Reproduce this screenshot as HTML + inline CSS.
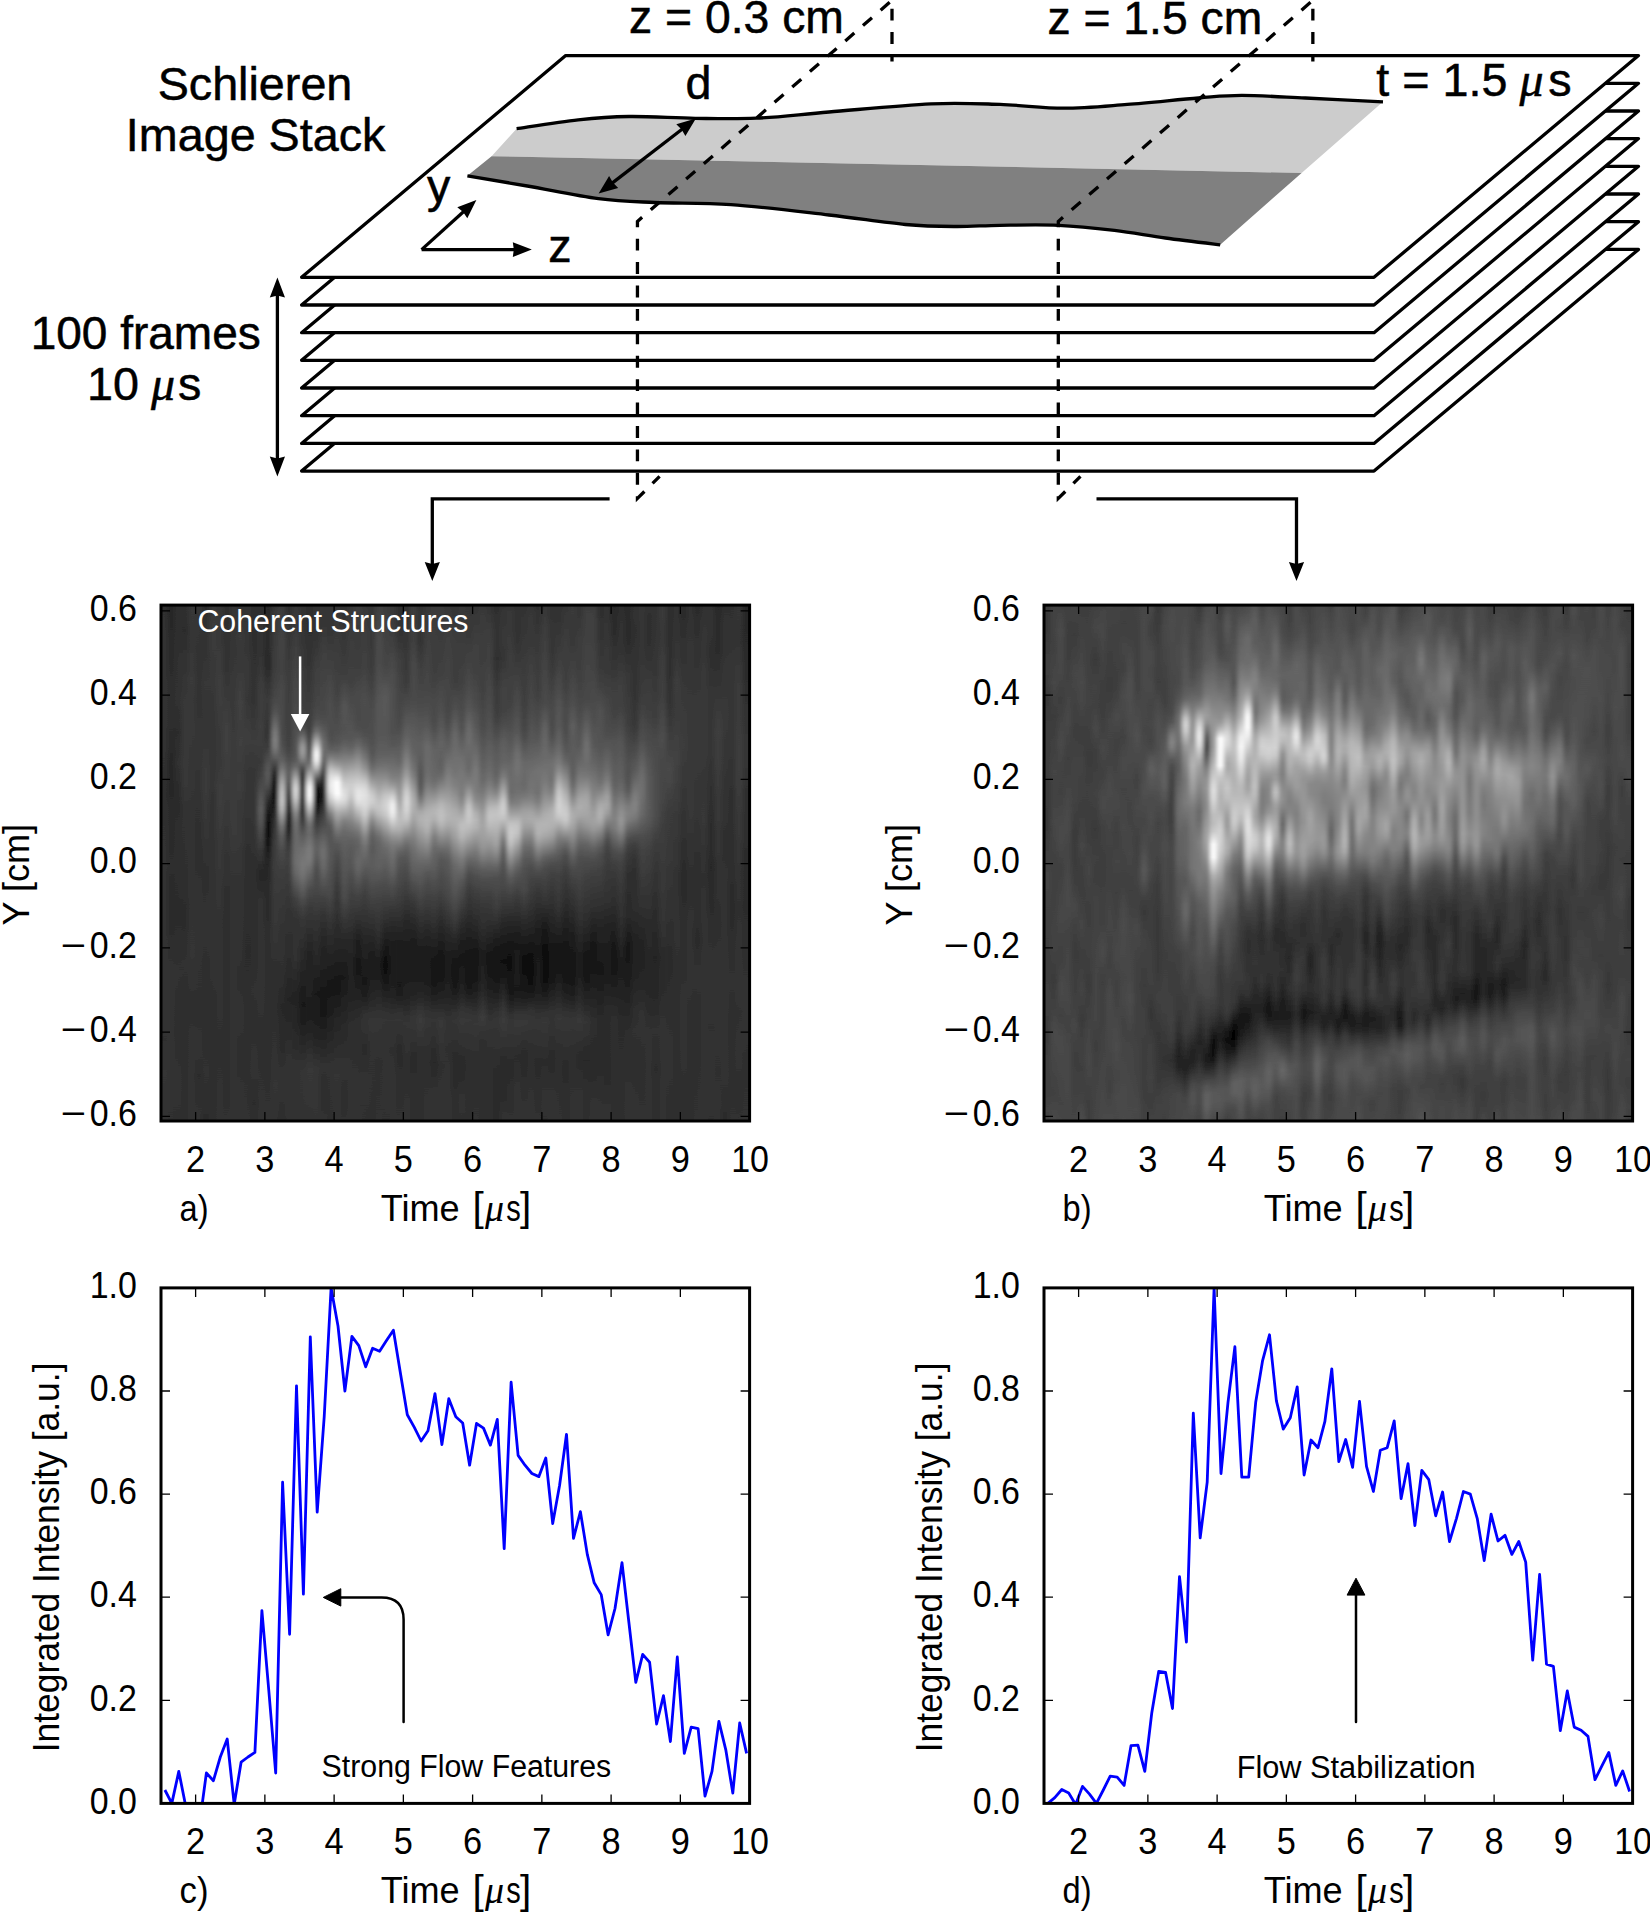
<!DOCTYPE html>
<html lang="en"><head><meta charset="utf-8"><title>Schlieren image stack analysis</title>
<style>html,body{margin:0;padding:0;background:#fff}body{width:1650px;height:1912px;overflow:hidden}svg{display:block}text{font-family:"Liberation Sans", Arial, Helvetica, sans-serif;fill:#000}.mu{font-family:"Liberation Serif", "DejaVu Serif", serif;font-style:italic}</style>
</head><body>
<svg width="1650" height="1912" viewBox="0 0 1650 1912">
<rect width="1650" height="1912" fill="#fff"/>
<defs></defs>

<g id="stack" stroke="#000" stroke-width="3.3" fill="#fff" stroke-linejoin="round">
<path d="M565.7 249.4L1638.5 249.4L1374.0 471.1L301.6 471.1Z"/>
<path d="M565.7 221.7L1638.5 221.7L1374.0 443.4L301.6 443.4Z"/>
<path d="M565.7 194.0L1638.5 194.0L1374.0 415.7L301.6 415.7Z"/>
<path d="M565.7 166.3L1638.5 166.3L1374.0 388.0L301.6 388.0Z"/>
<path d="M565.7 138.6L1638.5 138.6L1374.0 360.3L301.6 360.3Z"/>
<path d="M565.7 111.0L1638.5 111.0L1374.0 332.7L301.6 332.7Z"/>
<path d="M565.7 83.3L1638.5 83.3L1374.0 305.0L301.6 305.0Z"/>
<path d="M565.7 55.6L1638.5 55.6L1374.0 277.3L301.6 277.3Z"/>
</g>
<g id="jet">
<path d="M516.6 128.7C526.9 127.2 559.5 121.8 578.2 119.8C596.9 117.8 609.5 116.8 629.0 116.5C648.5 116.2 674.0 118.0 695.2 118.3C716.4 118.6 734.0 119.2 756.3 118.2C778.6 117.2 799.9 114.4 829.0 112.0C858.1 109.6 902.5 105.1 931.0 103.8C959.5 102.5 977.9 103.7 1000.0 104.4C1022.1 105.1 1042.4 108.2 1063.6 108.2C1084.8 108.2 1104.8 106.1 1127.3 104.4C1149.8 102.7 1179.4 99.5 1198.5 98.0C1217.6 96.5 1224.0 95.4 1241.8 95.4C1259.6 95.4 1281.9 96.9 1305.4 98.0C1328.9 99.1 1370.1 101.2 1383.0 101.8L1301.6 173.0L491.6 156.2Z" fill="#cccccc"/>
<path d="M467.4 175.8C477.4 177.5 505.4 182.2 527.3 186.0C549.1 189.8 577.3 195.9 598.5 198.7C619.7 201.4 632.4 201.5 654.5 202.5C676.6 203.5 701.8 202.5 730.9 204.6C760.0 206.7 799.9 211.7 829.0 215.0C858.1 218.3 884.2 222.6 905.4 224.5C926.6 226.4 940.2 226.4 956.0 226.5C971.8 226.6 982.9 225.5 1000.0 225.3C1017.1 225.1 1039.4 224.5 1058.5 225.3C1077.6 226.1 1096.7 228.2 1114.5 230.3C1132.3 232.4 1147.8 235.6 1165.4 238.0C1183.0 240.4 1211.1 243.7 1220.2 244.8L1301.6 173.0L491.6 156.2Z" fill="#808080"/>
<path d="M516.6 128.7C526.9 127.2 559.5 121.8 578.2 119.8C596.9 117.8 609.5 116.8 629.0 116.5C648.5 116.2 674.0 118.0 695.2 118.3C716.4 118.6 734.0 119.2 756.3 118.2C778.6 117.2 799.9 114.4 829.0 112.0C858.1 109.6 902.5 105.1 931.0 103.8C959.5 102.5 977.9 103.7 1000.0 104.4C1022.1 105.1 1042.4 108.2 1063.6 108.2C1084.8 108.2 1104.8 106.1 1127.3 104.4C1149.8 102.7 1179.4 99.5 1198.5 98.0C1217.6 96.5 1224.0 95.4 1241.8 95.4C1259.6 95.4 1281.9 96.9 1305.4 98.0C1328.9 99.1 1370.1 101.2 1383.0 101.8" fill="none" stroke="#000" stroke-width="3.3"/>
<path d="M467.4 175.8C477.4 177.5 505.4 182.2 527.3 186.0C549.1 189.8 577.3 195.9 598.5 198.7C619.7 201.4 632.4 201.5 654.5 202.5C676.6 203.5 701.8 202.5 730.9 204.6C760.0 206.7 799.9 211.7 829.0 215.0C858.1 218.3 884.2 222.6 905.4 224.5C926.6 226.4 940.2 226.4 956.0 226.5C971.8 226.6 982.9 225.5 1000.0 225.3C1017.1 225.1 1039.4 224.5 1058.5 225.3C1077.6 226.1 1096.7 228.2 1114.5 230.3C1132.3 232.4 1147.8 235.6 1165.4 238.0C1183.0 240.4 1211.1 243.7 1220.2 244.8" fill="none" stroke="#000" stroke-width="3.3"/>
</g>
<g id="planes" fill="none" stroke="#000" stroke-width="3.3" stroke-dasharray="11.93 11.49" stroke-dashoffset="2">
<path d="M659.6 476.4L637.45 498.4V221.4L892 0.3V61.6"/>
<path d="M1080.45 476.4L1058.3 498.4V221.4L1312.85 0.3V61.6"/>
</g>
<g id="arrows" stroke="#000" stroke-width="3.3" fill="none">
<path d="M609.6 498.8H432.3V566"/>
<path d="M1096.5 498.8H1296.5V566"/>
<path d="M277.4 292V462"/>
<path d="M421.6 249.6H516"/>
<path d="M421.6 249.6L464 211.2"/>
<path d="M684 127.8L610.5 184.4"/>
</g>
<g id="arrowheads">
<path d="M432.3 581.0 L424.7 562.0 L432.3 564.0 L439.9 562.0Z" fill="#000"/>
<path d="M1296.5 581.0 L1288.9 562.0 L1296.5 564.0 L1304.1 562.0Z" fill="#000"/>
<path d="M277.4 277.6 L285.0 297.6 L277.4 295.6 L269.8 297.6Z" fill="#000"/>
<path d="M277.4 476.4 L269.8 456.4 L277.4 458.4 L285.0 456.4Z" fill="#000"/>
<path d="M531.8 249.6 L512.8 257.0 L513.8 249.6 L512.8 242.2Z" fill="#000"/>
<path d="M476.4 200.0 L467.3 218.2 L463.1 212.1 L457.3 207.3Z" fill="#000"/>
<path d="M695.9 118.6 L685.4 136.1 L681.6 129.6 L676.3 124.3Z" fill="#000"/>
<path d="M598.6 193.6 L609.1 176.1 L612.9 182.6 L618.2 187.9Z" fill="#000"/>
</g>
<g id="toplabels" font-size="46.7" stroke="#000" stroke-width="0.5">
<text x="255" y="99.6" text-anchor="middle">Schlieren</text>
<text x="255.6" y="151.0" text-anchor="middle">Image Stack</text>
<text x="145.7" y="349" text-anchor="middle" font-size="46">100 frames</text>
<text x="87" y="399.5">10</text><text class="mu" x="151" y="399.5" font-size="48">μ</text><text x="178" y="399.5">s</text>
<text x="629" y="33.2" font-size="46.3">z = 0.3 cm</text>
<text x="1047.4" y="34.2" font-size="46.3">z = 1.5 cm</text>
<text x="1376.3" y="96.4">t = 1.5</text><text class="mu" x="1519.5" y="96.4" font-size="48">μ</text><text x="1548.3" y="96.4">s</text>
<text x="685.5" y="99.2">d</text>
<text x="427.0" y="202">y</text>
<text x="548.3" y="261.8">z</text>
</g>
<g id="img-a">
<rect x="161.00" y="605.10" width="588.60" height="515.90" fill="#303030"/>
<defs><linearGradient id="a0" x2="0" y2="1"><stop offset="0" stop-color="#2f2f2f"/><stop offset=".083" stop-color="#323232"/><stop offset=".373" stop-color="#2f2f2f"/><stop offset=".765" stop-color="#333333"/><stop offset=".841" stop-color="#2f2f2f"/><stop offset=".905" stop-color="#343434"/><stop offset="1" stop-color="#323232"/></linearGradient><linearGradient id="a1" x2="0" y2="1"><stop offset="0" stop-color="#262626"/><stop offset=".151" stop-color="#2d2d2d"/><stop offset=".235" stop-color="#2d2d2d"/><stop offset=".309" stop-color="#262626"/><stop offset=".507" stop-color="#2d2d2d"/><stop offset=".59" stop-color="#292929"/><stop offset=".73" stop-color="#323232"/><stop offset=".8" stop-color="#303030"/><stop offset=".897" stop-color="#323232"/><stop offset="1" stop-color="#2f2f2f"/></linearGradient><linearGradient id="a2" x2="0" y2="1"><stop offset="0" stop-color="#2f2f2f"/><stop offset=".19" stop-color="#303030"/><stop offset=".247" stop-color="#2c2c2c"/><stop offset=".307" stop-color="#303030"/><stop offset=".367" stop-color="#2a2a2a"/><stop offset=".439" stop-color="#2e2e2e"/><stop offset=".608" stop-color="#2c2c2c"/><stop offset=".713" stop-color="#303030"/><stop offset=".829" stop-color="#2d2d2d"/><stop offset=".92" stop-color="#313131"/><stop offset="1" stop-color="#2f2f2f"/></linearGradient><linearGradient id="a3" x2="0" y2="1"><stop offset="0" stop-color="#2f2f2f"/><stop offset=".05" stop-color="#2c2c2c"/><stop offset=".163" stop-color="#363636"/><stop offset=".243" stop-color="#393939"/><stop offset=".34" stop-color="#383838"/><stop offset=".414" stop-color="#303030"/><stop offset=".522" stop-color="#2f2f2f"/><stop offset=".604" stop-color="#2b2b2b"/><stop offset=".695" stop-color="#303030"/><stop offset=".781" stop-color="#2d2d2d"/><stop offset="1" stop-color="#2f2f2f"/></linearGradient><linearGradient id="a4" x2="0" y2="1"><stop offset="0" stop-color="#373737"/><stop offset=".082" stop-color="#363636"/><stop offset=".144" stop-color="#3a3a3a"/><stop offset=".419" stop-color="#323232"/><stop offset=".68" stop-color="#343434"/><stop offset=".773" stop-color="#2e2e2e"/><stop offset=".845" stop-color="#313131"/><stop offset="1" stop-color="#313131"/></linearGradient><linearGradient id="a5" x2="0" y2="1"><stop offset="0" stop-color="#353535"/><stop offset=".161" stop-color="#313131"/><stop offset=".287" stop-color="#363636"/><stop offset=".359" stop-color="#303030"/><stop offset=".491" stop-color="#2e2e2e"/><stop offset=".557" stop-color="#313131"/><stop offset=".812" stop-color="#2f2f2f"/><stop offset=".858" stop-color="#323232"/><stop offset=".911" stop-color="#2c2c2c"/><stop offset="1" stop-color="#313131"/></linearGradient><linearGradient id="a6" x2="0" y2="1"><stop offset="0" stop-color="#2b2b2b"/><stop offset=".151" stop-color="#373737"/><stop offset=".245" stop-color="#343434"/><stop offset=".332" stop-color="#3b3b3b"/><stop offset=".388" stop-color="#393939"/><stop offset=".52" stop-color="#2e2e2e"/><stop offset=".614" stop-color="#313131"/><stop offset=".767" stop-color="#2d2d2d"/><stop offset=".903" stop-color="#303030"/><stop offset=".957" stop-color="#2f2f2f"/><stop offset="1" stop-color="#2b2b2b"/></linearGradient><linearGradient id="a7" x2="0" y2="1"><stop offset="0" stop-color="#383838"/><stop offset=".058" stop-color="#3b3b3b"/><stop offset=".225" stop-color="#343434"/><stop offset=".32" stop-color="#363636"/><stop offset=".383" stop-color="#323232"/><stop offset=".602" stop-color="#333333"/><stop offset=".759" stop-color="#2f2f2f"/><stop offset="1" stop-color="#2f2f2f"/></linearGradient><linearGradient id="a8" x2="0" y2="1"><stop offset="0" stop-color="#363636"/><stop offset=".169" stop-color="#3d3d3d"/><stop offset=".289" stop-color="#373737"/><stop offset=".361" stop-color="#3d3d3d"/><stop offset=".604" stop-color="#333333"/><stop offset=".858" stop-color="#2f2f2f"/><stop offset="1" stop-color="#313131"/></linearGradient><linearGradient id="a9" x2="0" y2="1"><stop offset="0" stop-color="#2e2e2e"/><stop offset=".109" stop-color="#313131"/><stop offset=".25" stop-color="#414141"/><stop offset=".583" stop-color="#2d2d2d"/><stop offset=".936" stop-color="#2e2e2e"/><stop offset="1" stop-color="#303030"/></linearGradient><linearGradient id="a10" x2="0" y2="1"><stop offset="0" stop-color="#343434"/><stop offset=".28" stop-color="#3a3a3a"/><stop offset=".443" stop-color="#3a3a3a"/><stop offset=".509" stop-color="#343434"/><stop offset=".633" stop-color="#303030"/><stop offset="1" stop-color="#313131"/></linearGradient><linearGradient id="a11" x2="0" y2="1"><stop offset="0" stop-color="#2f2f2f"/><stop offset=".06" stop-color="#3a3a3a"/><stop offset=".12" stop-color="#383838"/><stop offset=".188" stop-color="#424242"/><stop offset=".231" stop-color="#3e3e3e"/><stop offset=".27" stop-color="#3f3f3f"/><stop offset=".313" stop-color="#3b3b3b"/><stop offset=".35" stop-color="#3d3d3d"/><stop offset=".388" stop-color="#383838"/><stop offset=".423" stop-color="#393939"/><stop offset=".55" stop-color="#323232"/><stop offset=".631" stop-color="#333333"/><stop offset=".722" stop-color="#2e2e2e"/><stop offset=".798" stop-color="#323232"/><stop offset=".868" stop-color="#2d2d2d"/><stop offset=".948" stop-color="#313131"/><stop offset="1" stop-color="#303030"/></linearGradient><linearGradient id="a12" x2="0" y2="1"><stop offset="0" stop-color="#323232"/><stop offset=".134" stop-color="#383838"/><stop offset=".186" stop-color="#363636"/><stop offset=".254" stop-color="#3d3d3d"/><stop offset=".322" stop-color="#363636"/><stop offset=".377" stop-color="#363636"/><stop offset=".468" stop-color="#2f2f2f"/><stop offset=".67" stop-color="#2c2c2c"/><stop offset="1" stop-color="#303030"/></linearGradient><linearGradient id="a13" x2="0" y2="1"><stop offset="0" stop-color="#2e2e2e"/><stop offset=".167" stop-color="#303030"/><stop offset=".266" stop-color="#3c3c3c"/><stop offset=".326" stop-color="#353535"/><stop offset=".416" stop-color="#343434"/><stop offset=".52" stop-color="#2d2d2d"/><stop offset=".676" stop-color="#2d2d2d"/><stop offset=".746" stop-color="#303030"/><stop offset=".794" stop-color="#2e2e2e"/><stop offset=".901" stop-color="#313131"/><stop offset=".965" stop-color="#2c2c2c"/><stop offset="1" stop-color="#2e2e2e"/></linearGradient><linearGradient id="a14" x2="0" y2="1"><stop offset="0" stop-color="#2f2f2f"/><stop offset=".097" stop-color="#333333"/><stop offset=".151" stop-color="#3c3c3c"/><stop offset=".196" stop-color="#3c3c3c"/><stop offset=".235" stop-color="#3f3f3f"/><stop offset=".305" stop-color="#393939"/><stop offset=".332" stop-color="#414141"/><stop offset=".379" stop-color="#5a5a5a"/><stop offset=".396" stop-color="#5f5f5f"/><stop offset=".416" stop-color="#5a5a5a"/><stop offset=".47" stop-color="#3c3c3c"/><stop offset=".507" stop-color="#2a2a2a"/><stop offset=".522" stop-color="#262626"/><stop offset=".571" stop-color="#303030"/><stop offset=".6" stop-color="#323232"/><stop offset=".763" stop-color="#313131"/><stop offset=".839" stop-color="#2e2e2e"/><stop offset="1" stop-color="#313131"/></linearGradient><linearGradient id="a15" x2="0" y2="1"><stop offset="0" stop-color="#282828"/><stop offset=".064" stop-color="#2a2a2a"/><stop offset=".12" stop-color="#272727"/><stop offset=".184" stop-color="#3a3a3a"/><stop offset=".235" stop-color="#323232"/><stop offset=".254" stop-color="#323232"/><stop offset=".274" stop-color="#393939"/><stop offset=".311" stop-color="#565656"/><stop offset=".326" stop-color="#5b5b5b"/><stop offset=".336" stop-color="#595959"/><stop offset=".348" stop-color="#515151"/><stop offset=".383" stop-color="#272727"/><stop offset=".408" stop-color="#0f0f0f"/><stop offset=".421" stop-color="#050505"/><stop offset=".433" stop-color="#020202"/><stop offset=".449" stop-color="#060606"/><stop offset=".491" stop-color="#212121"/><stop offset=".522" stop-color="#282828"/><stop offset=".672" stop-color="#2f2f2f"/><stop offset=".794" stop-color="#2d2d2d"/><stop offset="1" stop-color="#303030"/></linearGradient><linearGradient id="a16" x2="0" y2="1"><stop offset="0" stop-color="#363636"/><stop offset=".136" stop-color="#3f3f3f"/><stop offset=".179" stop-color="#464646"/><stop offset=".206" stop-color="#535353"/><stop offset=".247" stop-color="#7b7b7b"/><stop offset=".262" stop-color="#828282"/><stop offset=".274" stop-color="#7e7e7e"/><stop offset=".285" stop-color="#707070"/><stop offset=".297" stop-color="#5c5c5c"/><stop offset=".33" stop-color="#181818"/><stop offset=".34" stop-color="#080808"/><stop offset=".348" stop-color="#000000"/><stop offset=".371" stop-color="#010101"/><stop offset=".402" stop-color="#242424"/><stop offset=".421" stop-color="#333333"/><stop offset=".441" stop-color="#393939"/><stop offset=".47" stop-color="#3e3e3e"/><stop offset=".633" stop-color="#363636"/><stop offset=".703" stop-color="#2e2e2e"/><stop offset=".862" stop-color="#303030"/><stop offset=".928" stop-color="#343434"/><stop offset="1" stop-color="#323232"/></linearGradient><linearGradient id="a17" x2="0" y2="1"><stop offset="0" stop-color="#3b3b3b"/><stop offset=".078" stop-color="#454545"/><stop offset=".122" stop-color="#424242"/><stop offset=".173" stop-color="#494949"/><stop offset=".247" stop-color="#494949"/><stop offset=".272" stop-color="#4f4f4f"/><stop offset=".287" stop-color="#575757"/><stop offset=".301" stop-color="#626262"/><stop offset=".315" stop-color="#767676"/><stop offset=".338" stop-color="#a2a2a2"/><stop offset=".35" stop-color="#b5b5b5"/><stop offset=".363" stop-color="#c3c3c3"/><stop offset=".377" stop-color="#c9c9c9"/><stop offset=".386" stop-color="#c5c5c5"/><stop offset=".396" stop-color="#bababa"/><stop offset=".429" stop-color="#787878"/><stop offset=".447" stop-color="#606060"/><stop offset=".476" stop-color="#4c4c4c"/><stop offset=".515" stop-color="#3d3d3d"/><stop offset=".643" stop-color="#313131"/><stop offset=".72" stop-color="#2f2f2f"/><stop offset=".777" stop-color="#282828"/><stop offset=".856" stop-color="#2b2b2b"/><stop offset=".926" stop-color="#333333"/><stop offset="1" stop-color="#2c2c2c"/></linearGradient><linearGradient id="a18" x2="0" y2="1"><stop offset="0" stop-color="#2d2d2d"/><stop offset=".12" stop-color="#3b3b3b"/><stop offset=".266" stop-color="#3f3f3f"/><stop offset=".283" stop-color="#444444"/><stop offset=".313" stop-color="#575757"/><stop offset=".324" stop-color="#5b5b5b"/><stop offset=".332" stop-color="#595959"/><stop offset=".342" stop-color="#525252"/><stop offset=".39" stop-color="#101010"/><stop offset=".4" stop-color="#070707"/><stop offset=".41" stop-color="#040404"/><stop offset=".425" stop-color="#0b0b0b"/><stop offset=".452" stop-color="#2a2a2a"/><stop offset=".464" stop-color="#353535"/><stop offset=".478" stop-color="#3c3c3c"/><stop offset=".491" stop-color="#3f3f3f"/><stop offset=".608" stop-color="#313131"/><stop offset=".676" stop-color="#2d2d2d"/><stop offset=".765" stop-color="#242424"/><stop offset=".901" stop-color="#333333"/><stop offset="1" stop-color="#323232"/></linearGradient><linearGradient id="a19" x2="0" y2="1"><stop offset="0" stop-color="#393939"/><stop offset=".056" stop-color="#3b3b3b"/><stop offset=".097" stop-color="#414141"/><stop offset=".293" stop-color="#545454"/><stop offset=".303" stop-color="#5c5c5c"/><stop offset=".313" stop-color="#6c6c6c"/><stop offset=".32" stop-color="#808080"/><stop offset=".34" stop-color="#bcbcbc"/><stop offset=".348" stop-color="#cecece"/><stop offset=".355" stop-color="#d9d9d9"/><stop offset=".361" stop-color="#dadada"/><stop offset=".367" stop-color="#d7d7d7"/><stop offset=".373" stop-color="#d0d0d0"/><stop offset=".381" stop-color="#c1c1c1"/><stop offset=".404" stop-color="#8c8c8c"/><stop offset=".414" stop-color="#7d7d7d"/><stop offset=".423" stop-color="#747474"/><stop offset=".437" stop-color="#6d6d6d"/><stop offset=".454" stop-color="#6a6a6a"/><stop offset=".497" stop-color="#6e6e6e"/><stop offset=".511" stop-color="#6b6b6b"/><stop offset=".524" stop-color="#646464"/><stop offset=".567" stop-color="#424242"/><stop offset=".596" stop-color="#353535"/><stop offset=".623" stop-color="#313131"/><stop offset=".689" stop-color="#303030"/><stop offset=".757" stop-color="#232323"/><stop offset=".845" stop-color="#2a2a2a"/><stop offset=".899" stop-color="#323232"/><stop offset="1" stop-color="#313131"/></linearGradient><linearGradient id="a20" x2="0" y2="1"><stop offset="0" stop-color="#313131"/><stop offset=".221" stop-color="#404040"/><stop offset=".231" stop-color="#464646"/><stop offset=".241" stop-color="#525252"/><stop offset=".25" stop-color="#646464"/><stop offset=".27" stop-color="#939393"/><stop offset=".276" stop-color="#9c9c9c"/><stop offset=".282" stop-color="#9f9f9f"/><stop offset=".287" stop-color="#9c9c9c"/><stop offset=".295" stop-color="#8f8f8f"/><stop offset=".303" stop-color="#797979"/><stop offset=".32" stop-color="#3e3e3e"/><stop offset=".33" stop-color="#222222"/><stop offset=".34" stop-color="#0c0c0c"/><stop offset=".35" stop-color="#000000"/><stop offset=".377" stop-color="#000000"/><stop offset=".392" stop-color="#121212"/><stop offset=".431" stop-color="#494949"/><stop offset=".449" stop-color="#5d5d5d"/><stop offset=".472" stop-color="#6e6e6e"/><stop offset=".501" stop-color="#787878"/><stop offset=".515" stop-color="#767676"/><stop offset=".528" stop-color="#707070"/><stop offset=".583" stop-color="#444444"/><stop offset=".61" stop-color="#363636"/><stop offset=".773" stop-color="#191919"/><stop offset=".792" stop-color="#1a1a1a"/><stop offset=".901" stop-color="#343434"/><stop offset="1" stop-color="#333333"/></linearGradient><linearGradient id="a21" x2="0" y2="1"><stop offset="0" stop-color="#2d2d2d"/><stop offset=".099" stop-color="#313131"/><stop offset=".202" stop-color="#3d3d3d"/><stop offset=".247" stop-color="#3e3e3e"/><stop offset=".278" stop-color="#474747"/><stop offset=".293" stop-color="#555555"/><stop offset=".307" stop-color="#6e6e6e"/><stop offset=".318" stop-color="#8e8e8e"/><stop offset=".344" stop-color="#e5e5e5"/><stop offset=".351" stop-color="#f7f7f7"/><stop offset=".357" stop-color="#ffffff"/><stop offset=".369" stop-color="#ffffff"/><stop offset=".377" stop-color="#f4f4f4"/><stop offset=".386" stop-color="#dcdcdc"/><stop offset=".414" stop-color="#8c8c8c"/><stop offset=".423" stop-color="#797979"/><stop offset=".431" stop-color="#6f6f6f"/><stop offset=".445" stop-color="#6c6c6c"/><stop offset=".474" stop-color="#7c7c7c"/><stop offset=".489" stop-color="#7d7d7d"/><stop offset=".501" stop-color="#767676"/><stop offset=".553" stop-color="#4a4a4a"/><stop offset=".586" stop-color="#393939"/><stop offset=".683" stop-color="#212121"/><stop offset=".74" stop-color="#232323"/><stop offset=".783" stop-color="#1c1c1c"/><stop offset=".819" stop-color="#222222"/><stop offset=".899" stop-color="#373737"/><stop offset=".946" stop-color="#363636"/><stop offset="1" stop-color="#313131"/></linearGradient><linearGradient id="a22" x2="0" y2="1"><stop offset="0" stop-color="#313131"/><stop offset=".062" stop-color="#323232"/><stop offset=".124" stop-color="#3f3f3f"/><stop offset=".196" stop-color="#454545"/><stop offset=".221" stop-color="#4f4f4f"/><stop offset=".233" stop-color="#5b5b5b"/><stop offset=".245" stop-color="#717171"/><stop offset=".254" stop-color="#8e8e8e"/><stop offset=".278" stop-color="#e4e4e4"/><stop offset=".285" stop-color="#f6f6f6"/><stop offset=".291" stop-color="#fbfbfb"/><stop offset=".299" stop-color="#f5f5f5"/><stop offset=".303" stop-color="#ececec"/><stop offset=".309" stop-color="#dadada"/><stop offset=".317" stop-color="#b9b9b9"/><stop offset=".338" stop-color="#535353"/><stop offset=".35" stop-color="#252525"/><stop offset=".359" stop-color="#0c0c0c"/><stop offset=".369" stop-color="#000000"/><stop offset=".377" stop-color="#000000"/><stop offset=".383" stop-color="#050505"/><stop offset=".412" stop-color="#2f2f2f"/><stop offset=".439" stop-color="#4a4a4a"/><stop offset=".456" stop-color="#5a5a5a"/><stop offset=".47" stop-color="#5f5f5f"/><stop offset=".482" stop-color="#5d5d5d"/><stop offset=".513" stop-color="#4c4c4c"/><stop offset=".55" stop-color="#474747"/><stop offset=".616" stop-color="#323232"/><stop offset=".676" stop-color="#292929"/><stop offset=".753" stop-color="#191919"/><stop offset=".829" stop-color="#212121"/><stop offset=".903" stop-color="#363636"/><stop offset="1" stop-color="#333333"/></linearGradient><linearGradient id="a23" x2="0" y2="1"><stop offset="0" stop-color="#353535"/><stop offset=".031" stop-color="#353535"/><stop offset=".103" stop-color="#404040"/><stop offset=".204" stop-color="#474747"/><stop offset=".229" stop-color="#505050"/><stop offset=".266" stop-color="#6b6b6b"/><stop offset=".28" stop-color="#6e6e6e"/><stop offset=".291" stop-color="#696969"/><stop offset=".303" stop-color="#5f5f5f"/><stop offset=".336" stop-color="#303030"/><stop offset=".348" stop-color="#222222"/><stop offset=".357" stop-color="#1c1c1c"/><stop offset=".365" stop-color="#1b1b1b"/><stop offset=".379" stop-color="#222222"/><stop offset=".408" stop-color="#3f3f3f"/><stop offset=".46" stop-color="#676767"/><stop offset=".472" stop-color="#6e6e6e"/><stop offset=".483" stop-color="#707070"/><stop offset=".507" stop-color="#696969"/><stop offset=".567" stop-color="#424242"/><stop offset=".602" stop-color="#323232"/><stop offset=".656" stop-color="#252525"/><stop offset=".72" stop-color="#1e1e1e"/><stop offset=".759" stop-color="#151515"/><stop offset=".784" stop-color="#161616"/><stop offset=".891" stop-color="#303030"/><stop offset=".957" stop-color="#2d2d2d"/><stop offset="1" stop-color="#313131"/></linearGradient><linearGradient id="a24" x2="0" y2="1"><stop offset="0" stop-color="#363636"/><stop offset=".052" stop-color="#353535"/><stop offset=".19" stop-color="#4d4d4d"/><stop offset=".249" stop-color="#4d4d4d"/><stop offset=".264" stop-color="#515151"/><stop offset=".278" stop-color="#5d5d5d"/><stop offset=".289" stop-color="#717171"/><stop offset=".299" stop-color="#898989"/><stop offset=".318" stop-color="#c1c1c1"/><stop offset=".33" stop-color="#dadada"/><stop offset=".34" stop-color="#e7e7e7"/><stop offset=".35" stop-color="#ebebeb"/><stop offset=".361" stop-color="#e5e5e5"/><stop offset=".373" stop-color="#d3d3d3"/><stop offset=".383" stop-color="#bcbcbc"/><stop offset=".404" stop-color="#808080"/><stop offset=".416" stop-color="#686868"/><stop offset=".427" stop-color="#595959"/><stop offset=".439" stop-color="#535353"/><stop offset=".487" stop-color="#575757"/><stop offset=".557" stop-color="#4a4a4a"/><stop offset=".621" stop-color="#313131"/><stop offset=".732" stop-color="#181818"/><stop offset=".767" stop-color="#1a1a1a"/><stop offset=".889" stop-color="#303030"/><stop offset="1" stop-color="#2f2f2f"/></linearGradient><linearGradient id="a25" x2="0" y2="1"><stop offset="0" stop-color="#353535"/><stop offset=".179" stop-color="#424242"/><stop offset=".264" stop-color="#535353"/><stop offset=".282" stop-color="#636363"/><stop offset=".297" stop-color="#7d7d7d"/><stop offset=".309" stop-color="#9a9a9a"/><stop offset=".334" stop-color="#e8e8e8"/><stop offset=".344" stop-color="#fefefe"/><stop offset=".365" stop-color="#ffffff"/><stop offset=".373" stop-color="#f2f2f2"/><stop offset=".402" stop-color="#aeaeae"/><stop offset=".435" stop-color="#7a7a7a"/><stop offset=".45" stop-color="#656565"/><stop offset=".464" stop-color="#575757"/><stop offset=".493" stop-color="#484848"/><stop offset=".557" stop-color="#363636"/><stop offset=".678" stop-color="#232323"/><stop offset=".732" stop-color="#161616"/><stop offset=".748" stop-color="#171717"/><stop offset=".8" stop-color="#252525"/><stop offset=".911" stop-color="#343434"/><stop offset="1" stop-color="#313131"/></linearGradient><linearGradient id="a26" x2="0" y2="1"><stop offset="0" stop-color="#2f2f2f"/><stop offset=".132" stop-color="#3d3d3d"/><stop offset=".196" stop-color="#555555"/><stop offset=".239" stop-color="#515151"/><stop offset=".254" stop-color="#545454"/><stop offset=".268" stop-color="#5e5e5e"/><stop offset=".285" stop-color="#707070"/><stop offset=".303" stop-color="#888888"/><stop offset=".344" stop-color="#c9c9c9"/><stop offset=".359" stop-color="#dbdbdb"/><stop offset=".369" stop-color="#e0e0e0"/><stop offset=".377" stop-color="#dcdcdc"/><stop offset=".384" stop-color="#d1d1d1"/><stop offset=".41" stop-color="#939393"/><stop offset=".419" stop-color="#7f7f7f"/><stop offset=".429" stop-color="#727272"/><stop offset=".441" stop-color="#686868"/><stop offset=".468" stop-color="#5e5e5e"/><stop offset=".565" stop-color="#4d4d4d"/><stop offset=".617" stop-color="#333333"/><stop offset=".649" stop-color="#282828"/><stop offset=".722" stop-color="#191919"/><stop offset=".806" stop-color="#282828"/><stop offset=".891" stop-color="#313131"/><stop offset=".961" stop-color="#2d2d2d"/><stop offset="1" stop-color="#303030"/></linearGradient><linearGradient id="a27" x2="0" y2="1"><stop offset="0" stop-color="#383838"/><stop offset=".146" stop-color="#404040"/><stop offset=".202" stop-color="#4d4d4d"/><stop offset=".258" stop-color="#565656"/><stop offset=".274" stop-color="#606060"/><stop offset=".287" stop-color="#707070"/><stop offset=".326" stop-color="#b2b2b2"/><stop offset=".338" stop-color="#c3c3c3"/><stop offset=".348" stop-color="#cccccc"/><stop offset=".355" stop-color="#cecece"/><stop offset=".363" stop-color="#cbcbcb"/><stop offset=".371" stop-color="#c5c5c5"/><stop offset=".423" stop-color="#7f7f7f"/><stop offset=".443" stop-color="#6a6a6a"/><stop offset=".456" stop-color="#606060"/><stop offset=".47" stop-color="#5a5a5a"/><stop offset=".501" stop-color="#565656"/><stop offset=".534" stop-color="#494949"/><stop offset=".649" stop-color="#282828"/><stop offset=".687" stop-color="#232323"/><stop offset=".744" stop-color="#222222"/><stop offset=".767" stop-color="#242424"/><stop offset=".814" stop-color="#2e2e2e"/><stop offset="1" stop-color="#323232"/></linearGradient><linearGradient id="a28" x2="0" y2="1"><stop offset="0" stop-color="#3d3d3d"/><stop offset=".043" stop-color="#393939"/><stop offset=".118" stop-color="#3d3d3d"/><stop offset=".177" stop-color="#4a4a4a"/><stop offset=".223" stop-color="#4a4a4a"/><stop offset=".239" stop-color="#4d4d4d"/><stop offset=".254" stop-color="#575757"/><stop offset=".272" stop-color="#696969"/><stop offset=".35" stop-color="#d8d8d8"/><stop offset=".359" stop-color="#e3e3e3"/><stop offset=".369" stop-color="#e7e7e7"/><stop offset=".377" stop-color="#e4e4e4"/><stop offset=".384" stop-color="#dcdcdc"/><stop offset=".427" stop-color="#888888"/><stop offset=".441" stop-color="#737373"/><stop offset=".454" stop-color="#666666"/><stop offset=".468" stop-color="#616161"/><stop offset=".497" stop-color="#676767"/><stop offset=".511" stop-color="#656565"/><stop offset=".563" stop-color="#434343"/><stop offset=".65" stop-color="#1f1f1f"/><stop offset=".703" stop-color="#161616"/><stop offset=".81" stop-color="#2f2f2f"/><stop offset="1" stop-color="#303030"/></linearGradient><linearGradient id="a29" x2="0" y2="1"><stop offset="0" stop-color="#363636"/><stop offset=".054" stop-color="#3d3d3d"/><stop offset=".117" stop-color="#404040"/><stop offset=".183" stop-color="#4d4d4d"/><stop offset=".235" stop-color="#4b4b4b"/><stop offset=".254" stop-color="#505050"/><stop offset=".274" stop-color="#5e5e5e"/><stop offset=".297" stop-color="#777777"/><stop offset=".317" stop-color="#949494"/><stop offset=".34" stop-color="#c3c3c3"/><stop offset=".35" stop-color="#d4d4d4"/><stop offset=".359" stop-color="#dedede"/><stop offset=".369" stop-color="#e2e2e2"/><stop offset=".388" stop-color="#dbdbdb"/><stop offset=".406" stop-color="#cdcdcd"/><stop offset=".419" stop-color="#bababa"/><stop offset=".45" stop-color="#868686"/><stop offset=".468" stop-color="#737373"/><stop offset=".538" stop-color="#484848"/><stop offset=".565" stop-color="#3d3d3d"/><stop offset=".65" stop-color="#262626"/><stop offset=".728" stop-color="#181818"/><stop offset=".753" stop-color="#1c1c1c"/><stop offset=".79" stop-color="#2f2f2f"/><stop offset=".806" stop-color="#333333"/><stop offset=".858" stop-color="#2b2b2b"/><stop offset=".92" stop-color="#313131"/><stop offset="1" stop-color="#2f2f2f"/></linearGradient><linearGradient id="a30" x2="0" y2="1"><stop offset="0" stop-color="#343434"/><stop offset=".136" stop-color="#3c3c3c"/><stop offset=".202" stop-color="#4b4b4b"/><stop offset=".262" stop-color="#4f4f4f"/><stop offset=".287" stop-color="#545454"/><stop offset=".303" stop-color="#5e5e5e"/><stop offset=".317" stop-color="#6d6d6d"/><stop offset=".33" stop-color="#848484"/><stop offset=".361" stop-color="#c2c2c2"/><stop offset=".369" stop-color="#cccccc"/><stop offset=".377" stop-color="#d0d0d0"/><stop offset=".384" stop-color="#cccccc"/><stop offset=".392" stop-color="#c1c1c1"/><stop offset=".417" stop-color="#898989"/><stop offset=".429" stop-color="#747474"/><stop offset=".439" stop-color="#676767"/><stop offset=".45" stop-color="#5e5e5e"/><stop offset=".47" stop-color="#585858"/><stop offset=".501" stop-color="#5c5c5c"/><stop offset=".518" stop-color="#595959"/><stop offset=".602" stop-color="#353535"/><stop offset=".662" stop-color="#212121"/><stop offset=".687" stop-color="#1c1c1c"/><stop offset=".713" stop-color="#1d1d1d"/><stop offset=".759" stop-color="#262626"/><stop offset=".808" stop-color="#363636"/><stop offset=".858" stop-color="#303030"/><stop offset="1" stop-color="#2f2f2f"/></linearGradient><linearGradient id="a31" x2="0" y2="1"><stop offset="0" stop-color="#414141"/><stop offset=".066" stop-color="#4b4b4b"/><stop offset=".105" stop-color="#4b4b4b"/><stop offset=".194" stop-color="#565656"/><stop offset=".247" stop-color="#565656"/><stop offset=".28" stop-color="#5d5d5d"/><stop offset=".295" stop-color="#646464"/><stop offset=".311" stop-color="#707070"/><stop offset=".371" stop-color="#b8b8b8"/><stop offset=".381" stop-color="#c1c1c1"/><stop offset=".39" stop-color="#c5c5c5"/><stop offset=".398" stop-color="#c2c2c2"/><stop offset=".406" stop-color="#bababa"/><stop offset=".439" stop-color="#7c7c7c"/><stop offset=".449" stop-color="#6e6e6e"/><stop offset=".458" stop-color="#666666"/><stop offset=".47" stop-color="#636363"/><stop offset=".505" stop-color="#616161"/><stop offset=".546" stop-color="#4b4b4b"/><stop offset=".583" stop-color="#3d3d3d"/><stop offset=".65" stop-color="#2b2b2b"/><stop offset=".687" stop-color="#1e1e1e"/><stop offset=".717" stop-color="#1d1d1d"/><stop offset=".804" stop-color="#353535"/><stop offset=".885" stop-color="#2f2f2f"/><stop offset="1" stop-color="#303030"/></linearGradient><linearGradient id="a32" x2="0" y2="1"><stop offset="0" stop-color="#3d3d3d"/><stop offset=".118" stop-color="#454545"/><stop offset=".179" stop-color="#5a5a5a"/><stop offset=".245" stop-color="#565656"/><stop offset=".282" stop-color="#5d5d5d"/><stop offset=".301" stop-color="#686868"/><stop offset=".318" stop-color="#787878"/><stop offset=".336" stop-color="#8f8f8f"/><stop offset=".369" stop-color="#c5c5c5"/><stop offset=".379" stop-color="#cfcfcf"/><stop offset=".388" stop-color="#d3d3d3"/><stop offset=".398" stop-color="#cfcfcf"/><stop offset=".408" stop-color="#c6c6c6"/><stop offset=".45" stop-color="#818181"/><stop offset=".462" stop-color="#737373"/><stop offset=".474" stop-color="#696969"/><stop offset=".685" stop-color="#0f0f0f"/><stop offset=".699" stop-color="#0d0d0d"/><stop offset=".713" stop-color="#101010"/><stop offset=".783" stop-color="#2e2e2e"/><stop offset=".804" stop-color="#343434"/><stop offset=".85" stop-color="#303030"/><stop offset=".901" stop-color="#323232"/><stop offset="1" stop-color="#2f2f2f"/></linearGradient><linearGradient id="a33" x2="0" y2="1"><stop offset="0" stop-color="#373737"/><stop offset=".074" stop-color="#404040"/><stop offset=".134" stop-color="#4d4d4d"/><stop offset=".165" stop-color="#4f4f4f"/><stop offset=".243" stop-color="#4f4f4f"/><stop offset=".268" stop-color="#555555"/><stop offset=".32" stop-color="#747474"/><stop offset=".334" stop-color="#808080"/><stop offset=".342" stop-color="#8c8c8c"/><stop offset=".35" stop-color="#9c9c9c"/><stop offset=".371" stop-color="#d3d3d3"/><stop offset=".379" stop-color="#e4e4e4"/><stop offset=".386" stop-color="#f0f0f0"/><stop offset=".394" stop-color="#f3f3f3"/><stop offset=".402" stop-color="#f0f0f0"/><stop offset=".41" stop-color="#e6e6e6"/><stop offset=".449" stop-color="#949494"/><stop offset=".458" stop-color="#858585"/><stop offset=".468" stop-color="#7a7a7a"/><stop offset=".48" stop-color="#727272"/><stop offset=".513" stop-color="#646464"/><stop offset=".548" stop-color="#4d4d4d"/><stop offset=".594" stop-color="#343434"/><stop offset=".627" stop-color="#262626"/><stop offset=".656" stop-color="#1e1e1e"/><stop offset=".676" stop-color="#1d1d1d"/><stop offset=".75" stop-color="#202020"/><stop offset=".804" stop-color="#343434"/><stop offset=".864" stop-color="#2f2f2f"/><stop offset=".926" stop-color="#333333"/><stop offset="1" stop-color="#323232"/></linearGradient><linearGradient id="a34" x2="0" y2="1"><stop offset="0" stop-color="#2e2e2e"/><stop offset=".052" stop-color="#313131"/><stop offset=".111" stop-color="#404040"/><stop offset=".216" stop-color="#474747"/><stop offset=".235" stop-color="#4b4b4b"/><stop offset=".305" stop-color="#666666"/><stop offset=".35" stop-color="#8e8e8e"/><stop offset=".377" stop-color="#a1a1a1"/><stop offset=".402" stop-color="#b7b7b7"/><stop offset=".416" stop-color="#bcbcbc"/><stop offset=".425" stop-color="#b9b9b9"/><stop offset=".435" stop-color="#afafaf"/><stop offset=".472" stop-color="#6c6c6c"/><stop offset=".482" stop-color="#5f5f5f"/><stop offset=".491" stop-color="#565656"/><stop offset=".569" stop-color="#3d3d3d"/><stop offset=".649" stop-color="#1f1f1f"/><stop offset=".738" stop-color="#191919"/><stop offset=".755" stop-color="#1e1e1e"/><stop offset=".788" stop-color="#303030"/><stop offset=".804" stop-color="#343434"/><stop offset=".86" stop-color="#2b2b2b"/><stop offset="1" stop-color="#303030"/></linearGradient><linearGradient id="a35" x2="0" y2="1"><stop offset="0" stop-color="#303030"/><stop offset=".151" stop-color="#3b3b3b"/><stop offset=".25" stop-color="#606060"/><stop offset=".276" stop-color="#6f6f6f"/><stop offset=".313" stop-color="#8b8b8b"/><stop offset=".33" stop-color="#9f9f9f"/><stop offset=".363" stop-color="#cfcfcf"/><stop offset=".373" stop-color="#d7d7d7"/><stop offset=".383" stop-color="#dadada"/><stop offset=".398" stop-color="#d5d5d5"/><stop offset=".414" stop-color="#c6c6c6"/><stop offset=".425" stop-color="#b3b3b3"/><stop offset=".456" stop-color="#777777"/><stop offset=".466" stop-color="#696969"/><stop offset=".478" stop-color="#5d5d5d"/><stop offset=".495" stop-color="#535353"/><stop offset=".614" stop-color="#272727"/><stop offset=".66" stop-color="#1e1e1e"/><stop offset=".687" stop-color="#1c1c1c"/><stop offset=".753" stop-color="#212121"/><stop offset=".81" stop-color="#343434"/><stop offset=".891" stop-color="#2e2e2e"/><stop offset="1" stop-color="#313131"/></linearGradient><linearGradient id="a36" x2="0" y2="1"><stop offset="0" stop-color="#3c3c3c"/><stop offset=".064" stop-color="#404040"/><stop offset=".12" stop-color="#494949"/><stop offset=".184" stop-color="#4a4a4a"/><stop offset=".235" stop-color="#595959"/><stop offset=".287" stop-color="#636363"/><stop offset=".318" stop-color="#737373"/><stop offset=".332" stop-color="#7f7f7f"/><stop offset=".365" stop-color="#a5a5a5"/><stop offset=".377" stop-color="#adadad"/><stop offset=".386" stop-color="#afafaf"/><stop offset=".4" stop-color="#acacac"/><stop offset=".416" stop-color="#a2a2a2"/><stop offset=".458" stop-color="#7a7a7a"/><stop offset=".474" stop-color="#6f6f6f"/><stop offset=".515" stop-color="#5e5e5e"/><stop offset=".577" stop-color="#373737"/><stop offset=".641" stop-color="#202020"/><stop offset=".678" stop-color="#1b1b1b"/><stop offset=".701" stop-color="#1b1b1b"/><stop offset=".755" stop-color="#242424"/><stop offset=".794" stop-color="#333333"/><stop offset=".808" stop-color="#363636"/><stop offset=".88" stop-color="#2a2a2a"/><stop offset=".94" stop-color="#2f2f2f"/><stop offset="1" stop-color="#2f2f2f"/></linearGradient><linearGradient id="a37" x2="0" y2="1"><stop offset="0" stop-color="#313131"/><stop offset=".068" stop-color="#313131"/><stop offset=".124" stop-color="#3f3f3f"/><stop offset=".183" stop-color="#484848"/><stop offset=".268" stop-color="#5e5e5e"/><stop offset=".291" stop-color="#5d5d5d"/><stop offset=".332" stop-color="#525252"/><stop offset=".348" stop-color="#535353"/><stop offset=".357" stop-color="#585858"/><stop offset=".365" stop-color="#616161"/><stop offset=".375" stop-color="#717171"/><stop offset=".4" stop-color="#a5a5a5"/><stop offset=".408" stop-color="#aeaeae"/><stop offset=".416" stop-color="#b1b1b1"/><stop offset=".427" stop-color="#ababab"/><stop offset=".478" stop-color="#797979"/><stop offset=".503" stop-color="#656565"/><stop offset=".602" stop-color="#343434"/><stop offset=".668" stop-color="#1d1d1d"/><stop offset=".697" stop-color="#1a1a1a"/><stop offset=".738" stop-color="#212121"/><stop offset=".759" stop-color="#272727"/><stop offset=".792" stop-color="#373737"/><stop offset=".806" stop-color="#3b3b3b"/><stop offset=".866" stop-color="#2d2d2d"/><stop offset="1" stop-color="#2f2f2f"/></linearGradient><linearGradient id="a38" x2="0" y2="1"><stop offset="0" stop-color="#383838"/><stop offset=".111" stop-color="#434343"/><stop offset=".165" stop-color="#454545"/><stop offset=".223" stop-color="#535353"/><stop offset=".274" stop-color="#6a6a6a"/><stop offset=".324" stop-color="#6d6d6d"/><stop offset=".34" stop-color="#747474"/><stop offset=".353" stop-color="#7f7f7f"/><stop offset=".396" stop-color="#aeaeae"/><stop offset=".408" stop-color="#b5b5b5"/><stop offset=".417" stop-color="#b7b7b7"/><stop offset=".427" stop-color="#b5b5b5"/><stop offset=".439" stop-color="#adadad"/><stop offset=".493" stop-color="#6d6d6d"/><stop offset=".522" stop-color="#545454"/><stop offset=".542" stop-color="#4a4a4a"/><stop offset=".629" stop-color="#282828"/><stop offset=".662" stop-color="#1f1f1f"/><stop offset=".691" stop-color="#1a1a1a"/><stop offset=".72" stop-color="#1c1c1c"/><stop offset=".753" stop-color="#232323"/><stop offset=".792" stop-color="#323232"/><stop offset=".806" stop-color="#353535"/><stop offset=".866" stop-color="#2e2e2e"/><stop offset="1" stop-color="#313131"/></linearGradient><linearGradient id="a39" x2="0" y2="1"><stop offset="0" stop-color="#3a3a3a"/><stop offset=".13" stop-color="#3e3e3e"/><stop offset=".186" stop-color="#484848"/><stop offset=".227" stop-color="#4a4a4a"/><stop offset=".243" stop-color="#4f4f4f"/><stop offset=".282" stop-color="#636363"/><stop offset=".33" stop-color="#676767"/><stop offset=".342" stop-color="#6d6d6d"/><stop offset=".351" stop-color="#757575"/><stop offset=".388" stop-color="#ababab"/><stop offset=".396" stop-color="#b3b3b3"/><stop offset=".404" stop-color="#b5b5b5"/><stop offset=".416" stop-color="#aeaeae"/><stop offset=".45" stop-color="#7b7b7b"/><stop offset=".472" stop-color="#686868"/><stop offset=".511" stop-color="#5c5c5c"/><stop offset=".557" stop-color="#454545"/><stop offset=".678" stop-color="#1a1a1a"/><stop offset=".707" stop-color="#161616"/><stop offset=".738" stop-color="#191919"/><stop offset=".759" stop-color="#202020"/><stop offset=".79" stop-color="#303030"/><stop offset=".804" stop-color="#343434"/><stop offset=".887" stop-color="#282828"/><stop offset=".94" stop-color="#303030"/><stop offset="1" stop-color="#323232"/></linearGradient><linearGradient id="a40" x2="0" y2="1"><stop offset="0" stop-color="#3b3b3b"/><stop offset=".052" stop-color="#3a3a3a"/><stop offset=".13" stop-color="#404040"/><stop offset=".214" stop-color="#525252"/><stop offset=".266" stop-color="#636363"/><stop offset=".303" stop-color="#5f5f5f"/><stop offset=".315" stop-color="#606060"/><stop offset=".326" stop-color="#666666"/><stop offset=".338" stop-color="#727272"/><stop offset=".386" stop-color="#b5b5b5"/><stop offset=".398" stop-color="#bebebe"/><stop offset=".408" stop-color="#c1c1c1"/><stop offset=".417" stop-color="#bebebe"/><stop offset=".427" stop-color="#b4b4b4"/><stop offset=".472" stop-color="#6c6c6c"/><stop offset=".483" stop-color="#5f5f5f"/><stop offset=".495" stop-color="#555555"/><stop offset=".548" stop-color="#464646"/><stop offset=".602" stop-color="#2f2f2f"/><stop offset=".689" stop-color="#131313"/><stop offset=".715" stop-color="#141414"/><stop offset=".767" stop-color="#262626"/><stop offset=".808" stop-color="#383838"/><stop offset=".891" stop-color="#2f2f2f"/><stop offset="1" stop-color="#323232"/></linearGradient><linearGradient id="a41" x2="0" y2="1"><stop offset="0" stop-color="#363636"/><stop offset=".072" stop-color="#404040"/><stop offset=".146" stop-color="#444444"/><stop offset=".2" stop-color="#444444"/><stop offset=".223" stop-color="#484848"/><stop offset=".274" stop-color="#5e5e5e"/><stop offset=".35" stop-color="#8b8b8b"/><stop offset=".39" stop-color="#aeaeae"/><stop offset=".406" stop-color="#b4b4b4"/><stop offset=".416" stop-color="#b1b1b1"/><stop offset=".427" stop-color="#a8a8a8"/><stop offset=".47" stop-color="#6f6f6f"/><stop offset=".493" stop-color="#5b5b5b"/><stop offset=".569" stop-color="#454545"/><stop offset=".631" stop-color="#2a2a2a"/><stop offset=".668" stop-color="#202020"/><stop offset=".699" stop-color="#1c1c1c"/><stop offset=".753" stop-color="#222222"/><stop offset=".808" stop-color="#333333"/><stop offset=".858" stop-color="#2f2f2f"/><stop offset="1" stop-color="#333333"/></linearGradient><linearGradient id="a42" x2="0" y2="1"><stop offset="0" stop-color="#333333"/><stop offset=".054" stop-color="#3b3b3b"/><stop offset=".15" stop-color="#3e3e3e"/><stop offset=".198" stop-color="#4e4e4e"/><stop offset=".25" stop-color="#686868"/><stop offset=".324" stop-color="#737373"/><stop offset=".351" stop-color="#818181"/><stop offset=".398" stop-color="#ababab"/><stop offset=".414" stop-color="#b1b1b1"/><stop offset=".427" stop-color="#adadad"/><stop offset=".449" stop-color="#9f9f9f"/><stop offset=".491" stop-color="#747474"/><stop offset=".507" stop-color="#686868"/><stop offset=".577" stop-color="#4c4c4c"/><stop offset=".649" stop-color="#272727"/><stop offset=".701" stop-color="#131313"/><stop offset=".717" stop-color="#121212"/><stop offset=".734" stop-color="#151515"/><stop offset=".792" stop-color="#313131"/><stop offset=".806" stop-color="#343434"/><stop offset=".883" stop-color="#2a2a2a"/><stop offset="1" stop-color="#2f2f2f"/></linearGradient><linearGradient id="a43" x2="0" y2="1"><stop offset="0" stop-color="#373737"/><stop offset=".144" stop-color="#404040"/><stop offset=".241" stop-color="#515151"/><stop offset=".295" stop-color="#6e6e6e"/><stop offset=".328" stop-color="#787878"/><stop offset=".357" stop-color="#7a7a7a"/><stop offset=".369" stop-color="#7e7e7e"/><stop offset=".383" stop-color="#8a8a8a"/><stop offset=".416" stop-color="#b5b5b5"/><stop offset=".425" stop-color="#bdbdbd"/><stop offset=".433" stop-color="#bebebe"/><stop offset=".449" stop-color="#b5b5b5"/><stop offset=".491" stop-color="#7e7e7e"/><stop offset=".536" stop-color="#565656"/><stop offset=".606" stop-color="#303030"/><stop offset=".656" stop-color="#1d1d1d"/><stop offset=".685" stop-color="#181818"/><stop offset=".713" stop-color="#1b1b1b"/><stop offset=".75" stop-color="#232323"/><stop offset=".788" stop-color="#343434"/><stop offset=".804" stop-color="#383838"/><stop offset=".895" stop-color="#292929"/><stop offset=".957" stop-color="#313131"/><stop offset="1" stop-color="#2f2f2f"/></linearGradient><linearGradient id="a44" x2="0" y2="1"><stop offset="0" stop-color="#363636"/><stop offset=".05" stop-color="#373737"/><stop offset=".148" stop-color="#484848"/><stop offset=".198" stop-color="#555555"/><stop offset=".235" stop-color="#686868"/><stop offset=".25" stop-color="#6d6d6d"/><stop offset=".266" stop-color="#6d6d6d"/><stop offset=".299" stop-color="#666666"/><stop offset=".317" stop-color="#686868"/><stop offset=".332" stop-color="#727272"/><stop offset=".346" stop-color="#7f7f7f"/><stop offset=".388" stop-color="#c2c2c2"/><stop offset=".398" stop-color="#cacaca"/><stop offset=".406" stop-color="#cbcbcb"/><stop offset=".419" stop-color="#c6c6c6"/><stop offset=".439" stop-color="#b4b4b4"/><stop offset=".456" stop-color="#9e9e9e"/><stop offset=".493" stop-color="#686868"/><stop offset=".509" stop-color="#565656"/><stop offset=".524" stop-color="#494949"/><stop offset=".55" stop-color="#3c3c3c"/><stop offset=".654" stop-color="#1c1c1c"/><stop offset=".701" stop-color="#131313"/><stop offset=".724" stop-color="#121212"/><stop offset=".744" stop-color="#191919"/><stop offset=".786" stop-color="#323232"/><stop offset=".804" stop-color="#373737"/><stop offset=".874" stop-color="#2e2e2e"/><stop offset="1" stop-color="#2f2f2f"/></linearGradient><linearGradient id="a45" x2="0" y2="1"><stop offset="0" stop-color="#343434"/><stop offset=".085" stop-color="#404040"/><stop offset=".132" stop-color="#414141"/><stop offset=".183" stop-color="#4a4a4a"/><stop offset=".254" stop-color="#5e5e5e"/><stop offset=".318" stop-color="#797979"/><stop offset=".361" stop-color="#7d7d7d"/><stop offset=".377" stop-color="#898989"/><stop offset=".404" stop-color="#b0b0b0"/><stop offset=".417" stop-color="#b8b8b8"/><stop offset=".431" stop-color="#b2b2b2"/><stop offset=".478" stop-color="#787878"/><stop offset=".505" stop-color="#5e5e5e"/><stop offset=".526" stop-color="#4e4e4e"/><stop offset=".563" stop-color="#3c3c3c"/><stop offset=".672" stop-color="#171717"/><stop offset=".699" stop-color="#141414"/><stop offset=".73" stop-color="#191919"/><stop offset=".755" stop-color="#212121"/><stop offset=".794" stop-color="#333333"/><stop offset=".812" stop-color="#373737"/><stop offset=".876" stop-color="#2e2e2e"/><stop offset="1" stop-color="#303030"/></linearGradient><linearGradient id="a46" x2="0" y2="1"><stop offset="0" stop-color="#393939"/><stop offset=".167" stop-color="#414141"/><stop offset=".233" stop-color="#4a4a4a"/><stop offset=".34" stop-color="#696969"/><stop offset=".365" stop-color="#797979"/><stop offset=".408" stop-color="#9e9e9e"/><stop offset=".427" stop-color="#a4a4a4"/><stop offset=".45" stop-color="#9f9f9f"/><stop offset=".468" stop-color="#969696"/><stop offset=".48" stop-color="#8a8a8a"/><stop offset=".513" stop-color="#5d5d5d"/><stop offset=".536" stop-color="#4b4b4b"/><stop offset=".583" stop-color="#373737"/><stop offset=".631" stop-color="#2c2c2c"/><stop offset=".67" stop-color="#1f1f1f"/><stop offset=".689" stop-color="#1e1e1e"/><stop offset=".742" stop-color="#262626"/><stop offset=".798" stop-color="#3c3c3c"/><stop offset=".839" stop-color="#303030"/><stop offset=".86" stop-color="#2d2d2d"/><stop offset="1" stop-color="#2f2f2f"/></linearGradient><linearGradient id="a47" x2="0" y2="1"><stop offset="0" stop-color="#333333"/><stop offset=".058" stop-color="#3e3e3e"/><stop offset=".107" stop-color="#404040"/><stop offset=".239" stop-color="#535353"/><stop offset=".318" stop-color="#6a6a6a"/><stop offset=".336" stop-color="#727272"/><stop offset=".353" stop-color="#818181"/><stop offset=".367" stop-color="#919191"/><stop offset=".394" stop-color="#bbbbbb"/><stop offset=".402" stop-color="#c2c2c2"/><stop offset=".41" stop-color="#c5c5c5"/><stop offset=".417" stop-color="#c2c2c2"/><stop offset=".427" stop-color="#bbbbbb"/><stop offset=".468" stop-color="#929292"/><stop offset=".509" stop-color="#616161"/><stop offset=".53" stop-color="#4f4f4f"/><stop offset=".567" stop-color="#3d3d3d"/><stop offset=".633" stop-color="#292929"/><stop offset=".678" stop-color="#171717"/><stop offset=".699" stop-color="#151515"/><stop offset=".736" stop-color="#1c1c1c"/><stop offset=".81" stop-color="#353535"/><stop offset=".88" stop-color="#2d2d2d"/><stop offset="1" stop-color="#2d2d2d"/></linearGradient><linearGradient id="a48" x2="0" y2="1"><stop offset="0" stop-color="#2e2e2e"/><stop offset=".047" stop-color="#323232"/><stop offset=".105" stop-color="#2f2f2f"/><stop offset=".165" stop-color="#3a3a3a"/><stop offset=".21" stop-color="#3c3c3c"/><stop offset=".229" stop-color="#424242"/><stop offset=".274" stop-color="#575757"/><stop offset=".328" stop-color="#626262"/><stop offset=".342" stop-color="#696969"/><stop offset=".353" stop-color="#747474"/><stop offset=".365" stop-color="#868686"/><stop offset=".39" stop-color="#b7b7b7"/><stop offset=".398" stop-color="#c0c0c0"/><stop offset=".406" stop-color="#c3c3c3"/><stop offset=".416" stop-color="#c0c0c0"/><stop offset=".464" stop-color="#a1a1a1"/><stop offset=".478" stop-color="#909090"/><stop offset=".509" stop-color="#626262"/><stop offset=".528" stop-color="#4f4f4f"/><stop offset=".583" stop-color="#3e3e3e"/><stop offset=".649" stop-color="#1e1e1e"/><stop offset=".674" stop-color="#151515"/><stop offset=".695" stop-color="#121212"/><stop offset=".72" stop-color="#161616"/><stop offset=".755" stop-color="#202020"/><stop offset=".79" stop-color="#313131"/><stop offset=".804" stop-color="#353535"/><stop offset=".899" stop-color="#2c2c2c"/><stop offset="1" stop-color="#2c2c2c"/></linearGradient><linearGradient id="a49" x2="0" y2="1"><stop offset="0" stop-color="#333333"/><stop offset=".06" stop-color="#383838"/><stop offset=".103" stop-color="#353535"/><stop offset=".159" stop-color="#424242"/><stop offset=".208" stop-color="#434343"/><stop offset=".225" stop-color="#494949"/><stop offset=".266" stop-color="#5e5e5e"/><stop offset=".305" stop-color="#656565"/><stop offset=".318" stop-color="#6e6e6e"/><stop offset=".332" stop-color="#7d7d7d"/><stop offset=".377" stop-color="#c5c5c5"/><stop offset=".386" stop-color="#cecece"/><stop offset=".394" stop-color="#d0d0d0"/><stop offset=".404" stop-color="#cccccc"/><stop offset=".414" stop-color="#c2c2c2"/><stop offset=".458" stop-color="#737373"/><stop offset=".47" stop-color="#646464"/><stop offset=".483" stop-color="#595959"/><stop offset=".501" stop-color="#515151"/><stop offset=".546" stop-color="#474747"/><stop offset=".623" stop-color="#252525"/><stop offset=".676" stop-color="#131313"/><stop offset=".691" stop-color="#111111"/><stop offset=".707" stop-color="#131313"/><stop offset=".784" stop-color="#363636"/><stop offset=".804" stop-color="#3b3b3b"/><stop offset=".88" stop-color="#2b2b2b"/><stop offset=".959" stop-color="#2c2c2c"/><stop offset="1" stop-color="#323232"/></linearGradient><linearGradient id="a50" x2="0" y2="1"><stop offset="0" stop-color="#363636"/><stop offset=".196" stop-color="#424242"/><stop offset=".28" stop-color="#5b5b5b"/><stop offset=".317" stop-color="#696969"/><stop offset=".363" stop-color="#6b6b6b"/><stop offset=".375" stop-color="#727272"/><stop offset=".384" stop-color="#7d7d7d"/><stop offset=".423" stop-color="#c1c1c1"/><stop offset=".431" stop-color="#c8c8c8"/><stop offset=".441" stop-color="#cccccc"/><stop offset=".452" stop-color="#c9c9c9"/><stop offset=".464" stop-color="#bebebe"/><stop offset=".513" stop-color="#6f6f6f"/><stop offset=".528" stop-color="#5c5c5c"/><stop offset=".544" stop-color="#4e4e4e"/><stop offset=".567" stop-color="#3f3f3f"/><stop offset=".608" stop-color="#2a2a2a"/><stop offset=".67" stop-color="#121212"/><stop offset=".693" stop-color="#101010"/><stop offset=".742" stop-color="#141414"/><stop offset=".761" stop-color="#1c1c1c"/><stop offset=".796" stop-color="#313131"/><stop offset=".812" stop-color="#363636"/><stop offset=".891" stop-color="#2b2b2b"/><stop offset="1" stop-color="#303030"/></linearGradient><linearGradient id="a51" x2="0" y2="1"><stop offset="0" stop-color="#303030"/><stop offset=".072" stop-color="#333333"/><stop offset=".105" stop-color="#383838"/><stop offset=".245" stop-color="#575757"/><stop offset=".285" stop-color="#6d6d6d"/><stop offset=".301" stop-color="#727272"/><stop offset=".317" stop-color="#737373"/><stop offset=".348" stop-color="#6d6d6d"/><stop offset=".363" stop-color="#707070"/><stop offset=".383" stop-color="#7e7e7e"/><stop offset=".394" stop-color="#8f8f8f"/><stop offset=".419" stop-color="#bbbbbb"/><stop offset=".427" stop-color="#c3c3c3"/><stop offset=".435" stop-color="#c5c5c5"/><stop offset=".443" stop-color="#c2c2c2"/><stop offset=".45" stop-color="#bababa"/><stop offset=".495" stop-color="#737373"/><stop offset=".509" stop-color="#616161"/><stop offset=".522" stop-color="#545454"/><stop offset=".565" stop-color="#3b3b3b"/><stop offset=".645" stop-color="#1b1b1b"/><stop offset=".662" stop-color="#191919"/><stop offset=".699" stop-color="#1d1d1d"/><stop offset=".746" stop-color="#191919"/><stop offset=".761" stop-color="#1f1f1f"/><stop offset=".794" stop-color="#343434"/><stop offset=".81" stop-color="#383838"/><stop offset=".874" stop-color="#2c2c2c"/><stop offset=".957" stop-color="#323232"/><stop offset="1" stop-color="#313131"/></linearGradient><linearGradient id="a52" x2="0" y2="1"><stop offset="0" stop-color="#323232"/><stop offset=".12" stop-color="#3b3b3b"/><stop offset=".179" stop-color="#3c3c3c"/><stop offset=".239" stop-color="#444444"/><stop offset=".258" stop-color="#4c4c4c"/><stop offset=".305" stop-color="#676767"/><stop offset=".32" stop-color="#6a6a6a"/><stop offset=".348" stop-color="#696969"/><stop offset=".357" stop-color="#6c6c6c"/><stop offset=".371" stop-color="#787878"/><stop offset=".398" stop-color="#9e9e9e"/><stop offset=".406" stop-color="#a4a4a4"/><stop offset=".414" stop-color="#a7a7a7"/><stop offset=".421" stop-color="#a5a5a5"/><stop offset=".431" stop-color="#9e9e9e"/><stop offset=".468" stop-color="#6d6d6d"/><stop offset=".493" stop-color="#585858"/><stop offset=".511" stop-color="#505050"/><stop offset=".553" stop-color="#484848"/><stop offset=".6" stop-color="#303030"/><stop offset=".682" stop-color="#101010"/><stop offset=".705" stop-color="#0f0f0f"/><stop offset=".746" stop-color="#181818"/><stop offset=".763" stop-color="#1f1f1f"/><stop offset=".794" stop-color="#343434"/><stop offset=".808" stop-color="#383838"/><stop offset=".854" stop-color="#2d2d2d"/><stop offset=".88" stop-color="#2a2a2a"/><stop offset="1" stop-color="#323232"/></linearGradient><linearGradient id="a53" x2="0" y2="1"><stop offset="0" stop-color="#363636"/><stop offset=".078" stop-color="#393939"/><stop offset=".142" stop-color="#434343"/><stop offset=".184" stop-color="#464646"/><stop offset=".266" stop-color="#595959"/><stop offset=".322" stop-color="#6e6e6e"/><stop offset=".363" stop-color="#777777"/><stop offset=".377" stop-color="#838383"/><stop offset=".402" stop-color="#a4a4a4"/><stop offset=".414" stop-color="#aaaaaa"/><stop offset=".421" stop-color="#a7a7a7"/><stop offset=".429" stop-color="#a0a0a0"/><stop offset=".458" stop-color="#787878"/><stop offset=".474" stop-color="#666666"/><stop offset=".507" stop-color="#4d4d4d"/><stop offset=".528" stop-color="#444444"/><stop offset=".627" stop-color="#242424"/><stop offset=".685" stop-color="#0d0d0d"/><stop offset=".711" stop-color="#0b0b0b"/><stop offset=".734" stop-color="#101010"/><stop offset=".751" stop-color="#181818"/><stop offset=".784" stop-color="#303030"/><stop offset=".802" stop-color="#363636"/><stop offset=".87" stop-color="#2d2d2d"/><stop offset="1" stop-color="#323232"/></linearGradient><linearGradient id="a54" x2="0" y2="1"><stop offset="0" stop-color="#2e2e2e"/><stop offset=".068" stop-color="#383838"/><stop offset=".161" stop-color="#3d3d3d"/><stop offset=".249" stop-color="#525252"/><stop offset=".322" stop-color="#727272"/><stop offset=".365" stop-color="#707070"/><stop offset=".381" stop-color="#7c7c7c"/><stop offset=".414" stop-color="#aaaaaa"/><stop offset=".423" stop-color="#b2b2b2"/><stop offset=".433" stop-color="#b4b4b4"/><stop offset=".443" stop-color="#b2b2b2"/><stop offset=".454" stop-color="#a7a7a7"/><stop offset=".499" stop-color="#616161"/><stop offset=".524" stop-color="#464646"/><stop offset=".551" stop-color="#383838"/><stop offset=".631" stop-color="#1e1e1e"/><stop offset=".664" stop-color="#191919"/><stop offset=".732" stop-color="#1b1b1b"/><stop offset=".759" stop-color="#212121"/><stop offset=".794" stop-color="#313131"/><stop offset=".81" stop-color="#353535"/><stop offset=".887" stop-color="#2b2b2b"/><stop offset="1" stop-color="#303030"/></linearGradient><linearGradient id="a55" x2="0" y2="1"><stop offset="0" stop-color="#373737"/><stop offset=".132" stop-color="#464646"/><stop offset=".188" stop-color="#494949"/><stop offset=".241" stop-color="#646464"/><stop offset=".301" stop-color="#6c6c6c"/><stop offset=".338" stop-color="#797979"/><stop offset=".361" stop-color="#868686"/><stop offset=".406" stop-color="#adadad"/><stop offset=".425" stop-color="#b4b4b4"/><stop offset=".437" stop-color="#b0b0b0"/><stop offset=".449" stop-color="#a5a5a5"/><stop offset=".46" stop-color="#949494"/><stop offset=".489" stop-color="#616161"/><stop offset=".499" stop-color="#555555"/><stop offset=".511" stop-color="#4b4b4b"/><stop offset=".575" stop-color="#333333"/><stop offset=".625" stop-color="#1a1a1a"/><stop offset=".682" stop-color="#0b0b0b"/><stop offset=".701" stop-color="#090909"/><stop offset=".72" stop-color="#0c0c0c"/><stop offset=".751" stop-color="#1a1a1a"/><stop offset=".79" stop-color="#313131"/><stop offset=".808" stop-color="#373737"/><stop offset=".883" stop-color="#2c2c2c"/><stop offset=".957" stop-color="#313131"/><stop offset="1" stop-color="#2f2f2f"/></linearGradient><linearGradient id="a56" x2="0" y2="1"><stop offset="0" stop-color="#323232"/><stop offset=".12" stop-color="#373737"/><stop offset=".19" stop-color="#474747"/><stop offset=".247" stop-color="#4b4b4b"/><stop offset=".26" stop-color="#515151"/><stop offset=".301" stop-color="#6d6d6d"/><stop offset=".315" stop-color="#707070"/><stop offset=".34" stop-color="#707070"/><stop offset=".351" stop-color="#757575"/><stop offset=".363" stop-color="#808080"/><stop offset=".394" stop-color="#aaaaaa"/><stop offset=".404" stop-color="#b1b1b1"/><stop offset=".416" stop-color="#b4b4b4"/><stop offset=".431" stop-color="#afafaf"/><stop offset=".445" stop-color="#a3a3a3"/><stop offset=".456" stop-color="#939393"/><stop offset=".487" stop-color="#5e5e5e"/><stop offset=".499" stop-color="#505050"/><stop offset=".513" stop-color="#454545"/><stop offset=".534" stop-color="#3c3c3c"/><stop offset=".672" stop-color="#151515"/><stop offset=".695" stop-color="#121212"/><stop offset=".722" stop-color="#151515"/><stop offset=".786" stop-color="#303030"/><stop offset=".802" stop-color="#333333"/><stop offset=".883" stop-color="#2a2a2a"/><stop offset=".951" stop-color="#313131"/><stop offset="1" stop-color="#323232"/></linearGradient><linearGradient id="a57" x2="0" y2="1"><stop offset="0" stop-color="#2f2f2f"/><stop offset=".091" stop-color="#3b3b3b"/><stop offset=".192" stop-color="#535353"/><stop offset=".235" stop-color="#595959"/><stop offset=".268" stop-color="#656565"/><stop offset=".289" stop-color="#707070"/><stop offset=".307" stop-color="#7d7d7d"/><stop offset=".322" stop-color="#8e8e8e"/><stop offset=".35" stop-color="#b8b8b8"/><stop offset=".361" stop-color="#c6c6c6"/><stop offset=".375" stop-color="#d0d0d0"/><stop offset=".388" stop-color="#d4d4d4"/><stop offset=".4" stop-color="#d1d1d1"/><stop offset=".41" stop-color="#c8c8c8"/><stop offset=".419" stop-color="#b9b9b9"/><stop offset=".443" stop-color="#8c8c8c"/><stop offset=".454" stop-color="#7a7a7a"/><stop offset=".476" stop-color="#616161"/><stop offset=".497" stop-color="#4f4f4f"/><stop offset=".522" stop-color="#424242"/><stop offset=".581" stop-color="#353535"/><stop offset=".66" stop-color="#181818"/><stop offset=".682" stop-color="#141414"/><stop offset=".701" stop-color="#151515"/><stop offset=".802" stop-color="#373737"/><stop offset=".858" stop-color="#2e2e2e"/><stop offset="1" stop-color="#303030"/></linearGradient><linearGradient id="a58" x2="0" y2="1"><stop offset="0" stop-color="#353535"/><stop offset=".089" stop-color="#3e3e3e"/><stop offset=".146" stop-color="#3e3e3e"/><stop offset=".198" stop-color="#484848"/><stop offset=".247" stop-color="#4c4c4c"/><stop offset=".27" stop-color="#525252"/><stop offset=".287" stop-color="#5a5a5a"/><stop offset=".303" stop-color="#666666"/><stop offset=".369" stop-color="#b4b4b4"/><stop offset=".392" stop-color="#c8c8c8"/><stop offset=".406" stop-color="#cdcdcd"/><stop offset=".416" stop-color="#c9c9c9"/><stop offset=".423" stop-color="#bfbfbf"/><stop offset=".431" stop-color="#b0b0b0"/><stop offset=".452" stop-color="#7f7f7f"/><stop offset=".462" stop-color="#6b6b6b"/><stop offset=".474" stop-color="#595959"/><stop offset=".485" stop-color="#4d4d4d"/><stop offset=".513" stop-color="#3e3e3e"/><stop offset=".612" stop-color="#232323"/><stop offset=".672" stop-color="#141414"/><stop offset=".691" stop-color="#121212"/><stop offset=".746" stop-color="#1c1c1c"/><stop offset=".792" stop-color="#323232"/><stop offset=".808" stop-color="#363636"/><stop offset=".901" stop-color="#2a2a2a"/><stop offset=".957" stop-color="#2f2f2f"/><stop offset="1" stop-color="#2f2f2f"/></linearGradient><linearGradient id="a59" x2="0" y2="1"><stop offset="0" stop-color="#3a3a3a"/><stop offset=".074" stop-color="#383838"/><stop offset=".192" stop-color="#4f4f4f"/><stop offset=".233" stop-color="#5e5e5e"/><stop offset=".268" stop-color="#5b5b5b"/><stop offset=".33" stop-color="#5d5d5d"/><stop offset=".351" stop-color="#6a6a6a"/><stop offset=".365" stop-color="#7a7a7a"/><stop offset=".394" stop-color="#a4a4a4"/><stop offset=".404" stop-color="#acacac"/><stop offset=".412" stop-color="#adadad"/><stop offset=".421" stop-color="#aaaaaa"/><stop offset=".433" stop-color="#a0a0a0"/><stop offset=".491" stop-color="#5d5d5d"/><stop offset=".515" stop-color="#494949"/><stop offset=".557" stop-color="#373737"/><stop offset=".649" stop-color="#1b1b1b"/><stop offset=".711" stop-color="#161616"/><stop offset=".73" stop-color="#171717"/><stop offset=".757" stop-color="#1f1f1f"/><stop offset=".794" stop-color="#323232"/><stop offset=".808" stop-color="#363636"/><stop offset=".862" stop-color="#2e2e2e"/><stop offset="1" stop-color="#313131"/></linearGradient><linearGradient id="a60" x2="0" y2="1"><stop offset="0" stop-color="#333333"/><stop offset=".072" stop-color="#3d3d3d"/><stop offset=".124" stop-color="#3e3e3e"/><stop offset=".192" stop-color="#474747"/><stop offset=".272" stop-color="#585858"/><stop offset=".297" stop-color="#636363"/><stop offset=".322" stop-color="#727272"/><stop offset=".342" stop-color="#828282"/><stop offset=".377" stop-color="#a7a7a7"/><stop offset=".392" stop-color="#aeaeae"/><stop offset=".408" stop-color="#a6a6a6"/><stop offset=".456" stop-color="#6a6a6a"/><stop offset=".474" stop-color="#595959"/><stop offset=".489" stop-color="#4f4f4f"/><stop offset=".683" stop-color="#1d1d1d"/><stop offset=".713" stop-color="#1d1d1d"/><stop offset=".763" stop-color="#2a2a2a"/><stop offset=".804" stop-color="#383838"/><stop offset=".852" stop-color="#2e2e2e"/><stop offset=".883" stop-color="#2b2b2b"/><stop offset=".953" stop-color="#313131"/><stop offset="1" stop-color="#303030"/></linearGradient><linearGradient id="a61" x2="0" y2="1"><stop offset="0" stop-color="#3e3e3e"/><stop offset=".183" stop-color="#474747"/><stop offset=".268" stop-color="#6f6f6f"/><stop offset=".282" stop-color="#717171"/><stop offset=".307" stop-color="#6d6d6d"/><stop offset=".318" stop-color="#6f6f6f"/><stop offset=".332" stop-color="#797979"/><stop offset=".367" stop-color="#a1a1a1"/><stop offset=".377" stop-color="#a7a7a7"/><stop offset=".388" stop-color="#aaaaaa"/><stop offset=".406" stop-color="#a6a6a6"/><stop offset=".421" stop-color="#9d9d9d"/><stop offset=".431" stop-color="#929292"/><stop offset=".464" stop-color="#636363"/><stop offset=".491" stop-color="#4e4e4e"/><stop offset=".534" stop-color="#3e3e3e"/><stop offset=".614" stop-color="#2c2c2c"/><stop offset=".689" stop-color="#131313"/><stop offset=".717" stop-color="#141414"/><stop offset=".808" stop-color="#343434"/><stop offset=".883" stop-color="#282828"/><stop offset=".942" stop-color="#2f2f2f"/><stop offset="1" stop-color="#2f2f2f"/></linearGradient><linearGradient id="a62" x2="0" y2="1"><stop offset="0" stop-color="#3e3e3e"/><stop offset=".122" stop-color="#434343"/><stop offset=".219" stop-color="#4e4e4e"/><stop offset=".272" stop-color="#585858"/><stop offset=".307" stop-color="#656565"/><stop offset=".367" stop-color="#858585"/><stop offset=".402" stop-color="#9d9d9d"/><stop offset=".416" stop-color="#a1a1a1"/><stop offset=".425" stop-color="#9f9f9f"/><stop offset=".435" stop-color="#979797"/><stop offset=".474" stop-color="#5f5f5f"/><stop offset=".485" stop-color="#545454"/><stop offset=".501" stop-color="#494949"/><stop offset=".524" stop-color="#3f3f3f"/><stop offset=".588" stop-color="#2f2f2f"/><stop offset=".664" stop-color="#151515"/><stop offset=".697" stop-color="#161616"/><stop offset=".806" stop-color="#2e2e2e"/><stop offset=".899" stop-color="#2a2a2a"/><stop offset="1" stop-color="#343434"/></linearGradient><linearGradient id="a63" x2="0" y2="1"><stop offset="0" stop-color="#2d2d2d"/><stop offset=".117" stop-color="#383838"/><stop offset=".153" stop-color="#3f3f3f"/><stop offset=".204" stop-color="#515151"/><stop offset=".262" stop-color="#525252"/><stop offset=".291" stop-color="#595959"/><stop offset=".328" stop-color="#676767"/><stop offset=".344" stop-color="#707070"/><stop offset=".357" stop-color="#7e7e7e"/><stop offset=".386" stop-color="#a8a8a8"/><stop offset=".396" stop-color="#b0b0b0"/><stop offset=".404" stop-color="#b2b2b2"/><stop offset=".412" stop-color="#b0b0b0"/><stop offset=".421" stop-color="#a7a7a7"/><stop offset=".46" stop-color="#666666"/><stop offset=".472" stop-color="#575757"/><stop offset=".483" stop-color="#4e4e4e"/><stop offset=".517" stop-color="#404040"/><stop offset=".623" stop-color="#252525"/><stop offset=".707" stop-color="#171717"/><stop offset=".808" stop-color="#2b2b2b"/><stop offset=".872" stop-color="#292929"/><stop offset=".936" stop-color="#2f2f2f"/><stop offset="1" stop-color="#303030"/></linearGradient><linearGradient id="a64" x2="0" y2="1"><stop offset="0" stop-color="#303030"/><stop offset=".056" stop-color="#363636"/><stop offset=".126" stop-color="#383838"/><stop offset=".184" stop-color="#444444"/><stop offset=".252" stop-color="#4d4d4d"/><stop offset=".32" stop-color="#6e6e6e"/><stop offset=".338" stop-color="#7c7c7c"/><stop offset=".371" stop-color="#a0a0a0"/><stop offset=".386" stop-color="#a7a7a7"/><stop offset=".394" stop-color="#a5a5a5"/><stop offset=".404" stop-color="#9c9c9c"/><stop offset=".445" stop-color="#585858"/><stop offset=".454" stop-color="#4d4d4d"/><stop offset=".466" stop-color="#444444"/><stop offset=".483" stop-color="#3e3e3e"/><stop offset=".571" stop-color="#313131"/><stop offset=".631" stop-color="#212121"/><stop offset=".717" stop-color="#1c1c1c"/><stop offset=".79" stop-color="#2c2c2c"/><stop offset=".917" stop-color="#2b2b2b"/><stop offset="1" stop-color="#333333"/></linearGradient><linearGradient id="a65" x2="0" y2="1"><stop offset="0" stop-color="#282828"/><stop offset=".043" stop-color="#2a2a2a"/><stop offset=".124" stop-color="#363636"/><stop offset=".163" stop-color="#3e3e3e"/><stop offset=".214" stop-color="#424242"/><stop offset=".264" stop-color="#525252"/><stop offset=".35" stop-color="#616161"/><stop offset=".396" stop-color="#7b7b7b"/><stop offset=".414" stop-color="#808080"/><stop offset=".433" stop-color="#797979"/><stop offset=".474" stop-color="#505050"/><stop offset=".501" stop-color="#3f3f3f"/><stop offset=".524" stop-color="#373737"/><stop offset=".59" stop-color="#2b2b2b"/><stop offset=".672" stop-color="#141414"/><stop offset=".695" stop-color="#141414"/><stop offset=".783" stop-color="#2a2a2a"/><stop offset=".81" stop-color="#2f2f2f"/><stop offset="1" stop-color="#2e2e2e"/></linearGradient><linearGradient id="a66" x2="0" y2="1"><stop offset="0" stop-color="#2e2e2e"/><stop offset=".091" stop-color="#333333"/><stop offset=".157" stop-color="#3f3f3f"/><stop offset=".202" stop-color="#424242"/><stop offset=".266" stop-color="#555555"/><stop offset=".332" stop-color="#606060"/><stop offset=".359" stop-color="#6c6c6c"/><stop offset=".4" stop-color="#8f8f8f"/><stop offset=".416" stop-color="#969696"/><stop offset=".425" stop-color="#949494"/><stop offset=".435" stop-color="#8c8c8c"/><stop offset=".474" stop-color="#565656"/><stop offset=".485" stop-color="#4b4b4b"/><stop offset=".497" stop-color="#444444"/><stop offset=".526" stop-color="#3c3c3c"/><stop offset=".633" stop-color="#2b2b2b"/><stop offset=".685" stop-color="#1f1f1f"/><stop offset=".711" stop-color="#1e1e1e"/><stop offset=".823" stop-color="#2c2c2c"/><stop offset="1" stop-color="#2e2e2e"/></linearGradient><linearGradient id="a67" x2="0" y2="1"><stop offset="0" stop-color="#292929"/><stop offset=".076" stop-color="#2c2c2c"/><stop offset=".134" stop-color="#373737"/><stop offset=".229" stop-color="#3d3d3d"/><stop offset=".305" stop-color="#4f4f4f"/><stop offset=".346" stop-color="#515151"/><stop offset=".361" stop-color="#595959"/><stop offset=".39" stop-color="#7a7a7a"/><stop offset=".404" stop-color="#818181"/><stop offset=".417" stop-color="#7b7b7b"/><stop offset=".454" stop-color="#4b4b4b"/><stop offset=".466" stop-color="#414141"/><stop offset=".48" stop-color="#3a3a3a"/><stop offset=".52" stop-color="#2f2f2f"/><stop offset=".604" stop-color="#292929"/><stop offset=".662" stop-color="#161616"/><stop offset=".728" stop-color="#1d1d1d"/><stop offset=".825" stop-color="#2d2d2d"/><stop offset=".917" stop-color="#2f2f2f"/><stop offset=".969" stop-color="#333333"/><stop offset="1" stop-color="#323232"/></linearGradient><linearGradient id="a68" x2="0" y2="1"><stop offset="0" stop-color="#313131"/><stop offset=".05" stop-color="#2f2f2f"/><stop offset=".169" stop-color="#323232"/><stop offset=".235" stop-color="#373737"/><stop offset=".322" stop-color="#5b5b5b"/><stop offset=".369" stop-color="#7d7d7d"/><stop offset=".386" stop-color="#838383"/><stop offset=".398" stop-color="#818181"/><stop offset=".412" stop-color="#787878"/><stop offset=".449" stop-color="#4c4c4c"/><stop offset=".466" stop-color="#3d3d3d"/><stop offset=".487" stop-color="#343434"/><stop offset=".522" stop-color="#2d2d2d"/><stop offset=".584" stop-color="#2e2e2e"/><stop offset=".656" stop-color="#212121"/><stop offset=".707" stop-color="#212121"/><stop offset=".771" stop-color="#2c2c2c"/><stop offset=".823" stop-color="#303030"/><stop offset=".905" stop-color="#2e2e2e"/><stop offset="1" stop-color="#323232"/></linearGradient><linearGradient id="a69" x2="0" y2="1"><stop offset="0" stop-color="#353535"/><stop offset=".083" stop-color="#343434"/><stop offset=".181" stop-color="#3c3c3c"/><stop offset=".264" stop-color="#515151"/><stop offset=".33" stop-color="#6d6d6d"/><stop offset=".357" stop-color="#707070"/><stop offset=".383" stop-color="#6d6d6d"/><stop offset=".406" stop-color="#676767"/><stop offset=".45" stop-color="#4c4c4c"/><stop offset=".472" stop-color="#444444"/><stop offset=".656" stop-color="#232323"/><stop offset=".682" stop-color="#222222"/><stop offset=".736" stop-color="#272727"/><stop offset=".794" stop-color="#313131"/><stop offset=".895" stop-color="#2e2e2e"/><stop offset="1" stop-color="#303030"/></linearGradient><linearGradient id="a70" x2="0" y2="1"><stop offset="0" stop-color="#313131"/><stop offset=".039" stop-color="#2d2d2d"/><stop offset=".091" stop-color="#303030"/><stop offset=".144" stop-color="#3a3a3a"/><stop offset=".202" stop-color="#3e3e3e"/><stop offset=".336" stop-color="#595959"/><stop offset=".394" stop-color="#5a5a5a"/><stop offset=".417" stop-color="#575757"/><stop offset=".456" stop-color="#464646"/><stop offset=".482" stop-color="#3f3f3f"/><stop offset=".629" stop-color="#2a2a2a"/><stop offset=".736" stop-color="#262626"/><stop offset=".825" stop-color="#303030"/><stop offset="1" stop-color="#303030"/></linearGradient><linearGradient id="a71" x2="0" y2="1"><stop offset="0" stop-color="#333333"/><stop offset=".113" stop-color="#343434"/><stop offset=".217" stop-color="#3e3e3e"/><stop offset=".27" stop-color="#4a4a4a"/><stop offset=".35" stop-color="#4e4e4e"/><stop offset=".41" stop-color="#4d4d4d"/><stop offset=".46" stop-color="#3c3c3c"/><stop offset=".524" stop-color="#323232"/><stop offset=".683" stop-color="#242424"/><stop offset=".755" stop-color="#272727"/><stop offset=".821" stop-color="#303030"/><stop offset=".899" stop-color="#2c2c2c"/><stop offset=".959" stop-color="#2f2f2f"/><stop offset="1" stop-color="#2d2d2d"/></linearGradient><linearGradient id="a72" x2="0" y2="1"><stop offset="0" stop-color="#3b3b3b"/><stop offset=".066" stop-color="#383838"/><stop offset=".115" stop-color="#3e3e3e"/><stop offset=".173" stop-color="#404040"/><stop offset=".258" stop-color="#4e4e4e"/><stop offset=".305" stop-color="#464646"/><stop offset=".373" stop-color="#454545"/><stop offset=".435" stop-color="#3d3d3d"/><stop offset=".612" stop-color="#343434"/><stop offset=".676" stop-color="#2b2b2b"/><stop offset=".732" stop-color="#2b2b2b"/><stop offset=".831" stop-color="#323232"/><stop offset="1" stop-color="#313131"/></linearGradient><linearGradient id="a73" x2="0" y2="1"><stop offset="0" stop-color="#2d2d2d"/><stop offset=".122" stop-color="#2d2d2d"/><stop offset=".186" stop-color="#313131"/><stop offset=".318" stop-color="#484848"/><stop offset=".344" stop-color="#464646"/><stop offset=".398" stop-color="#3a3a3a"/><stop offset=".462" stop-color="#393939"/><stop offset=".682" stop-color="#2b2b2b"/><stop offset=".868" stop-color="#313131"/><stop offset="1" stop-color="#2e2e2e"/></linearGradient><linearGradient id="a74" x2="0" y2="1"><stop offset="0" stop-color="#303030"/><stop offset=".093" stop-color="#353535"/><stop offset=".144" stop-color="#3c3c3c"/><stop offset=".217" stop-color="#3b3b3b"/><stop offset=".295" stop-color="#434343"/><stop offset=".408" stop-color="#393939"/><stop offset=".538" stop-color="#323232"/><stop offset=".819" stop-color="#2d2d2d"/><stop offset="1" stop-color="#2f2f2f"/></linearGradient><linearGradient id="a75" x2="0" y2="1"><stop offset="0" stop-color="#2a2a2a"/><stop offset=".184" stop-color="#393939"/><stop offset=".272" stop-color="#3c3c3c"/><stop offset=".513" stop-color="#2b2b2b"/><stop offset=".724" stop-color="#2f2f2f"/><stop offset=".79" stop-color="#333333"/><stop offset="1" stop-color="#2d2d2d"/></linearGradient><linearGradient id="a76" x2="0" y2="1"><stop offset="0" stop-color="#323232"/><stop offset=".274" stop-color="#393939"/><stop offset=".402" stop-color="#383838"/><stop offset=".456" stop-color="#323232"/><stop offset=".54" stop-color="#2e2e2e"/><stop offset=".656" stop-color="#323232"/><stop offset=".856" stop-color="#2d2d2d"/><stop offset="1" stop-color="#2f2f2f"/></linearGradient><linearGradient id="a77" x2="0" y2="1"><stop offset="0" stop-color="#2b2b2b"/><stop offset=".192" stop-color="#383838"/><stop offset=".318" stop-color="#373737"/><stop offset=".45" stop-color="#323232"/><stop offset=".501" stop-color="#2d2d2d"/><stop offset=".586" stop-color="#2e2e2e"/><stop offset=".652" stop-color="#2b2b2b"/><stop offset=".717" stop-color="#313131"/><stop offset=".777" stop-color="#2e2e2e"/><stop offset="1" stop-color="#303030"/></linearGradient><linearGradient id="a78" x2="0" y2="1"><stop offset="0" stop-color="#323232"/><stop offset=".167" stop-color="#393939"/><stop offset=".282" stop-color="#393939"/><stop offset=".326" stop-color="#363636"/><stop offset=".421" stop-color="#373737"/><stop offset=".528" stop-color="#2f2f2f"/><stop offset=".639" stop-color="#333333"/><stop offset=".707" stop-color="#303030"/><stop offset="1" stop-color="#303030"/></linearGradient><linearGradient id="a79" x2="0" y2="1"><stop offset="0" stop-color="#323232"/><stop offset=".111" stop-color="#2e2e2e"/><stop offset=".181" stop-color="#363636"/><stop offset=".266" stop-color="#363636"/><stop offset=".379" stop-color="#2d2d2d"/><stop offset=".511" stop-color="#282828"/><stop offset=".734" stop-color="#333333"/><stop offset=".819" stop-color="#2f2f2f"/><stop offset=".883" stop-color="#333333"/><stop offset="1" stop-color="#2f2f2f"/></linearGradient><linearGradient id="a80" x2="0" y2="1"><stop offset="0" stop-color="#282828"/><stop offset=".109" stop-color="#2d2d2d"/><stop offset=".245" stop-color="#3f3f3f"/><stop offset=".606" stop-color="#2e2e2e"/><stop offset=".732" stop-color="#323232"/><stop offset=".903" stop-color="#2f2f2f"/><stop offset="1" stop-color="#313131"/></linearGradient><linearGradient id="a81" x2="0" y2="1"><stop offset="0" stop-color="#2f2f2f"/><stop offset=".212" stop-color="#383838"/><stop offset=".466" stop-color="#2e2e2e"/><stop offset=".588" stop-color="#333333"/><stop offset=".65" stop-color="#303030"/><stop offset=".753" stop-color="#333333"/><stop offset=".806" stop-color="#303030"/><stop offset=".913" stop-color="#313131"/><stop offset="1" stop-color="#2b2b2b"/></linearGradient><linearGradient id="a82" x2="0" y2="1"><stop offset="0" stop-color="#2f2f2f"/><stop offset=".054" stop-color="#303030"/><stop offset=".115" stop-color="#363636"/><stop offset=".272" stop-color="#353535"/><stop offset=".373" stop-color="#2e2e2e"/><stop offset=".505" stop-color="#2f2f2f"/><stop offset=".567" stop-color="#2a2a2a"/><stop offset=".73" stop-color="#303030"/><stop offset=".814" stop-color="#2d2d2d"/><stop offset="1" stop-color="#303030"/></linearGradient><linearGradient id="a83" x2="0" y2="1"><stop offset="0" stop-color="#343434"/><stop offset=".072" stop-color="#333333"/><stop offset=".153" stop-color="#3a3a3a"/><stop offset=".336" stop-color="#3d3d3d"/><stop offset=".586" stop-color="#2f2f2f"/><stop offset=".705" stop-color="#333333"/><stop offset=".79" stop-color="#2f2f2f"/><stop offset=".868" stop-color="#313131"/><stop offset=".944" stop-color="#2e2e2e"/><stop offset="1" stop-color="#303030"/></linearGradient><linearGradient id="a84" x2="0" y2="1"><stop offset="0" stop-color="#272727"/><stop offset=".097" stop-color="#292929"/><stop offset=".291" stop-color="#363636"/><stop offset=".365" stop-color="#2e2e2e"/><stop offset=".417" stop-color="#2f2f2f"/><stop offset=".518" stop-color="#2a2a2a"/><stop offset=".81" stop-color="#323232"/><stop offset=".87" stop-color="#2f2f2f"/><stop offset="1" stop-color="#303030"/></linearGradient><filter id="hba" x="-2%" y="0" width="104%" height="100%"><feGaussianBlur stdDeviation="2.3 0"/></filter><clipPath id="ica"><rect x="161.00" y="605.10" width="588.60" height="515.90"/></clipPath></defs><g clip-path="url(#ica)"><g filter="url(#hba)"><rect x="150.00" y="605.1" width="12" height="515.9" fill="url(#a0)"/><rect x="160.70" y="605.1" width="7.52" height="515.9" fill="url(#a0)"/><rect x="167.62" y="605.1" width="7.52" height="515.9" fill="url(#a1)"/><rect x="174.55" y="605.1" width="7.52" height="515.9" fill="url(#a2)"/><rect x="181.47" y="605.1" width="7.52" height="515.9" fill="url(#a3)"/><rect x="188.40" y="605.1" width="7.52" height="515.9" fill="url(#a4)"/><rect x="195.32" y="605.1" width="7.52" height="515.9" fill="url(#a5)"/><rect x="202.25" y="605.1" width="7.52" height="515.9" fill="url(#a6)"/><rect x="209.17" y="605.1" width="7.52" height="515.9" fill="url(#a7)"/><rect x="216.10" y="605.1" width="7.52" height="515.9" fill="url(#a8)"/><rect x="223.02" y="605.1" width="7.52" height="515.9" fill="url(#a9)"/><rect x="229.95" y="605.1" width="7.52" height="515.9" fill="url(#a10)"/><rect x="236.87" y="605.1" width="7.52" height="515.9" fill="url(#a11)"/><rect x="243.80" y="605.1" width="7.52" height="515.9" fill="url(#a12)"/><rect x="250.72" y="605.1" width="7.52" height="515.9" fill="url(#a13)"/><rect x="257.65" y="605.1" width="7.52" height="515.9" fill="url(#a14)"/><rect x="264.57" y="605.1" width="7.52" height="515.9" fill="url(#a15)"/><rect x="271.50" y="605.1" width="7.52" height="515.9" fill="url(#a16)"/><rect x="278.42" y="605.1" width="7.52" height="515.9" fill="url(#a17)"/><rect x="285.34" y="605.1" width="7.52" height="515.9" fill="url(#a18)"/><rect x="292.27" y="605.1" width="7.52" height="515.9" fill="url(#a19)"/><rect x="299.19" y="605.1" width="7.52" height="515.9" fill="url(#a20)"/><rect x="306.12" y="605.1" width="7.52" height="515.9" fill="url(#a21)"/><rect x="313.04" y="605.1" width="7.52" height="515.9" fill="url(#a22)"/><rect x="319.97" y="605.1" width="7.52" height="515.9" fill="url(#a23)"/><rect x="326.89" y="605.1" width="7.52" height="515.9" fill="url(#a24)"/><rect x="333.82" y="605.1" width="7.52" height="515.9" fill="url(#a25)"/><rect x="340.74" y="605.1" width="7.52" height="515.9" fill="url(#a26)"/><rect x="347.67" y="605.1" width="7.52" height="515.9" fill="url(#a27)"/><rect x="354.59" y="605.1" width="7.52" height="515.9" fill="url(#a28)"/><rect x="361.52" y="605.1" width="7.52" height="515.9" fill="url(#a29)"/><rect x="368.44" y="605.1" width="7.52" height="515.9" fill="url(#a30)"/><rect x="375.37" y="605.1" width="7.52" height="515.9" fill="url(#a31)"/><rect x="382.29" y="605.1" width="7.52" height="515.9" fill="url(#a32)"/><rect x="389.22" y="605.1" width="7.52" height="515.9" fill="url(#a33)"/><rect x="396.14" y="605.1" width="7.52" height="515.9" fill="url(#a34)"/><rect x="403.06" y="605.1" width="7.52" height="515.9" fill="url(#a35)"/><rect x="409.99" y="605.1" width="7.52" height="515.9" fill="url(#a36)"/><rect x="416.91" y="605.1" width="7.52" height="515.9" fill="url(#a37)"/><rect x="423.84" y="605.1" width="7.52" height="515.9" fill="url(#a38)"/><rect x="430.76" y="605.1" width="7.52" height="515.9" fill="url(#a39)"/><rect x="437.69" y="605.1" width="7.52" height="515.9" fill="url(#a40)"/><rect x="444.61" y="605.1" width="7.52" height="515.9" fill="url(#a41)"/><rect x="451.54" y="605.1" width="7.52" height="515.9" fill="url(#a42)"/><rect x="458.46" y="605.1" width="7.52" height="515.9" fill="url(#a43)"/><rect x="465.39" y="605.1" width="7.52" height="515.9" fill="url(#a44)"/><rect x="472.31" y="605.1" width="7.52" height="515.9" fill="url(#a45)"/><rect x="479.24" y="605.1" width="7.52" height="515.9" fill="url(#a46)"/><rect x="486.16" y="605.1" width="7.52" height="515.9" fill="url(#a47)"/><rect x="493.09" y="605.1" width="7.52" height="515.9" fill="url(#a48)"/><rect x="500.01" y="605.1" width="7.52" height="515.9" fill="url(#a49)"/><rect x="506.94" y="605.1" width="7.52" height="515.9" fill="url(#a50)"/><rect x="513.86" y="605.1" width="7.52" height="515.9" fill="url(#a51)"/><rect x="520.78" y="605.1" width="7.52" height="515.9" fill="url(#a52)"/><rect x="527.71" y="605.1" width="7.52" height="515.9" fill="url(#a53)"/><rect x="534.63" y="605.1" width="7.52" height="515.9" fill="url(#a54)"/><rect x="541.56" y="605.1" width="7.52" height="515.9" fill="url(#a55)"/><rect x="548.48" y="605.1" width="7.52" height="515.9" fill="url(#a56)"/><rect x="555.41" y="605.1" width="7.52" height="515.9" fill="url(#a57)"/><rect x="562.33" y="605.1" width="7.52" height="515.9" fill="url(#a58)"/><rect x="569.26" y="605.1" width="7.52" height="515.9" fill="url(#a59)"/><rect x="576.18" y="605.1" width="7.52" height="515.9" fill="url(#a60)"/><rect x="583.11" y="605.1" width="7.52" height="515.9" fill="url(#a61)"/><rect x="590.03" y="605.1" width="7.52" height="515.9" fill="url(#a62)"/><rect x="596.96" y="605.1" width="7.52" height="515.9" fill="url(#a63)"/><rect x="603.88" y="605.1" width="7.52" height="515.9" fill="url(#a64)"/><rect x="610.81" y="605.1" width="7.52" height="515.9" fill="url(#a65)"/><rect x="617.73" y="605.1" width="7.52" height="515.9" fill="url(#a66)"/><rect x="624.66" y="605.1" width="7.52" height="515.9" fill="url(#a67)"/><rect x="631.58" y="605.1" width="7.52" height="515.9" fill="url(#a68)"/><rect x="638.50" y="605.1" width="7.52" height="515.9" fill="url(#a69)"/><rect x="645.43" y="605.1" width="7.52" height="515.9" fill="url(#a70)"/><rect x="652.35" y="605.1" width="7.52" height="515.9" fill="url(#a71)"/><rect x="659.28" y="605.1" width="7.52" height="515.9" fill="url(#a72)"/><rect x="666.20" y="605.1" width="7.52" height="515.9" fill="url(#a73)"/><rect x="673.13" y="605.1" width="7.52" height="515.9" fill="url(#a74)"/><rect x="680.05" y="605.1" width="7.52" height="515.9" fill="url(#a75)"/><rect x="686.98" y="605.1" width="7.52" height="515.9" fill="url(#a76)"/><rect x="693.90" y="605.1" width="7.52" height="515.9" fill="url(#a77)"/><rect x="700.83" y="605.1" width="7.52" height="515.9" fill="url(#a78)"/><rect x="707.75" y="605.1" width="7.52" height="515.9" fill="url(#a79)"/><rect x="714.68" y="605.1" width="7.52" height="515.9" fill="url(#a80)"/><rect x="721.60" y="605.1" width="7.52" height="515.9" fill="url(#a81)"/><rect x="728.53" y="605.1" width="7.52" height="515.9" fill="url(#a82)"/><rect x="735.45" y="605.1" width="7.52" height="515.9" fill="url(#a83)"/><rect x="742.38" y="605.1" width="7.52" height="515.9" fill="url(#a84)"/><rect x="748.60" y="605.1" width="12" height="515.9" fill="url(#a84)"/></g></g>
<path d="M161.00 610.91h9M749.60 610.91h-9M161.00 695.14h9M749.60 695.14h-9M161.00 779.37h9M749.60 779.37h-9M161.00 863.60h9M749.60 863.60h-9M161.00 947.83h9M749.60 947.83h-9M161.00 1032.06h9M749.60 1032.06h-9M161.00 1116.29h9M749.60 1116.29h-9" stroke="#000" stroke-width="1.3" fill="none"/>
<path d="M195.62 1121.00v-9M195.62 605.10v9M264.87 1121.00v-9M264.87 605.10v9M334.12 1121.00v-9M334.12 605.10v9M403.36 1121.00v-9M403.36 605.10v9M472.61 1121.00v-9M472.61 605.10v9M541.86 1121.00v-9M541.86 605.10v9M611.11 1121.00v-9M611.11 605.10v9M680.35 1121.00v-9M680.35 605.10v9" stroke="#000" stroke-width="1.3" fill="none"/>
<rect x="161.00" y="605.10" width="588.60" height="515.90" fill="none" stroke="#000" stroke-width="3.0"/>
<text x="136.90" y="620.71" font-size="36.5" text-anchor="end" textLength="47.2" lengthAdjust="spacingAndGlyphs">0.6</text><text x="136.90" y="704.94" font-size="36.5" text-anchor="end" textLength="47.2" lengthAdjust="spacingAndGlyphs">0.4</text><text x="136.90" y="789.17" font-size="36.5" text-anchor="end" textLength="47.2" lengthAdjust="spacingAndGlyphs">0.2</text><text x="136.90" y="873.40" font-size="36.5" text-anchor="end" textLength="47.2" lengthAdjust="spacingAndGlyphs">0.0</text><text x="136.90" y="957.63" font-size="36.5" text-anchor="end" textLength="47.2" lengthAdjust="spacingAndGlyphs">0.2</text><text x="60.50" y="957.63" font-size="36.5" textLength="25.5" lengthAdjust="spacingAndGlyphs">−</text><text x="136.90" y="1041.86" font-size="36.5" text-anchor="end" textLength="47.2" lengthAdjust="spacingAndGlyphs">0.4</text><text x="60.50" y="1041.86" font-size="36.5" textLength="25.5" lengthAdjust="spacingAndGlyphs">−</text><text x="136.90" y="1126.09" font-size="36.5" text-anchor="end" textLength="47.2" lengthAdjust="spacingAndGlyphs">0.6</text><text x="60.50" y="1126.09" font-size="36.5" textLength="25.5" lengthAdjust="spacingAndGlyphs">−</text>
<text x="195.62" y="1171.60" font-size="36.5" text-anchor="middle" textLength="19.1" lengthAdjust="spacingAndGlyphs">2</text><text x="264.87" y="1171.60" font-size="36.5" text-anchor="middle" textLength="19.1" lengthAdjust="spacingAndGlyphs">3</text><text x="334.12" y="1171.60" font-size="36.5" text-anchor="middle" textLength="19.1" lengthAdjust="spacingAndGlyphs">4</text><text x="403.36" y="1171.60" font-size="36.5" text-anchor="middle" textLength="19.1" lengthAdjust="spacingAndGlyphs">5</text><text x="472.61" y="1171.60" font-size="36.5" text-anchor="middle" textLength="19.1" lengthAdjust="spacingAndGlyphs">6</text><text x="541.86" y="1171.60" font-size="36.5" text-anchor="middle" textLength="19.1" lengthAdjust="spacingAndGlyphs">7</text><text x="611.11" y="1171.60" font-size="36.5" text-anchor="middle" textLength="19.1" lengthAdjust="spacingAndGlyphs">8</text><text x="680.35" y="1171.60" font-size="36.5" text-anchor="middle" textLength="19.1" lengthAdjust="spacingAndGlyphs">9</text><text x="750.10" y="1171.60" font-size="36.5" text-anchor="middle" textLength="37.8" lengthAdjust="spacingAndGlyphs">10</text><text x="179.60" y="1220.60" font-size="37" textLength="29" lengthAdjust="spacingAndGlyphs">a)</text><text x="380.70" y="1220.60" font-size="37" textLength="79" lengthAdjust="spacingAndGlyphs">Time</text><text x="472.60" y="1221.30" font-size="40.5">[</text><text class="mu" x="485.00" y="1220.60" font-size="38">μ</text><text x="506.30" y="1220.60" font-size="37" textLength="14.5" lengthAdjust="spacingAndGlyphs">s</text><text x="520.00" y="1221.30" font-size="40.5">]</text>
<text transform="translate(28.80 925.5) rotate(-90)" font-size="37" textLength="101.4" lengthAdjust="spacingAndGlyphs">Y [cm]</text>
</g>
<g id="img-b">
<rect x="1044.00" y="605.10" width="588.60" height="515.90" fill="#303030"/>
<defs><linearGradient id="b0" x2="0" y2="1"><stop offset="0" stop-color="#3b3b3b"/><stop offset=".035" stop-color="#373737"/><stop offset=".117" stop-color="#414141"/><stop offset=".181" stop-color="#383838"/><stop offset=".256" stop-color="#3e3e3e"/><stop offset=".429" stop-color="#383838"/><stop offset=".528" stop-color="#454545"/><stop offset=".687" stop-color="#3c3c3c"/><stop offset=".769" stop-color="#414141"/><stop offset=".839" stop-color="#3a3a3a"/><stop offset=".891" stop-color="#414141"/><stop offset=".934" stop-color="#3f3f3f"/><stop offset=".977" stop-color="#444444"/><stop offset="1" stop-color="#414141"/></linearGradient><linearGradient id="b1" x2="0" y2="1"><stop offset="0" stop-color="#434343"/><stop offset=".089" stop-color="#414141"/><stop offset=".151" stop-color="#464646"/><stop offset=".216" stop-color="#3b3b3b"/><stop offset=".322" stop-color="#444444"/><stop offset=".375" stop-color="#424242"/><stop offset=".421" stop-color="#464646"/><stop offset=".511" stop-color="#3f3f3f"/><stop offset=".664" stop-color="#434343"/><stop offset=".73" stop-color="#393939"/><stop offset=".829" stop-color="#494949"/><stop offset=".946" stop-color="#414141"/><stop offset="1" stop-color="#494949"/></linearGradient><linearGradient id="b2" x2="0" y2="1"><stop offset="0" stop-color="#404040"/><stop offset=".049" stop-color="#4b4b4b"/><stop offset=".132" stop-color="#464646"/><stop offset=".184" stop-color="#3d3d3d"/><stop offset=".266" stop-color="#494949"/><stop offset=".315" stop-color="#424242"/><stop offset=".367" stop-color="#414141"/><stop offset=".449" stop-color="#4a4a4a"/><stop offset=".511" stop-color="#404040"/><stop offset=".604" stop-color="#474747"/><stop offset=".683" stop-color="#3f3f3f"/><stop offset=".742" stop-color="#4a4a4a"/><stop offset=".796" stop-color="#414141"/><stop offset=".843" stop-color="#494949"/><stop offset=".967" stop-color="#434343"/><stop offset="1" stop-color="#464646"/></linearGradient><linearGradient id="b3" x2="0" y2="1"><stop offset="0" stop-color="#404040"/><stop offset=".076" stop-color="#3c3c3c"/><stop offset=".223" stop-color="#474747"/><stop offset=".297" stop-color="#3e3e3e"/><stop offset=".419" stop-color="#4a4a4a"/><stop offset=".474" stop-color="#444444"/><stop offset=".561" stop-color="#4a4a4a"/><stop offset=".633" stop-color="#434343"/><stop offset=".765" stop-color="#464646"/><stop offset=".816" stop-color="#424242"/><stop offset=".866" stop-color="#474747"/><stop offset="1" stop-color="#454545"/></linearGradient><linearGradient id="b4" x2="0" y2="1"><stop offset="0" stop-color="#434343"/><stop offset=".058" stop-color="#3b3b3b"/><stop offset=".132" stop-color="#464646"/><stop offset=".245" stop-color="#3d3d3d"/><stop offset=".307" stop-color="#434343"/><stop offset=".373" stop-color="#434343"/><stop offset=".437" stop-color="#393939"/><stop offset=".53" stop-color="#3c3c3c"/><stop offset=".584" stop-color="#474747"/><stop offset=".662" stop-color="#3a3a3a"/><stop offset=".769" stop-color="#3f3f3f"/><stop offset=".814" stop-color="#464646"/><stop offset=".874" stop-color="#3d3d3d"/><stop offset="1" stop-color="#444444"/></linearGradient><linearGradient id="b5" x2="0" y2="1"><stop offset="0" stop-color="#3d3d3d"/><stop offset=".15" stop-color="#484848"/><stop offset=".188" stop-color="#464646"/><stop offset=".252" stop-color="#3c3c3c"/><stop offset=".305" stop-color="#434343"/><stop offset=".4" stop-color="#3d3d3d"/><stop offset=".466" stop-color="#464646"/><stop offset=".517" stop-color="#3c3c3c"/><stop offset=".584" stop-color="#3f3f3f"/><stop offset=".619" stop-color="#454545"/><stop offset=".685" stop-color="#3c3c3c"/><stop offset=".746" stop-color="#444444"/><stop offset=".804" stop-color="#393939"/><stop offset=".854" stop-color="#414141"/><stop offset=".899" stop-color="#3e3e3e"/><stop offset=".963" stop-color="#434343"/><stop offset="1" stop-color="#4d4d4d"/></linearGradient><linearGradient id="b6" x2="0" y2="1"><stop offset="0" stop-color="#3e3e3e"/><stop offset=".19" stop-color="#424242"/><stop offset=".299" stop-color="#3a3a3a"/><stop offset=".353" stop-color="#3f3f3f"/><stop offset=".452" stop-color="#3d3d3d"/><stop offset=".513" stop-color="#454545"/><stop offset=".59" stop-color="#3d3d3d"/><stop offset=".668" stop-color="#404040"/><stop offset=".736" stop-color="#393939"/><stop offset=".823" stop-color="#444444"/><stop offset=".887" stop-color="#474747"/><stop offset=".969" stop-color="#3d3d3d"/><stop offset="1" stop-color="#3e3e3e"/></linearGradient><linearGradient id="b7" x2="0" y2="1"><stop offset="0" stop-color="#404040"/><stop offset=".043" stop-color="#464646"/><stop offset=".105" stop-color="#393939"/><stop offset=".155" stop-color="#424242"/><stop offset=".198" stop-color="#414141"/><stop offset=".239" stop-color="#484848"/><stop offset=".289" stop-color="#3c3c3c"/><stop offset=".367" stop-color="#424242"/><stop offset=".433" stop-color="#393939"/><stop offset=".489" stop-color="#3f3f3f"/><stop offset=".53" stop-color="#3d3d3d"/><stop offset=".567" stop-color="#424242"/><stop offset=".639" stop-color="#434343"/><stop offset=".796" stop-color="#454545"/><stop offset=".854" stop-color="#3d3d3d"/><stop offset=".911" stop-color="#434343"/><stop offset="1" stop-color="#444444"/></linearGradient><linearGradient id="b8" x2="0" y2="1"><stop offset="0" stop-color="#434343"/><stop offset=".05" stop-color="#474747"/><stop offset=".175" stop-color="#3c3c3c"/><stop offset=".235" stop-color="#3f3f3f"/><stop offset=".278" stop-color="#474747"/><stop offset=".328" stop-color="#404040"/><stop offset=".383" stop-color="#4a4a4a"/><stop offset=".433" stop-color="#404040"/><stop offset=".511" stop-color="#3d3d3d"/><stop offset=".619" stop-color="#414141"/><stop offset=".672" stop-color="#4a4a4a"/><stop offset=".73" stop-color="#3e3e3e"/><stop offset="1" stop-color="#484848"/></linearGradient><linearGradient id="b9" x2="0" y2="1"><stop offset="0" stop-color="#444444"/><stop offset=".159" stop-color="#3a3a3a"/><stop offset=".223" stop-color="#444444"/><stop offset=".305" stop-color="#434343"/><stop offset=".351" stop-color="#494949"/><stop offset=".509" stop-color="#3f3f3f"/><stop offset=".608" stop-color="#454545"/><stop offset=".697" stop-color="#404040"/><stop offset=".755" stop-color="#484848"/><stop offset=".843" stop-color="#474747"/><stop offset=".938" stop-color="#404040"/><stop offset="1" stop-color="#4a4a4a"/></linearGradient><linearGradient id="b10" x2="0" y2="1"><stop offset="0" stop-color="#434343"/><stop offset=".159" stop-color="#3d3d3d"/><stop offset=".217" stop-color="#494949"/><stop offset=".268" stop-color="#404040"/><stop offset=".386" stop-color="#474747"/><stop offset=".441" stop-color="#3e3e3e"/><stop offset=".497" stop-color="#444444"/><stop offset=".557" stop-color="#3e3e3e"/><stop offset=".68" stop-color="#474747"/><stop offset=".744" stop-color="#3f3f3f"/><stop offset=".856" stop-color="#4c4c4c"/><stop offset=".911" stop-color="#444444"/><stop offset=".953" stop-color="#484848"/><stop offset="1" stop-color="#474747"/></linearGradient><linearGradient id="b11" x2="0" y2="1"><stop offset="0" stop-color="#434343"/><stop offset=".035" stop-color="#3e3e3e"/><stop offset=".083" stop-color="#454545"/><stop offset=".122" stop-color="#404040"/><stop offset=".177" stop-color="#4b4b4b"/><stop offset=".256" stop-color="#414141"/><stop offset=".307" stop-color="#4a4a4a"/><stop offset=".357" stop-color="#434343"/><stop offset=".433" stop-color="#464646"/><stop offset=".538" stop-color="#404040"/><stop offset=".614" stop-color="#4c4c4c"/><stop offset=".722" stop-color="#454545"/><stop offset=".763" stop-color="#474747"/><stop offset=".81" stop-color="#424242"/><stop offset="1" stop-color="#4b4b4b"/></linearGradient><linearGradient id="b12" x2="0" y2="1"><stop offset="0" stop-color="#404040"/><stop offset=".052" stop-color="#3f3f3f"/><stop offset=".153" stop-color="#505050"/><stop offset=".402" stop-color="#424242"/><stop offset=".483" stop-color="#464646"/><stop offset=".553" stop-color="#3e3e3e"/><stop offset=".617" stop-color="#454545"/><stop offset=".72" stop-color="#464646"/><stop offset=".763" stop-color="#4c4c4c"/><stop offset=".829" stop-color="#434343"/><stop offset="1" stop-color="#484848"/></linearGradient><linearGradient id="b13" x2="0" y2="1"><stop offset="0" stop-color="#424242"/><stop offset=".15" stop-color="#3f3f3f"/><stop offset=".252" stop-color="#515151"/><stop offset=".34" stop-color="#414141"/><stop offset=".392" stop-color="#484848"/><stop offset=".466" stop-color="#3f3f3f"/><stop offset=".528" stop-color="#434343"/><stop offset=".575" stop-color="#3f3f3f"/><stop offset=".627" stop-color="#474747"/><stop offset=".693" stop-color="#414141"/><stop offset=".794" stop-color="#404040"/><stop offset=".938" stop-color="#444444"/><stop offset=".979" stop-color="#484848"/><stop offset="1" stop-color="#464646"/></linearGradient><linearGradient id="b14" x2="0" y2="1"><stop offset="0" stop-color="#474747"/><stop offset=".093" stop-color="#4a4a4a"/><stop offset=".243" stop-color="#454545"/><stop offset=".361" stop-color="#505050"/><stop offset=".419" stop-color="#444444"/><stop offset=".452" stop-color="#494949"/><stop offset=".513" stop-color="#595959"/><stop offset=".532" stop-color="#545454"/><stop offset=".575" stop-color="#3d3d3d"/><stop offset=".594" stop-color="#383838"/><stop offset=".654" stop-color="#434343"/><stop offset=".738" stop-color="#3b3b3b"/><stop offset=".81" stop-color="#414141"/><stop offset=".852" stop-color="#3d3d3d"/><stop offset=".926" stop-color="#3c3c3c"/><stop offset="1" stop-color="#414141"/></linearGradient><linearGradient id="b15" x2="0" y2="1"><stop offset="0" stop-color="#484848"/><stop offset=".049" stop-color="#3f3f3f"/><stop offset=".099" stop-color="#4a4a4a"/><stop offset=".128" stop-color="#464646"/><stop offset=".161" stop-color="#494949"/><stop offset=".194" stop-color="#434343"/><stop offset=".231" stop-color="#464646"/><stop offset=".264" stop-color="#434343"/><stop offset=".278" stop-color="#474747"/><stop offset=".303" stop-color="#5a5a5a"/><stop offset=".317" stop-color="#5f5f5f"/><stop offset=".373" stop-color="#4c4c4c"/><stop offset=".412" stop-color="#4d4d4d"/><stop offset=".466" stop-color="#444444"/><stop offset=".513" stop-color="#464646"/><stop offset=".551" stop-color="#3f3f3f"/><stop offset=".614" stop-color="#3d3d3d"/><stop offset=".724" stop-color="#414141"/><stop offset=".792" stop-color="#343434"/><stop offset=".858" stop-color="#404040"/><stop offset=".918" stop-color="#424242"/><stop offset=".967" stop-color="#3c3c3c"/><stop offset="1" stop-color="#444444"/></linearGradient><linearGradient id="b16" x2="0" y2="1"><stop offset="0" stop-color="#353535"/><stop offset=".091" stop-color="#404040"/><stop offset=".15" stop-color="#3e3e3e"/><stop offset=".221" stop-color="#4f4f4f"/><stop offset=".276" stop-color="#4f4f4f"/><stop offset=".324" stop-color="#595959"/><stop offset=".421" stop-color="#434343"/><stop offset=".483" stop-color="#444444"/><stop offset=".542" stop-color="#3b3b3b"/><stop offset=".616" stop-color="#383838"/><stop offset=".705" stop-color="#383838"/><stop offset=".761" stop-color="#404040"/><stop offset=".829" stop-color="#363636"/><stop offset=".917" stop-color="#373737"/><stop offset=".973" stop-color="#434343"/><stop offset="1" stop-color="#434343"/></linearGradient><linearGradient id="b17" x2="0" y2="1"><stop offset="0" stop-color="#434343"/><stop offset=".041" stop-color="#484848"/><stop offset=".183" stop-color="#3f3f3f"/><stop offset=".278" stop-color="#595959"/><stop offset=".336" stop-color="#616161"/><stop offset=".351" stop-color="#5f5f5f"/><stop offset=".392" stop-color="#4c4c4c"/><stop offset=".417" stop-color="#464646"/><stop offset=".468" stop-color="#4e4e4e"/><stop offset=".505" stop-color="#484848"/><stop offset=".55" stop-color="#484848"/><stop offset=".674" stop-color="#3e3e3e"/><stop offset=".781" stop-color="#404040"/><stop offset=".883" stop-color="#323232"/><stop offset=".95" stop-color="#424242"/><stop offset="1" stop-color="#414141"/></linearGradient><linearGradient id="b18" x2="0" y2="1"><stop offset="0" stop-color="#4a4a4a"/><stop offset=".027" stop-color="#4d4d4d"/><stop offset=".161" stop-color="#464646"/><stop offset=".206" stop-color="#484848"/><stop offset=".227" stop-color="#545454"/><stop offset=".254" stop-color="#7e7e7e"/><stop offset=".266" stop-color="#868686"/><stop offset=".276" stop-color="#808080"/><stop offset=".299" stop-color="#595959"/><stop offset=".311" stop-color="#4c4c4c"/><stop offset=".328" stop-color="#434343"/><stop offset=".353" stop-color="#3f3f3f"/><stop offset=".414" stop-color="#3d3d3d"/><stop offset=".47" stop-color="#464646"/><stop offset=".641" stop-color="#434343"/><stop offset=".72" stop-color="#3c3c3c"/><stop offset=".804" stop-color="#424242"/><stop offset=".833" stop-color="#3f3f3f"/><stop offset=".883" stop-color="#2f2f2f"/><stop offset=".942" stop-color="#434343"/><stop offset="1" stop-color="#464646"/></linearGradient><linearGradient id="b19" x2="0" y2="1"><stop offset="0" stop-color="#494949"/><stop offset=".049" stop-color="#484848"/><stop offset=".093" stop-color="#4c4c4c"/><stop offset=".15" stop-color="#494949"/><stop offset=".179" stop-color="#525252"/><stop offset=".219" stop-color="#6c6c6c"/><stop offset=".243" stop-color="#707070"/><stop offset=".264" stop-color="#6d6d6d"/><stop offset=".301" stop-color="#5e5e5e"/><stop offset=".317" stop-color="#5b5b5b"/><stop offset=".373" stop-color="#6c6c6c"/><stop offset=".404" stop-color="#6d6d6d"/><stop offset=".449" stop-color="#626262"/><stop offset=".489" stop-color="#616161"/><stop offset=".534" stop-color="#575757"/><stop offset=".625" stop-color="#4e4e4e"/><stop offset=".678" stop-color="#414141"/><stop offset=".788" stop-color="#393939"/><stop offset=".874" stop-color="#1f1f1f"/><stop offset=".895" stop-color="#232323"/><stop offset=".93" stop-color="#3d3d3d"/><stop offset=".948" stop-color="#464646"/><stop offset="1" stop-color="#464646"/></linearGradient><linearGradient id="b20" x2="0" y2="1"><stop offset="0" stop-color="#484848"/><stop offset=".155" stop-color="#595959"/><stop offset=".171" stop-color="#5e5e5e"/><stop offset=".181" stop-color="#666666"/><stop offset=".188" stop-color="#727272"/><stop offset=".198" stop-color="#898989"/><stop offset=".219" stop-color="#c6c6c6"/><stop offset=".227" stop-color="#d3d3d3"/><stop offset=".233" stop-color="#d7d7d7"/><stop offset=".245" stop-color="#cecece"/><stop offset=".274" stop-color="#9b9b9b"/><stop offset=".291" stop-color="#8c8c8c"/><stop offset=".34" stop-color="#777777"/><stop offset=".384" stop-color="#7b7b7b"/><stop offset=".431" stop-color="#656565"/><stop offset=".483" stop-color="#656565"/><stop offset=".536" stop-color="#575757"/><stop offset=".583" stop-color="#686868"/><stop offset=".598" stop-color="#696969"/><stop offset=".674" stop-color="#474747"/><stop offset=".724" stop-color="#464646"/><stop offset=".773" stop-color="#3b3b3b"/><stop offset=".829" stop-color="#3c3c3c"/><stop offset=".889" stop-color="#212121"/><stop offset=".905" stop-color="#252525"/><stop offset=".953" stop-color="#434343"/><stop offset="1" stop-color="#4c4c4c"/></linearGradient><linearGradient id="b21" x2="0" y2="1"><stop offset="0" stop-color="#464646"/><stop offset=".083" stop-color="#434343"/><stop offset=".14" stop-color="#4e4e4e"/><stop offset=".167" stop-color="#5e5e5e"/><stop offset=".223" stop-color="#8c8c8c"/><stop offset=".264" stop-color="#949494"/><stop offset=".297" stop-color="#afafaf"/><stop offset=".311" stop-color="#b4b4b4"/><stop offset=".355" stop-color="#9d9d9d"/><stop offset=".388" stop-color="#808080"/><stop offset=".402" stop-color="#797979"/><stop offset=".464" stop-color="#737373"/><stop offset=".509" stop-color="#757575"/><stop offset=".565" stop-color="#585858"/><stop offset=".635" stop-color="#474747"/><stop offset=".676" stop-color="#4b4b4b"/><stop offset=".726" stop-color="#3f3f3f"/><stop offset=".771" stop-color="#434343"/><stop offset=".798" stop-color="#414141"/><stop offset=".821" stop-color="#3a3a3a"/><stop offset=".868" stop-color="#202020"/><stop offset=".891" stop-color="#252525"/><stop offset=".928" stop-color="#484848"/><stop offset=".946" stop-color="#525252"/><stop offset=".963" stop-color="#535353"/><stop offset="1" stop-color="#474747"/></linearGradient><linearGradient id="b22" x2="0" y2="1"><stop offset="0" stop-color="#373737"/><stop offset=".058" stop-color="#4a4a4a"/><stop offset=".118" stop-color="#4f4f4f"/><stop offset=".173" stop-color="#646464"/><stop offset=".184" stop-color="#6f6f6f"/><stop offset=".196" stop-color="#818181"/><stop offset=".227" stop-color="#cbcbcb"/><stop offset=".237" stop-color="#dedede"/><stop offset=".247" stop-color="#eaeaea"/><stop offset=".254" stop-color="#ededed"/><stop offset=".262" stop-color="#eaeaea"/><stop offset=".272" stop-color="#e0e0e0"/><stop offset=".301" stop-color="#aeaeae"/><stop offset=".315" stop-color="#9d9d9d"/><stop offset=".4" stop-color="#696969"/><stop offset=".417" stop-color="#6b6b6b"/><stop offset=".46" stop-color="#808080"/><stop offset=".497" stop-color="#797979"/><stop offset=".528" stop-color="#797979"/><stop offset=".542" stop-color="#747474"/><stop offset=".581" stop-color="#5c5c5c"/><stop offset=".67" stop-color="#535353"/><stop offset=".751" stop-color="#444444"/><stop offset=".847" stop-color="#232323"/><stop offset=".88" stop-color="#2b2b2b"/><stop offset=".936" stop-color="#494949"/><stop offset=".955" stop-color="#4a4a4a"/><stop offset="1" stop-color="#424242"/></linearGradient><linearGradient id="b23" x2="0" y2="1"><stop offset="0" stop-color="#494949"/><stop offset=".035" stop-color="#515151"/><stop offset=".107" stop-color="#595959"/><stop offset=".171" stop-color="#777777"/><stop offset=".202" stop-color="#969696"/><stop offset=".214" stop-color="#9c9c9c"/><stop offset=".221" stop-color="#989898"/><stop offset=".229" stop-color="#8e8e8e"/><stop offset=".256" stop-color="#525252"/><stop offset=".264" stop-color="#454545"/><stop offset=".272" stop-color="#3d3d3d"/><stop offset=".278" stop-color="#3d3d3d"/><stop offset=".289" stop-color="#494949"/><stop offset=".318" stop-color="#7e7e7e"/><stop offset=".338" stop-color="#909090"/><stop offset=".355" stop-color="#949494"/><stop offset=".383" stop-color="#8a8a8a"/><stop offset=".394" stop-color="#8a8a8a"/><stop offset=".435" stop-color="#9d9d9d"/><stop offset=".452" stop-color="#a2a2a2"/><stop offset=".47" stop-color="#9d9d9d"/><stop offset=".517" stop-color="#7b7b7b"/><stop offset=".627" stop-color="#525252"/><stop offset=".753" stop-color="#474747"/><stop offset=".833" stop-color="#303030"/><stop offset=".874" stop-color="#1d1d1d"/><stop offset=".883" stop-color="#1d1d1d"/><stop offset=".895" stop-color="#252525"/><stop offset=".932" stop-color="#535353"/><stop offset=".95" stop-color="#616161"/><stop offset=".969" stop-color="#626262"/><stop offset="1" stop-color="#555555"/></linearGradient><linearGradient id="b24" x2="0" y2="1"><stop offset="0" stop-color="#4d4d4d"/><stop offset=".049" stop-color="#4e4e4e"/><stop offset=".074" stop-color="#535353"/><stop offset=".124" stop-color="#636363"/><stop offset=".184" stop-color="#7e7e7e"/><stop offset=".223" stop-color="#959595"/><stop offset=".276" stop-color="#9a9a9a"/><stop offset=".293" stop-color="#a5a5a5"/><stop offset=".348" stop-color="#dbdbdb"/><stop offset=".359" stop-color="#e1e1e1"/><stop offset=".373" stop-color="#dddddd"/><stop offset=".406" stop-color="#bfbfbf"/><stop offset=".423" stop-color="#bcbcbc"/><stop offset=".439" stop-color="#cacaca"/><stop offset=".464" stop-color="#fdfdfd"/><stop offset=".489" stop-color="#ffffff"/><stop offset=".524" stop-color="#b4b4b4"/><stop offset=".536" stop-color="#a3a3a3"/><stop offset=".548" stop-color="#999999"/><stop offset=".687" stop-color="#4e4e4e"/><stop offset=".709" stop-color="#484848"/><stop offset=".757" stop-color="#444444"/><stop offset=".794" stop-color="#383838"/><stop offset=".814" stop-color="#2c2c2c"/><stop offset=".841" stop-color="#111111"/><stop offset=".852" stop-color="#0a0a0a"/><stop offset=".862" stop-color="#090909"/><stop offset=".874" stop-color="#0f0f0f"/><stop offset=".924" stop-color="#494949"/><stop offset=".946" stop-color="#595959"/><stop offset=".963" stop-color="#595959"/><stop offset="1" stop-color="#484848"/></linearGradient><linearGradient id="b25" x2="0" y2="1"><stop offset="0" stop-color="#383838"/><stop offset=".035" stop-color="#444444"/><stop offset=".078" stop-color="#444444"/><stop offset=".093" stop-color="#474747"/><stop offset=".126" stop-color="#5c5c5c"/><stop offset=".159" stop-color="#6b6b6b"/><stop offset=".19" stop-color="#828282"/><stop offset=".219" stop-color="#8f8f8f"/><stop offset=".227" stop-color="#989898"/><stop offset=".235" stop-color="#a9a9a9"/><stop offset=".243" stop-color="#c1c1c1"/><stop offset=".258" stop-color="#fdfdfd"/><stop offset=".26" stop-color="#ffffff"/><stop offset=".311" stop-color="#ffffff"/><stop offset=".324" stop-color="#d9d9d9"/><stop offset=".336" stop-color="#c5c5c5"/><stop offset=".35" stop-color="#b9b9b9"/><stop offset=".371" stop-color="#b1b1b1"/><stop offset=".394" stop-color="#b2b2b2"/><stop offset=".425" stop-color="#cbcbcb"/><stop offset=".437" stop-color="#d1d1d1"/><stop offset=".456" stop-color="#d2d2d2"/><stop offset=".474" stop-color="#cdcdcd"/><stop offset=".489" stop-color="#c2c2c2"/><stop offset=".557" stop-color="#808080"/><stop offset=".592" stop-color="#6b6b6b"/><stop offset=".631" stop-color="#4e4e4e"/><stop offset=".664" stop-color="#414141"/><stop offset=".715" stop-color="#393939"/><stop offset=".771" stop-color="#393939"/><stop offset=".823" stop-color="#212121"/><stop offset=".841" stop-color="#1e1e1e"/><stop offset=".856" stop-color="#222222"/><stop offset=".901" stop-color="#434343"/><stop offset=".942" stop-color="#575757"/><stop offset=".961" stop-color="#585858"/><stop offset="1" stop-color="#4c4c4c"/></linearGradient><linearGradient id="b26" x2="0" y2="1"><stop offset="0" stop-color="#484848"/><stop offset=".023" stop-color="#545454"/><stop offset=".041" stop-color="#585858"/><stop offset=".089" stop-color="#4e4e4e"/><stop offset=".107" stop-color="#4f4f4f"/><stop offset=".153" stop-color="#6a6a6a"/><stop offset=".183" stop-color="#767676"/><stop offset=".204" stop-color="#8b8b8b"/><stop offset=".245" stop-color="#d2d2d2"/><stop offset=".252" stop-color="#dadada"/><stop offset=".26" stop-color="#dddddd"/><stop offset=".272" stop-color="#d6d6d6"/><stop offset=".295" stop-color="#b2b2b2"/><stop offset=".307" stop-color="#a7a7a7"/><stop offset=".318" stop-color="#a9a9a9"/><stop offset=".342" stop-color="#c1c1c1"/><stop offset=".355" stop-color="#c7c7c7"/><stop offset=".373" stop-color="#bfbfbf"/><stop offset=".406" stop-color="#9e9e9e"/><stop offset=".417" stop-color="#979797"/><stop offset=".429" stop-color="#989898"/><stop offset=".456" stop-color="#ababab"/><stop offset=".47" stop-color="#aeaeae"/><stop offset=".482" stop-color="#a6a6a6"/><stop offset=".507" stop-color="#828282"/><stop offset=".52" stop-color="#777777"/><stop offset=".553" stop-color="#6f6f6f"/><stop offset=".592" stop-color="#585858"/><stop offset=".61" stop-color="#525252"/><stop offset=".662" stop-color="#505050"/><stop offset=".736" stop-color="#3b3b3b"/><stop offset=".79" stop-color="#3a3a3a"/><stop offset=".802" stop-color="#333333"/><stop offset=".827" stop-color="#181818"/><stop offset=".839" stop-color="#111111"/><stop offset=".849" stop-color="#111111"/><stop offset=".86" stop-color="#171717"/><stop offset=".924" stop-color="#4d4d4d"/><stop offset=".94" stop-color="#555555"/><stop offset=".957" stop-color="#545454"/><stop offset="1" stop-color="#3f3f3f"/></linearGradient><linearGradient id="b27" x2="0" y2="1"><stop offset="0" stop-color="#454545"/><stop offset=".101" stop-color="#545454"/><stop offset=".153" stop-color="#535353"/><stop offset=".175" stop-color="#616161"/><stop offset=".227" stop-color="#959595"/><stop offset=".254" stop-color="#b5b5b5"/><stop offset=".266" stop-color="#bebebe"/><stop offset=".28" stop-color="#c0c0c0"/><stop offset=".317" stop-color="#b2b2b2"/><stop offset=".342" stop-color="#b1b1b1"/><stop offset=".367" stop-color="#b8b8b8"/><stop offset=".402" stop-color="#cccccc"/><stop offset=".414" stop-color="#cfcfcf"/><stop offset=".423" stop-color="#cccccc"/><stop offset=".433" stop-color="#c3c3c3"/><stop offset=".485" stop-color="#7a7a7a"/><stop offset=".509" stop-color="#656565"/><stop offset=".524" stop-color="#616161"/><stop offset=".567" stop-color="#616161"/><stop offset=".621" stop-color="#4b4b4b"/><stop offset=".72" stop-color="#3a3a3a"/><stop offset=".769" stop-color="#383838"/><stop offset=".784" stop-color="#2f2f2f"/><stop offset=".816" stop-color="#0c0c0c"/><stop offset=".829" stop-color="#030303"/><stop offset=".841" stop-color="#050505"/><stop offset=".852" stop-color="#0d0d0d"/><stop offset=".911" stop-color="#545454"/><stop offset=".928" stop-color="#616161"/><stop offset=".944" stop-color="#606060"/><stop offset=".977" stop-color="#4a4a4a"/><stop offset="1" stop-color="#474747"/></linearGradient><linearGradient id="b28" x2="0" y2="1"><stop offset="0" stop-color="#474747"/><stop offset=".058" stop-color="#616161"/><stop offset=".107" stop-color="#6b6b6b"/><stop offset=".184" stop-color="#989898"/><stop offset=".217" stop-color="#b3b3b3"/><stop offset=".256" stop-color="#efefef"/><stop offset=".274" stop-color="#f9f9f9"/><stop offset=".297" stop-color="#eeeeee"/><stop offset=".338" stop-color="#c5c5c5"/><stop offset=".351" stop-color="#bbbbbb"/><stop offset=".365" stop-color="#b9b9b9"/><stop offset=".392" stop-color="#c3c3c3"/><stop offset=".404" stop-color="#c1c1c1"/><stop offset=".416" stop-color="#b7b7b7"/><stop offset=".45" stop-color="#8b8b8b"/><stop offset=".505" stop-color="#616161"/><stop offset=".528" stop-color="#545454"/><stop offset=".586" stop-color="#404040"/><stop offset=".66" stop-color="#383838"/><stop offset=".724" stop-color="#3b3b3b"/><stop offset=".746" stop-color="#333333"/><stop offset=".792" stop-color="#191919"/><stop offset=".81" stop-color="#151515"/><stop offset=".833" stop-color="#1d1d1d"/><stop offset=".905" stop-color="#545454"/><stop offset=".922" stop-color="#5e5e5e"/><stop offset=".944" stop-color="#5f5f5f"/><stop offset="1" stop-color="#505050"/></linearGradient><linearGradient id="b29" x2="0" y2="1"><stop offset="0" stop-color="#4c4c4c"/><stop offset=".021" stop-color="#525252"/><stop offset=".064" stop-color="#6a6a6a"/><stop offset=".113" stop-color="#6d6d6d"/><stop offset=".14" stop-color="#7b7b7b"/><stop offset=".157" stop-color="#8c8c8c"/><stop offset=".171" stop-color="#9f9f9f"/><stop offset=".183" stop-color="#b7b7b7"/><stop offset=".202" stop-color="#e7e7e7"/><stop offset=".212" stop-color="#f9f9f9"/><stop offset=".217" stop-color="#ffffff"/><stop offset=".237" stop-color="#ffffff"/><stop offset=".252" stop-color="#f1f1f1"/><stop offset=".297" stop-color="#b4b4b4"/><stop offset=".318" stop-color="#a3a3a3"/><stop offset=".338" stop-color="#9b9b9b"/><stop offset=".357" stop-color="#a2a2a2"/><stop offset=".396" stop-color="#d0d0d0"/><stop offset=".419" stop-color="#e2e2e2"/><stop offset=".437" stop-color="#e4e4e4"/><stop offset=".47" stop-color="#d7d7d7"/><stop offset=".487" stop-color="#c8c8c8"/><stop offset=".528" stop-color="#858585"/><stop offset=".563" stop-color="#5b5b5b"/><stop offset=".596" stop-color="#424242"/><stop offset=".637" stop-color="#303030"/><stop offset=".664" stop-color="#2e2e2e"/><stop offset=".74" stop-color="#363636"/><stop offset=".757" stop-color="#303030"/><stop offset=".788" stop-color="#1a1a1a"/><stop offset=".802" stop-color="#171717"/><stop offset=".817" stop-color="#1c1c1c"/><stop offset=".856" stop-color="#363636"/><stop offset=".918" stop-color="#585858"/><stop offset=".936" stop-color="#565656"/><stop offset=".975" stop-color="#444444"/><stop offset="1" stop-color="#434343"/></linearGradient><linearGradient id="b30" x2="0" y2="1"><stop offset="0" stop-color="#575757"/><stop offset=".027" stop-color="#5e5e5e"/><stop offset=".074" stop-color="#5c5c5c"/><stop offset=".091" stop-color="#646464"/><stop offset=".13" stop-color="#7f7f7f"/><stop offset=".146" stop-color="#848484"/><stop offset=".163" stop-color="#808080"/><stop offset=".194" stop-color="#6f6f6f"/><stop offset=".208" stop-color="#6d6d6d"/><stop offset=".221" stop-color="#777777"/><stop offset=".252" stop-color="#a3a3a3"/><stop offset=".266" stop-color="#acacac"/><stop offset=".351" stop-color="#c3c3c3"/><stop offset=".367" stop-color="#bebebe"/><stop offset=".398" stop-color="#a6a6a6"/><stop offset=".41" stop-color="#a4a4a4"/><stop offset=".421" stop-color="#acacac"/><stop offset=".445" stop-color="#cacaca"/><stop offset=".456" stop-color="#cfcfcf"/><stop offset=".466" stop-color="#cacaca"/><stop offset=".476" stop-color="#bebebe"/><stop offset=".515" stop-color="#717171"/><stop offset=".532" stop-color="#5a5a5a"/><stop offset=".55" stop-color="#515151"/><stop offset=".639" stop-color="#333333"/><stop offset=".697" stop-color="#343434"/><stop offset=".777" stop-color="#242424"/><stop offset=".804" stop-color="#252525"/><stop offset=".837" stop-color="#2f2f2f"/><stop offset=".885" stop-color="#474747"/><stop offset=".918" stop-color="#5c5c5c"/><stop offset=".934" stop-color="#616161"/><stop offset=".95" stop-color="#5e5e5e"/><stop offset="1" stop-color="#424242"/></linearGradient><linearGradient id="b31" x2="0" y2="1"><stop offset="0" stop-color="#444444"/><stop offset=".064" stop-color="#595959"/><stop offset=".12" stop-color="#626262"/><stop offset=".169" stop-color="#7c7c7c"/><stop offset=".208" stop-color="#898989"/><stop offset=".227" stop-color="#9a9a9a"/><stop offset=".26" stop-color="#cccccc"/><stop offset=".274" stop-color="#d3d3d3"/><stop offset=".289" stop-color="#cbcbcb"/><stop offset=".322" stop-color="#a0a0a0"/><stop offset=".344" stop-color="#898989"/><stop offset=".357" stop-color="#7f7f7f"/><stop offset=".371" stop-color="#7a7a7a"/><stop offset=".388" stop-color="#7a7a7a"/><stop offset=".402" stop-color="#7f7f7f"/><stop offset=".414" stop-color="#898989"/><stop offset=".445" stop-color="#afafaf"/><stop offset=".454" stop-color="#b3b3b3"/><stop offset=".466" stop-color="#b1b1b1"/><stop offset=".482" stop-color="#a6a6a6"/><stop offset=".497" stop-color="#959595"/><stop offset=".534" stop-color="#5c5c5c"/><stop offset=".55" stop-color="#4a4a4a"/><stop offset=".575" stop-color="#3b3b3b"/><stop offset=".614" stop-color="#2f2f2f"/><stop offset=".65" stop-color="#2c2c2c"/><stop offset=".728" stop-color="#353535"/><stop offset=".773" stop-color="#242424"/><stop offset=".788" stop-color="#232323"/><stop offset=".845" stop-color="#404040"/><stop offset=".897" stop-color="#545454"/><stop offset=".93" stop-color="#5a5a5a"/><stop offset=".946" stop-color="#585858"/><stop offset=".981" stop-color="#464646"/><stop offset="1" stop-color="#424242"/></linearGradient><linearGradient id="b32" x2="0" y2="1"><stop offset="0" stop-color="#4f4f4f"/><stop offset=".039" stop-color="#575757"/><stop offset=".087" stop-color="#5a5a5a"/><stop offset=".167" stop-color="#767676"/><stop offset=".184" stop-color="#828282"/><stop offset=".214" stop-color="#9f9f9f"/><stop offset=".262" stop-color="#cacaca"/><stop offset=".278" stop-color="#d3d3d3"/><stop offset=".287" stop-color="#d1d1d1"/><stop offset=".297" stop-color="#cacaca"/><stop offset=".328" stop-color="#989898"/><stop offset=".34" stop-color="#8b8b8b"/><stop offset=".357" stop-color="#858585"/><stop offset=".383" stop-color="#868686"/><stop offset=".402" stop-color="#969696"/><stop offset=".441" stop-color="#dbdbdb"/><stop offset=".45" stop-color="#e6e6e6"/><stop offset=".458" stop-color="#e8e8e8"/><stop offset=".466" stop-color="#e5e5e5"/><stop offset=".474" stop-color="#dcdcdc"/><stop offset=".515" stop-color="#959595"/><stop offset=".54" stop-color="#757575"/><stop offset=".592" stop-color="#4d4d4d"/><stop offset=".639" stop-color="#373737"/><stop offset=".73" stop-color="#2e2e2e"/><stop offset=".773" stop-color="#171717"/><stop offset=".786" stop-color="#131313"/><stop offset=".802" stop-color="#1b1b1b"/><stop offset=".845" stop-color="#464646"/><stop offset=".903" stop-color="#636363"/><stop offset=".922" stop-color="#626262"/><stop offset=".969" stop-color="#4d4d4d"/><stop offset="1" stop-color="#484848"/></linearGradient><linearGradient id="b33" x2="0" y2="1"><stop offset="0" stop-color="#494949"/><stop offset=".08" stop-color="#6b6b6b"/><stop offset=".097" stop-color="#6d6d6d"/><stop offset=".13" stop-color="#686868"/><stop offset=".146" stop-color="#6c6c6c"/><stop offset=".159" stop-color="#767676"/><stop offset=".173" stop-color="#858585"/><stop offset=".206" stop-color="#bdbdbd"/><stop offset=".217" stop-color="#cccccc"/><stop offset=".227" stop-color="#cfcfcf"/><stop offset=".25" stop-color="#cdcdcd"/><stop offset=".276" stop-color="#d4d4d4"/><stop offset=".291" stop-color="#cbcbcb"/><stop offset=".318" stop-color="#a2a2a2"/><stop offset=".328" stop-color="#9a9a9a"/><stop offset=".338" stop-color="#9d9d9d"/><stop offset=".355" stop-color="#bcbcbc"/><stop offset=".363" stop-color="#c2c2c2"/><stop offset=".371" stop-color="#bcbcbc"/><stop offset=".386" stop-color="#a4a4a4"/><stop offset=".394" stop-color="#9f9f9f"/><stop offset=".402" stop-color="#a0a0a0"/><stop offset=".429" stop-color="#b0b0b0"/><stop offset=".447" stop-color="#afafaf"/><stop offset=".462" stop-color="#a0a0a0"/><stop offset=".499" stop-color="#666666"/><stop offset=".518" stop-color="#535353"/><stop offset=".536" stop-color="#4a4a4a"/><stop offset=".627" stop-color="#2c2c2c"/><stop offset=".645" stop-color="#2b2b2b"/><stop offset=".687" stop-color="#323232"/><stop offset=".744" stop-color="#313131"/><stop offset=".761" stop-color="#2c2c2c"/><stop offset=".788" stop-color="#1f1f1f"/><stop offset=".802" stop-color="#1e1e1e"/><stop offset=".821" stop-color="#282828"/><stop offset=".868" stop-color="#535353"/><stop offset=".887" stop-color="#5a5a5a"/><stop offset=".909" stop-color="#565656"/><stop offset=".953" stop-color="#434343"/><stop offset="1" stop-color="#424242"/></linearGradient><linearGradient id="b34" x2="0" y2="1"><stop offset="0" stop-color="#464646"/><stop offset=".056" stop-color="#4b4b4b"/><stop offset=".136" stop-color="#636363"/><stop offset=".173" stop-color="#5b5b5b"/><stop offset=".186" stop-color="#5d5d5d"/><stop offset=".204" stop-color="#6f6f6f"/><stop offset=".239" stop-color="#b5b5b5"/><stop offset=".247" stop-color="#bfbfbf"/><stop offset=".252" stop-color="#c2c2c2"/><stop offset=".264" stop-color="#b9b9b9"/><stop offset=".289" stop-color="#8e8e8e"/><stop offset=".307" stop-color="#818181"/><stop offset=".328" stop-color="#7d7d7d"/><stop offset=".361" stop-color="#8d8d8d"/><stop offset=".377" stop-color="#8f8f8f"/><stop offset=".39" stop-color="#878787"/><stop offset=".414" stop-color="#6b6b6b"/><stop offset=".425" stop-color="#646464"/><stop offset=".435" stop-color="#686868"/><stop offset=".458" stop-color="#7e7e7e"/><stop offset=".472" stop-color="#808080"/><stop offset=".485" stop-color="#787878"/><stop offset=".546" stop-color="#424242"/><stop offset=".563" stop-color="#383838"/><stop offset=".581" stop-color="#333333"/><stop offset=".643" stop-color="#2b2b2b"/><stop offset=".709" stop-color="#303030"/><stop offset=".775" stop-color="#1b1b1b"/><stop offset=".79" stop-color="#1a1a1a"/><stop offset=".804" stop-color="#1f1f1f"/><stop offset=".854" stop-color="#3d3d3d"/><stop offset=".889" stop-color="#616161"/><stop offset=".901" stop-color="#676767"/><stop offset=".911" stop-color="#646464"/><stop offset=".934" stop-color="#505050"/><stop offset=".948" stop-color="#484848"/><stop offset="1" stop-color="#404040"/></linearGradient><linearGradient id="b35" x2="0" y2="1"><stop offset="0" stop-color="#3b3b3b"/><stop offset=".062" stop-color="#474747"/><stop offset=".13" stop-color="#636363"/><stop offset=".179" stop-color="#616161"/><stop offset=".19" stop-color="#656565"/><stop offset=".208" stop-color="#777777"/><stop offset=".239" stop-color="#afafaf"/><stop offset=".254" stop-color="#bbbbbb"/><stop offset=".272" stop-color="#bbbbbb"/><stop offset=".309" stop-color="#b1b1b1"/><stop offset=".326" stop-color="#a6a6a6"/><stop offset=".363" stop-color="#858585"/><stop offset=".381" stop-color="#7f7f7f"/><stop offset=".402" stop-color="#878787"/><stop offset=".447" stop-color="#b7b7b7"/><stop offset=".462" stop-color="#bebebe"/><stop offset=".478" stop-color="#b4b4b4"/><stop offset=".518" stop-color="#707070"/><stop offset=".534" stop-color="#5d5d5d"/><stop offset=".55" stop-color="#4f4f4f"/><stop offset=".583" stop-color="#3f3f3f"/><stop offset=".664" stop-color="#2a2a2a"/><stop offset=".685" stop-color="#282828"/><stop offset=".746" stop-color="#313131"/><stop offset=".788" stop-color="#1f1f1f"/><stop offset=".802" stop-color="#1f1f1f"/><stop offset=".854" stop-color="#383838"/><stop offset=".893" stop-color="#555555"/><stop offset=".909" stop-color="#5a5a5a"/><stop offset=".961" stop-color="#474747"/><stop offset="1" stop-color="#444444"/></linearGradient><linearGradient id="b36" x2="0" y2="1"><stop offset="0" stop-color="#4d4d4d"/><stop offset=".058" stop-color="#4c4c4c"/><stop offset=".115" stop-color="#656565"/><stop offset=".163" stop-color="#646464"/><stop offset=".177" stop-color="#686868"/><stop offset=".186" stop-color="#707070"/><stop offset=".198" stop-color="#808080"/><stop offset=".212" stop-color="#9a9a9a"/><stop offset=".241" stop-color="#dcdcdc"/><stop offset=".249" stop-color="#e7e7e7"/><stop offset=".256" stop-color="#ebebeb"/><stop offset=".268" stop-color="#e1e1e1"/><stop offset=".297" stop-color="#b1b1b1"/><stop offset=".315" stop-color="#a1a1a1"/><stop offset=".353" stop-color="#9c9c9c"/><stop offset=".388" stop-color="#848484"/><stop offset=".404" stop-color="#7f7f7f"/><stop offset=".427" stop-color="#838383"/><stop offset=".462" stop-color="#939393"/><stop offset=".478" stop-color="#939393"/><stop offset=".491" stop-color="#898989"/><stop offset=".524" stop-color="#636363"/><stop offset=".546" stop-color="#515151"/><stop offset=".575" stop-color="#424242"/><stop offset=".623" stop-color="#323232"/><stop offset=".656" stop-color="#2f2f2f"/><stop offset=".701" stop-color="#3b3b3b"/><stop offset=".724" stop-color="#3d3d3d"/><stop offset=".792" stop-color="#2b2b2b"/><stop offset=".806" stop-color="#2f2f2f"/><stop offset=".849" stop-color="#474747"/><stop offset=".891" stop-color="#545454"/><stop offset=".963" stop-color="#4b4b4b"/><stop offset="1" stop-color="#4b4b4b"/></linearGradient><linearGradient id="b37" x2="0" y2="1"><stop offset="0" stop-color="#414141"/><stop offset=".099" stop-color="#5e5e5e"/><stop offset=".155" stop-color="#666666"/><stop offset=".198" stop-color="#646464"/><stop offset=".216" stop-color="#686868"/><stop offset=".237" stop-color="#797979"/><stop offset=".276" stop-color="#b3b3b3"/><stop offset=".289" stop-color="#bdbdbd"/><stop offset=".299" stop-color="#b9b9b9"/><stop offset=".324" stop-color="#9b9b9b"/><stop offset=".338" stop-color="#949494"/><stop offset=".375" stop-color="#989898"/><stop offset=".421" stop-color="#929292"/><stop offset=".466" stop-color="#a1a1a1"/><stop offset=".485" stop-color="#9e9e9e"/><stop offset=".505" stop-color="#8e8e8e"/><stop offset=".538" stop-color="#606060"/><stop offset=".555" stop-color="#4d4d4d"/><stop offset=".584" stop-color="#3b3b3b"/><stop offset=".619" stop-color="#2e2e2e"/><stop offset=".637" stop-color="#2e2e2e"/><stop offset=".68" stop-color="#373737"/><stop offset=".728" stop-color="#353535"/><stop offset=".75" stop-color="#303030"/><stop offset=".783" stop-color="#191919"/><stop offset=".794" stop-color="#161616"/><stop offset=".806" stop-color="#1b1b1b"/><stop offset=".841" stop-color="#353535"/><stop offset=".889" stop-color="#484848"/><stop offset=".911" stop-color="#484848"/><stop offset=".955" stop-color="#3b3b3b"/><stop offset="1" stop-color="#3f3f3f"/></linearGradient><linearGradient id="b38" x2="0" y2="1"><stop offset="0" stop-color="#434343"/><stop offset=".025" stop-color="#424242"/><stop offset=".074" stop-color="#484848"/><stop offset=".113" stop-color="#535353"/><stop offset=".159" stop-color="#545454"/><stop offset=".183" stop-color="#5a5a5a"/><stop offset=".202" stop-color="#676767"/><stop offset=".227" stop-color="#7f7f7f"/><stop offset=".245" stop-color="#949494"/><stop offset=".276" stop-color="#c4c4c4"/><stop offset=".283" stop-color="#cccccc"/><stop offset=".291" stop-color="#cfcfcf"/><stop offset=".303" stop-color="#c7c7c7"/><stop offset=".332" stop-color="#979797"/><stop offset=".348" stop-color="#888888"/><stop offset=".367" stop-color="#898989"/><stop offset=".402" stop-color="#a0a0a0"/><stop offset=".414" stop-color="#a4a4a4"/><stop offset=".46" stop-color="#9b9b9b"/><stop offset=".482" stop-color="#8e8e8e"/><stop offset=".532" stop-color="#555555"/><stop offset=".559" stop-color="#3f3f3f"/><stop offset=".6" stop-color="#343434"/><stop offset=".647" stop-color="#333333"/><stop offset=".683" stop-color="#232323"/><stop offset=".697" stop-color="#232323"/><stop offset=".742" stop-color="#2f2f2f"/><stop offset=".79" stop-color="#1e1e1e"/><stop offset=".802" stop-color="#232323"/><stop offset=".835" stop-color="#3a3a3a"/><stop offset=".885" stop-color="#4b4b4b"/><stop offset=".903" stop-color="#4b4b4b"/><stop offset=".946" stop-color="#404040"/><stop offset="1" stop-color="#4b4b4b"/></linearGradient><linearGradient id="b39" x2="0" y2="1"><stop offset="0" stop-color="#484848"/><stop offset=".07" stop-color="#4e4e4e"/><stop offset=".118" stop-color="#656565"/><stop offset=".175" stop-color="#737373"/><stop offset=".202" stop-color="#898989"/><stop offset=".217" stop-color="#9e9e9e"/><stop offset=".247" stop-color="#cbcbcb"/><stop offset=".256" stop-color="#d5d5d5"/><stop offset=".264" stop-color="#d8d8d8"/><stop offset=".278" stop-color="#d1d1d1"/><stop offset=".317" stop-color="#9d9d9d"/><stop offset=".342" stop-color="#888888"/><stop offset=".367" stop-color="#858585"/><stop offset=".429" stop-color="#959595"/><stop offset=".454" stop-color="#969696"/><stop offset=".472" stop-color="#8c8c8c"/><stop offset=".518" stop-color="#5c5c5c"/><stop offset=".536" stop-color="#4e4e4e"/><stop offset=".555" stop-color="#464646"/><stop offset=".596" stop-color="#3d3d3d"/><stop offset=".674" stop-color="#313131"/><stop offset=".744" stop-color="#323232"/><stop offset=".79" stop-color="#242424"/><stop offset=".808" stop-color="#2a2a2a"/><stop offset=".866" stop-color="#595959"/><stop offset=".889" stop-color="#656565"/><stop offset=".909" stop-color="#646464"/><stop offset=".957" stop-color="#515151"/><stop offset="1" stop-color="#505050"/></linearGradient><linearGradient id="b40" x2="0" y2="1"><stop offset="0" stop-color="#474747"/><stop offset=".027" stop-color="#4e4e4e"/><stop offset=".12" stop-color="#5b5b5b"/><stop offset=".19" stop-color="#727272"/><stop offset=".214" stop-color="#858585"/><stop offset=".252" stop-color="#bfbfbf"/><stop offset=".291" stop-color="#d7d7d7"/><stop offset=".297" stop-color="#d3d3d3"/><stop offset=".303" stop-color="#cbcbcb"/><stop offset=".32" stop-color="#a4a4a4"/><stop offset=".328" stop-color="#979797"/><stop offset=".348" stop-color="#868686"/><stop offset=".367" stop-color="#7e7e7e"/><stop offset=".383" stop-color="#7d7d7d"/><stop offset=".45" stop-color="#999999"/><stop offset=".466" stop-color="#999999"/><stop offset=".482" stop-color="#8d8d8d"/><stop offset=".515" stop-color="#5d5d5d"/><stop offset=".532" stop-color="#4a4a4a"/><stop offset=".553" stop-color="#3e3e3e"/><stop offset=".596" stop-color="#323232"/><stop offset=".641" stop-color="#303030"/><stop offset=".685" stop-color="#3c3c3c"/><stop offset=".703" stop-color="#3d3d3d"/><stop offset=".767" stop-color="#373737"/><stop offset=".798" stop-color="#222222"/><stop offset=".808" stop-color="#1f1f1f"/><stop offset=".819" stop-color="#242424"/><stop offset=".858" stop-color="#474747"/><stop offset=".88" stop-color="#525252"/><stop offset=".895" stop-color="#515151"/><stop offset=".942" stop-color="#404040"/><stop offset="1" stop-color="#434343"/></linearGradient><linearGradient id="b41" x2="0" y2="1"><stop offset="0" stop-color="#404040"/><stop offset=".107" stop-color="#595959"/><stop offset=".161" stop-color="#595959"/><stop offset=".231" stop-color="#797979"/><stop offset=".282" stop-color="#808080"/><stop offset=".322" stop-color="#8d8d8d"/><stop offset=".392" stop-color="#7b7b7b"/><stop offset=".437" stop-color="#616161"/><stop offset=".449" stop-color="#626262"/><stop offset=".472" stop-color="#6f6f6f"/><stop offset=".483" stop-color="#6f6f6f"/><stop offset=".532" stop-color="#4f4f4f"/><stop offset=".559" stop-color="#414141"/><stop offset=".674" stop-color="#292929"/><stop offset=".738" stop-color="#323232"/><stop offset=".792" stop-color="#1f1f1f"/><stop offset=".806" stop-color="#252525"/><stop offset=".837" stop-color="#3c3c3c"/><stop offset=".858" stop-color="#434343"/><stop offset=".899" stop-color="#464646"/><stop offset=".955" stop-color="#3d3d3d"/><stop offset="1" stop-color="#454545"/></linearGradient><linearGradient id="b42" x2="0" y2="1"><stop offset="0" stop-color="#4f4f4f"/><stop offset=".12" stop-color="#545454"/><stop offset=".134" stop-color="#5b5b5b"/><stop offset=".173" stop-color="#7c7c7c"/><stop offset=".21" stop-color="#898989"/><stop offset=".254" stop-color="#ababab"/><stop offset=".283" stop-color="#b5b5b5"/><stop offset=".301" stop-color="#b0b0b0"/><stop offset=".346" stop-color="#8f8f8f"/><stop offset=".369" stop-color="#878787"/><stop offset=".425" stop-color="#848484"/><stop offset=".468" stop-color="#949494"/><stop offset=".48" stop-color="#949494"/><stop offset=".491" stop-color="#8b8b8b"/><stop offset=".524" stop-color="#606060"/><stop offset=".546" stop-color="#4e4e4e"/><stop offset=".569" stop-color="#424242"/><stop offset=".639" stop-color="#2b2b2b"/><stop offset=".689" stop-color="#363636"/><stop offset=".755" stop-color="#3a3a3a"/><stop offset=".773" stop-color="#353535"/><stop offset=".802" stop-color="#1f1f1f"/><stop offset=".814" stop-color="#1c1c1c"/><stop offset=".825" stop-color="#222222"/><stop offset=".866" stop-color="#464646"/><stop offset=".895" stop-color="#555555"/><stop offset=".911" stop-color="#555555"/><stop offset=".955" stop-color="#474747"/><stop offset="1" stop-color="#494949"/></linearGradient><linearGradient id="b43" x2="0" y2="1"><stop offset="0" stop-color="#494949"/><stop offset=".041" stop-color="#4e4e4e"/><stop offset=".113" stop-color="#616161"/><stop offset=".167" stop-color="#565656"/><stop offset=".186" stop-color="#585858"/><stop offset=".217" stop-color="#6d6d6d"/><stop offset=".258" stop-color="#a0a0a0"/><stop offset=".272" stop-color="#aaaaaa"/><stop offset=".285" stop-color="#a7a7a7"/><stop offset=".32" stop-color="#848484"/><stop offset=".34" stop-color="#7c7c7c"/><stop offset=".351" stop-color="#808080"/><stop offset=".386" stop-color="#999999"/><stop offset=".437" stop-color="#b1b1b1"/><stop offset=".456" stop-color="#b6b6b6"/><stop offset=".468" stop-color="#b3b3b3"/><stop offset=".48" stop-color="#a8a8a8"/><stop offset=".517" stop-color="#6c6c6c"/><stop offset=".536" stop-color="#555555"/><stop offset=".565" stop-color="#3f3f3f"/><stop offset=".594" stop-color="#343434"/><stop offset=".629" stop-color="#313131"/><stop offset=".736" stop-color="#323232"/><stop offset=".751" stop-color="#2c2c2c"/><stop offset=".777" stop-color="#171717"/><stop offset=".788" stop-color="#121212"/><stop offset=".8" stop-color="#171717"/><stop offset=".837" stop-color="#3d3d3d"/><stop offset=".899" stop-color="#595959"/><stop offset=".915" stop-color="#595959"/><stop offset=".951" stop-color="#4e4e4e"/><stop offset="1" stop-color="#474747"/></linearGradient><linearGradient id="b44" x2="0" y2="1"><stop offset="0" stop-color="#464646"/><stop offset=".052" stop-color="#454545"/><stop offset=".101" stop-color="#595959"/><stop offset=".153" stop-color="#646464"/><stop offset=".221" stop-color="#8e8e8e"/><stop offset=".266" stop-color="#b6b6b6"/><stop offset=".287" stop-color="#bbbbbb"/><stop offset=".318" stop-color="#b6b6b6"/><stop offset=".344" stop-color="#acacac"/><stop offset=".365" stop-color="#9d9d9d"/><stop offset=".404" stop-color="#7a7a7a"/><stop offset=".421" stop-color="#6f6f6f"/><stop offset=".487" stop-color="#666666"/><stop offset=".544" stop-color="#474747"/><stop offset=".616" stop-color="#313131"/><stop offset=".68" stop-color="#303030"/><stop offset=".724" stop-color="#3c3c3c"/><stop offset=".742" stop-color="#3c3c3c"/><stop offset=".761" stop-color="#363636"/><stop offset=".794" stop-color="#1f1f1f"/><stop offset=".808" stop-color="#1b1b1b"/><stop offset=".823" stop-color="#222222"/><stop offset=".862" stop-color="#4a4a4a"/><stop offset=".882" stop-color="#555555"/><stop offset=".895" stop-color="#545454"/><stop offset=".936" stop-color="#464646"/><stop offset="1" stop-color="#484848"/></linearGradient><linearGradient id="b45" x2="0" y2="1"><stop offset="0" stop-color="#4b4b4b"/><stop offset=".033" stop-color="#4b4b4b"/><stop offset=".078" stop-color="#545454"/><stop offset=".148" stop-color="#575757"/><stop offset=".171" stop-color="#5c5c5c"/><stop offset=".198" stop-color="#6e6e6e"/><stop offset=".276" stop-color="#b8b8b8"/><stop offset=".295" stop-color="#c1c1c1"/><stop offset=".311" stop-color="#bbbbbb"/><stop offset=".342" stop-color="#a3a3a3"/><stop offset=".359" stop-color="#9c9c9c"/><stop offset=".384" stop-color="#9c9c9c"/><stop offset=".419" stop-color="#a7a7a7"/><stop offset=".435" stop-color="#a4a4a4"/><stop offset=".478" stop-color="#828282"/><stop offset=".52" stop-color="#525252"/><stop offset=".548" stop-color="#464646"/><stop offset=".635" stop-color="#383838"/><stop offset=".676" stop-color="#3c3c3c"/><stop offset=".759" stop-color="#3c3c3c"/><stop offset=".775" stop-color="#373737"/><stop offset=".802" stop-color="#222222"/><stop offset=".812" stop-color="#1f1f1f"/><stop offset=".825" stop-color="#272727"/><stop offset=".858" stop-color="#4d4d4d"/><stop offset=".878" stop-color="#585858"/><stop offset=".895" stop-color="#585858"/><stop offset=".948" stop-color="#474747"/><stop offset="1" stop-color="#4f4f4f"/></linearGradient><linearGradient id="b46" x2="0" y2="1"><stop offset="0" stop-color="#414141"/><stop offset=".019" stop-color="#434343"/><stop offset=".056" stop-color="#585858"/><stop offset=".082" stop-color="#606060"/><stop offset=".134" stop-color="#616161"/><stop offset=".177" stop-color="#696969"/><stop offset=".239" stop-color="#696969"/><stop offset=".254" stop-color="#737373"/><stop offset=".289" stop-color="#9b9b9b"/><stop offset=".313" stop-color="#a5a5a5"/><stop offset=".353" stop-color="#959595"/><stop offset=".392" stop-color="#a4a4a4"/><stop offset=".41" stop-color="#a3a3a3"/><stop offset=".445" stop-color="#898989"/><stop offset=".482" stop-color="#7b7b7b"/><stop offset=".526" stop-color="#4a4a4a"/><stop offset=".548" stop-color="#3a3a3a"/><stop offset=".571" stop-color="#313131"/><stop offset=".608" stop-color="#2e2e2e"/><stop offset=".641" stop-color="#222222"/><stop offset=".654" stop-color="#232323"/><stop offset=".685" stop-color="#303030"/><stop offset=".72" stop-color="#2a2a2a"/><stop offset=".753" stop-color="#2f2f2f"/><stop offset=".767" stop-color="#2c2c2c"/><stop offset=".794" stop-color="#1c1c1c"/><stop offset=".808" stop-color="#1a1a1a"/><stop offset=".821" stop-color="#212121"/><stop offset=".864" stop-color="#474747"/><stop offset=".907" stop-color="#565656"/><stop offset=".922" stop-color="#545454"/><stop offset=".961" stop-color="#454545"/><stop offset="1" stop-color="#454545"/></linearGradient><linearGradient id="b47" x2="0" y2="1"><stop offset="0" stop-color="#4f4f4f"/><stop offset=".039" stop-color="#545454"/><stop offset=".078" stop-color="#545454"/><stop offset=".115" stop-color="#5d5d5d"/><stop offset=".151" stop-color="#5d5d5d"/><stop offset=".19" stop-color="#696969"/><stop offset=".233" stop-color="#6c6c6c"/><stop offset=".249" stop-color="#767676"/><stop offset=".278" stop-color="#9b9b9b"/><stop offset=".293" stop-color="#a1a1a1"/><stop offset=".313" stop-color="#999999"/><stop offset=".346" stop-color="#747474"/><stop offset=".359" stop-color="#6c6c6c"/><stop offset=".371" stop-color="#6d6d6d"/><stop offset=".41" stop-color="#818181"/><stop offset=".476" stop-color="#848484"/><stop offset=".497" stop-color="#797979"/><stop offset=".54" stop-color="#4d4d4d"/><stop offset=".563" stop-color="#414141"/><stop offset=".676" stop-color="#313131"/><stop offset=".72" stop-color="#414141"/><stop offset=".742" stop-color="#434343"/><stop offset=".759" stop-color="#3c3c3c"/><stop offset=".788" stop-color="#242424"/><stop offset=".802" stop-color="#1e1e1e"/><stop offset=".816" stop-color="#222222"/><stop offset=".854" stop-color="#404040"/><stop offset=".901" stop-color="#545454"/><stop offset=".92" stop-color="#525252"/><stop offset=".967" stop-color="#414141"/><stop offset="1" stop-color="#474747"/></linearGradient><linearGradient id="b48" x2="0" y2="1"><stop offset="0" stop-color="#484848"/><stop offset=".047" stop-color="#4b4b4b"/><stop offset=".124" stop-color="#676767"/><stop offset=".163" stop-color="#626262"/><stop offset=".177" stop-color="#646464"/><stop offset=".252" stop-color="#818181"/><stop offset=".266" stop-color="#8c8c8c"/><stop offset=".291" stop-color="#acacac"/><stop offset=".303" stop-color="#b1b1b1"/><stop offset=".315" stop-color="#aaaaaa"/><stop offset=".342" stop-color="#868686"/><stop offset=".355" stop-color="#7e7e7e"/><stop offset=".369" stop-color="#808080"/><stop offset=".414" stop-color="#989898"/><stop offset=".429" stop-color="#9a9a9a"/><stop offset=".443" stop-color="#969696"/><stop offset=".462" stop-color="#8b8b8b"/><stop offset=".526" stop-color="#575757"/><stop offset=".621" stop-color="#242424"/><stop offset=".641" stop-color="#1d1d1d"/><stop offset=".658" stop-color="#1e1e1e"/><stop offset=".759" stop-color="#353535"/><stop offset=".773" stop-color="#333333"/><stop offset=".802" stop-color="#212121"/><stop offset=".814" stop-color="#202020"/><stop offset=".825" stop-color="#262626"/><stop offset=".858" stop-color="#474747"/><stop offset=".88" stop-color="#515151"/><stop offset=".946" stop-color="#454545"/><stop offset="1" stop-color="#484848"/></linearGradient><linearGradient id="b49" x2="0" y2="1"><stop offset="0" stop-color="#4c4c4c"/><stop offset=".078" stop-color="#646464"/><stop offset=".21" stop-color="#757575"/><stop offset=".231" stop-color="#828282"/><stop offset=".27" stop-color="#a8a8a8"/><stop offset=".285" stop-color="#aeaeae"/><stop offset=".297" stop-color="#a8a8a8"/><stop offset=".324" stop-color="#8b8b8b"/><stop offset=".336" stop-color="#878787"/><stop offset=".392" stop-color="#8f8f8f"/><stop offset=".423" stop-color="#a4a4a4"/><stop offset=".435" stop-color="#a4a4a4"/><stop offset=".449" stop-color="#999999"/><stop offset=".478" stop-color="#717171"/><stop offset=".493" stop-color="#646464"/><stop offset=".598" stop-color="#454545"/><stop offset=".652" stop-color="#2f2f2f"/><stop offset=".765" stop-color="#313131"/><stop offset=".817" stop-color="#292929"/><stop offset=".833" stop-color="#313131"/><stop offset=".864" stop-color="#4d4d4d"/><stop offset=".882" stop-color="#545454"/><stop offset=".938" stop-color="#474747"/><stop offset="1" stop-color="#454545"/></linearGradient><linearGradient id="b50" x2="0" y2="1"><stop offset="0" stop-color="#555555"/><stop offset=".054" stop-color="#565656"/><stop offset=".097" stop-color="#646464"/><stop offset=".132" stop-color="#5d5d5d"/><stop offset=".148" stop-color="#5f5f5f"/><stop offset=".21" stop-color="#828282"/><stop offset=".264" stop-color="#b7b7b7"/><stop offset=".301" stop-color="#c3c3c3"/><stop offset=".317" stop-color="#bebebe"/><stop offset=".359" stop-color="#9d9d9d"/><stop offset=".4" stop-color="#969696"/><stop offset=".437" stop-color="#808080"/><stop offset=".474" stop-color="#818181"/><stop offset=".517" stop-color="#616161"/><stop offset=".557" stop-color="#484848"/><stop offset=".647" stop-color="#2e2e2e"/><stop offset=".682" stop-color="#2d2d2d"/><stop offset=".718" stop-color="#3d3d3d"/><stop offset=".734" stop-color="#3f3f3f"/><stop offset=".753" stop-color="#3b3b3b"/><stop offset=".784" stop-color="#2b2b2b"/><stop offset=".798" stop-color="#292929"/><stop offset=".812" stop-color="#2f2f2f"/><stop offset=".847" stop-color="#4c4c4c"/><stop offset=".864" stop-color="#535353"/><stop offset=".936" stop-color="#414141"/><stop offset="1" stop-color="#424242"/></linearGradient><linearGradient id="b51" x2="0" y2="1"><stop offset="0" stop-color="#3e3e3e"/><stop offset=".027" stop-color="#434343"/><stop offset=".087" stop-color="#5d5d5d"/><stop offset=".148" stop-color="#555555"/><stop offset=".177" stop-color="#5a5a5a"/><stop offset=".227" stop-color="#717171"/><stop offset=".278" stop-color="#9f9f9f"/><stop offset=".293" stop-color="#a6a6a6"/><stop offset=".307" stop-color="#a1a1a1"/><stop offset=".334" stop-color="#7e7e7e"/><stop offset=".346" stop-color="#767676"/><stop offset=".357" stop-color="#777777"/><stop offset=".392" stop-color="#898989"/><stop offset=".452" stop-color="#878787"/><stop offset=".472" stop-color="#7d7d7d"/><stop offset=".526" stop-color="#4d4d4d"/><stop offset=".55" stop-color="#404040"/><stop offset=".662" stop-color="#272727"/><stop offset=".715" stop-color="#313131"/><stop offset=".738" stop-color="#303030"/><stop offset=".763" stop-color="#282828"/><stop offset=".8" stop-color="#111111"/><stop offset=".816" stop-color="#181818"/><stop offset=".85" stop-color="#484848"/><stop offset=".87" stop-color="#545454"/><stop offset=".883" stop-color="#535353"/><stop offset=".918" stop-color="#444444"/><stop offset=".944" stop-color="#3d3d3d"/><stop offset=".975" stop-color="#3c3c3c"/><stop offset="1" stop-color="#414141"/></linearGradient><linearGradient id="b52" x2="0" y2="1"><stop offset="0" stop-color="#404040"/><stop offset=".066" stop-color="#575757"/><stop offset=".124" stop-color="#636363"/><stop offset=".14" stop-color="#626262"/><stop offset=".175" stop-color="#555555"/><stop offset=".194" stop-color="#565656"/><stop offset=".214" stop-color="#636363"/><stop offset=".252" stop-color="#8c8c8c"/><stop offset=".276" stop-color="#949494"/><stop offset=".291" stop-color="#919191"/><stop offset=".317" stop-color="#818181"/><stop offset=".328" stop-color="#7e7e7e"/><stop offset=".34" stop-color="#828282"/><stop offset=".361" stop-color="#929292"/><stop offset=".371" stop-color="#939393"/><stop offset=".381" stop-color="#8d8d8d"/><stop offset=".4" stop-color="#767676"/><stop offset=".41" stop-color="#717171"/><stop offset=".435" stop-color="#7f7f7f"/><stop offset=".443" stop-color="#808080"/><stop offset=".452" stop-color="#797979"/><stop offset=".478" stop-color="#5a5a5a"/><stop offset=".491" stop-color="#505050"/><stop offset=".536" stop-color="#464646"/><stop offset=".579" stop-color="#343434"/><stop offset=".641" stop-color="#292929"/><stop offset=".701" stop-color="#343434"/><stop offset=".808" stop-color="#343434"/><stop offset=".823" stop-color="#3b3b3b"/><stop offset=".856" stop-color="#585858"/><stop offset=".872" stop-color="#5d5d5d"/><stop offset=".889" stop-color="#595959"/><stop offset=".94" stop-color="#414141"/><stop offset="1" stop-color="#474747"/></linearGradient><linearGradient id="b53" x2="0" y2="1"><stop offset="0" stop-color="#4a4a4a"/><stop offset=".019" stop-color="#4d4d4d"/><stop offset=".068" stop-color="#5c5c5c"/><stop offset=".14" stop-color="#656565"/><stop offset=".163" stop-color="#646464"/><stop offset=".2" stop-color="#5b5b5b"/><stop offset=".217" stop-color="#5c5c5c"/><stop offset=".243" stop-color="#6b6b6b"/><stop offset=".274" stop-color="#969696"/><stop offset=".287" stop-color="#a1a1a1"/><stop offset=".305" stop-color="#a0a0a0"/><stop offset=".35" stop-color="#858585"/><stop offset=".363" stop-color="#838383"/><stop offset=".377" stop-color="#898989"/><stop offset=".416" stop-color="#aeaeae"/><stop offset=".443" stop-color="#b7b7b7"/><stop offset=".456" stop-color="#b4b4b4"/><stop offset=".47" stop-color="#acacac"/><stop offset=".509" stop-color="#7a7a7a"/><stop offset=".559" stop-color="#4b4b4b"/><stop offset=".581" stop-color="#3e3e3e"/><stop offset=".608" stop-color="#363636"/><stop offset=".633" stop-color="#353535"/><stop offset=".68" stop-color="#3b3b3b"/><stop offset=".72" stop-color="#353535"/><stop offset=".755" stop-color="#383838"/><stop offset=".798" stop-color="#292929"/><stop offset=".812" stop-color="#2f2f2f"/><stop offset=".847" stop-color="#4f4f4f"/><stop offset=".864" stop-color="#575757"/><stop offset=".878" stop-color="#565656"/><stop offset=".917" stop-color="#464646"/><stop offset=".973" stop-color="#4c4c4c"/><stop offset="1" stop-color="#4a4a4a"/></linearGradient><linearGradient id="b54" x2="0" y2="1"><stop offset="0" stop-color="#4c4c4c"/><stop offset=".049" stop-color="#555555"/><stop offset=".091" stop-color="#737373"/><stop offset=".105" stop-color="#797979"/><stop offset=".117" stop-color="#777777"/><stop offset=".148" stop-color="#666666"/><stop offset=".165" stop-color="#626262"/><stop offset=".239" stop-color="#6e6e6e"/><stop offset=".258" stop-color="#7c7c7c"/><stop offset=".289" stop-color="#a8a8a8"/><stop offset=".303" stop-color="#aeaeae"/><stop offset=".346" stop-color="#979797"/><stop offset=".381" stop-color="#919191"/><stop offset=".414" stop-color="#838383"/><stop offset=".427" stop-color="#868686"/><stop offset=".452" stop-color="#989898"/><stop offset=".464" stop-color="#989898"/><stop offset=".478" stop-color="#8d8d8d"/><stop offset=".513" stop-color="#626262"/><stop offset=".532" stop-color="#525252"/><stop offset=".553" stop-color="#474747"/><stop offset=".61" stop-color="#373737"/><stop offset=".67" stop-color="#393939"/><stop offset=".72" stop-color="#414141"/><stop offset=".788" stop-color="#313131"/><stop offset=".804" stop-color="#373737"/><stop offset=".839" stop-color="#4d4d4d"/><stop offset=".86" stop-color="#545454"/><stop offset=".88" stop-color="#535353"/><stop offset=".934" stop-color="#424242"/><stop offset="1" stop-color="#535353"/></linearGradient><linearGradient id="b55" x2="0" y2="1"><stop offset="0" stop-color="#4d4d4d"/><stop offset=".025" stop-color="#585858"/><stop offset=".072" stop-color="#595959"/><stop offset=".161" stop-color="#707070"/><stop offset=".179" stop-color="#6d6d6d"/><stop offset=".212" stop-color="#595959"/><stop offset=".223" stop-color="#585858"/><stop offset=".239" stop-color="#636363"/><stop offset=".27" stop-color="#929292"/><stop offset=".285" stop-color="#9f9f9f"/><stop offset=".301" stop-color="#9f9f9f"/><stop offset=".361" stop-color="#868686"/><stop offset=".375" stop-color="#8a8a8a"/><stop offset=".406" stop-color="#9d9d9d"/><stop offset=".431" stop-color="#a1a1a1"/><stop offset=".449" stop-color="#9e9e9e"/><stop offset=".462" stop-color="#959595"/><stop offset=".509" stop-color="#5d5d5d"/><stop offset=".536" stop-color="#454545"/><stop offset=".627" stop-color="#272727"/><stop offset=".757" stop-color="#393939"/><stop offset=".804" stop-color="#282828"/><stop offset=".816" stop-color="#2d2d2d"/><stop offset=".843" stop-color="#444444"/><stop offset=".858" stop-color="#4c4c4c"/><stop offset=".917" stop-color="#414141"/><stop offset="1" stop-color="#4d4d4d"/></linearGradient><linearGradient id="b56" x2="0" y2="1"><stop offset="0" stop-color="#4d4d4d"/><stop offset=".052" stop-color="#4f4f4f"/><stop offset=".095" stop-color="#5d5d5d"/><stop offset=".171" stop-color="#6f6f6f"/><stop offset=".188" stop-color="#6e6e6e"/><stop offset=".219" stop-color="#646464"/><stop offset=".233" stop-color="#646464"/><stop offset=".249" stop-color="#6a6a6a"/><stop offset=".293" stop-color="#878787"/><stop offset=".344" stop-color="#909090"/><stop offset=".361" stop-color="#8c8c8c"/><stop offset=".392" stop-color="#777777"/><stop offset=".404" stop-color="#737373"/><stop offset=".417" stop-color="#767676"/><stop offset=".445" stop-color="#888888"/><stop offset=".458" stop-color="#888888"/><stop offset=".474" stop-color="#7c7c7c"/><stop offset=".507" stop-color="#535353"/><stop offset=".524" stop-color="#464646"/><stop offset=".555" stop-color="#3c3c3c"/><stop offset=".602" stop-color="#373737"/><stop offset=".641" stop-color="#2c2c2c"/><stop offset=".728" stop-color="#2b2b2b"/><stop offset=".771" stop-color="#252525"/><stop offset=".786" stop-color="#2c2c2c"/><stop offset=".833" stop-color="#525252"/><stop offset=".852" stop-color="#5a5a5a"/><stop offset=".866" stop-color="#575757"/><stop offset=".893" stop-color="#484848"/><stop offset=".911" stop-color="#434343"/><stop offset="1" stop-color="#444444"/></linearGradient><linearGradient id="b57" x2="0" y2="1"><stop offset="0" stop-color="#464646"/><stop offset=".033" stop-color="#4c4c4c"/><stop offset=".085" stop-color="#6b6b6b"/><stop offset=".14" stop-color="#787878"/><stop offset=".153" stop-color="#797979"/><stop offset=".183" stop-color="#707070"/><stop offset=".196" stop-color="#707070"/><stop offset=".241" stop-color="#909090"/><stop offset=".276" stop-color="#9c9c9c"/><stop offset=".291" stop-color="#9e9e9e"/><stop offset=".328" stop-color="#969696"/><stop offset=".392" stop-color="#a5a5a5"/><stop offset=".431" stop-color="#a0a0a0"/><stop offset=".449" stop-color="#9a9a9a"/><stop offset=".464" stop-color="#8d8d8d"/><stop offset=".501" stop-color="#606060"/><stop offset=".518" stop-color="#4f4f4f"/><stop offset=".538" stop-color="#444444"/><stop offset=".594" stop-color="#2d2d2d"/><stop offset=".726" stop-color="#3b3b3b"/><stop offset=".744" stop-color="#373737"/><stop offset=".771" stop-color="#262626"/><stop offset=".783" stop-color="#242424"/><stop offset=".837" stop-color="#4c4c4c"/><stop offset=".864" stop-color="#585858"/><stop offset=".878" stop-color="#565656"/><stop offset=".911" stop-color="#434343"/><stop offset=".928" stop-color="#3e3e3e"/><stop offset=".979" stop-color="#474747"/><stop offset="1" stop-color="#474747"/></linearGradient><linearGradient id="b58" x2="0" y2="1"><stop offset="0" stop-color="#494949"/><stop offset=".07" stop-color="#565656"/><stop offset=".142" stop-color="#7e7e7e"/><stop offset=".159" stop-color="#7c7c7c"/><stop offset=".198" stop-color="#6a6a6a"/><stop offset=".219" stop-color="#6b6b6b"/><stop offset=".245" stop-color="#7c7c7c"/><stop offset=".287" stop-color="#afafaf"/><stop offset=".305" stop-color="#b7b7b7"/><stop offset=".32" stop-color="#b1b1b1"/><stop offset=".357" stop-color="#929292"/><stop offset=".4" stop-color="#838383"/><stop offset=".419" stop-color="#818181"/><stop offset=".456" stop-color="#8a8a8a"/><stop offset=".472" stop-color="#888888"/><stop offset=".485" stop-color="#7e7e7e"/><stop offset=".524" stop-color="#575757"/><stop offset=".579" stop-color="#363636"/><stop offset=".594" stop-color="#303030"/><stop offset=".61" stop-color="#313131"/><stop offset=".656" stop-color="#3c3c3c"/><stop offset=".736" stop-color="#2b2b2b"/><stop offset=".765" stop-color="#2a2a2a"/><stop offset=".786" stop-color="#303030"/><stop offset=".823" stop-color="#484848"/><stop offset=".841" stop-color="#4d4d4d"/><stop offset=".905" stop-color="#414141"/><stop offset="1" stop-color="#454545"/></linearGradient><linearGradient id="b59" x2="0" y2="1"><stop offset="0" stop-color="#434343"/><stop offset=".045" stop-color="#464646"/><stop offset=".089" stop-color="#616161"/><stop offset=".109" stop-color="#666666"/><stop offset=".128" stop-color="#636363"/><stop offset=".171" stop-color="#4f4f4f"/><stop offset=".216" stop-color="#515151"/><stop offset=".254" stop-color="#646464"/><stop offset=".287" stop-color="#6e6e6e"/><stop offset=".318" stop-color="#8d8d8d"/><stop offset=".332" stop-color="#939393"/><stop offset=".346" stop-color="#8f8f8f"/><stop offset=".41" stop-color="#6a6a6a"/><stop offset=".454" stop-color="#646464"/><stop offset=".497" stop-color="#494949"/><stop offset=".551" stop-color="#3c3c3c"/><stop offset=".614" stop-color="#292929"/><stop offset=".713" stop-color="#2f2f2f"/><stop offset=".763" stop-color="#1d1d1d"/><stop offset=".775" stop-color="#222222"/><stop offset=".814" stop-color="#444444"/><stop offset=".847" stop-color="#535353"/><stop offset=".862" stop-color="#535353"/><stop offset=".897" stop-color="#414141"/><stop offset=".918" stop-color="#3c3c3c"/><stop offset="1" stop-color="#4c4c4c"/></linearGradient><linearGradient id="b60" x2="0" y2="1"><stop offset="0" stop-color="#444444"/><stop offset=".027" stop-color="#484848"/><stop offset=".082" stop-color="#474747"/><stop offset=".138" stop-color="#5b5b5b"/><stop offset=".188" stop-color="#595959"/><stop offset=".243" stop-color="#757575"/><stop offset=".278" stop-color="#8c8c8c"/><stop offset=".293" stop-color="#929292"/><stop offset=".383" stop-color="#959595"/><stop offset=".443" stop-color="#a0a0a0"/><stop offset=".458" stop-color="#9d9d9d"/><stop offset=".474" stop-color="#929292"/><stop offset=".515" stop-color="#5c5c5c"/><stop offset=".532" stop-color="#4b4b4b"/><stop offset=".551" stop-color="#414141"/><stop offset=".577" stop-color="#3b3b3b"/><stop offset=".656" stop-color="#343434"/><stop offset=".707" stop-color="#373737"/><stop offset=".753" stop-color="#1f1f1f"/><stop offset=".767" stop-color="#252525"/><stop offset=".808" stop-color="#4d4d4d"/><stop offset=".841" stop-color="#5d5d5d"/><stop offset=".86" stop-color="#595959"/><stop offset=".895" stop-color="#414141"/><stop offset=".917" stop-color="#393939"/><stop offset=".936" stop-color="#393939"/><stop offset=".979" stop-color="#454545"/><stop offset="1" stop-color="#464646"/></linearGradient><linearGradient id="b61" x2="0" y2="1"><stop offset="0" stop-color="#4f4f4f"/><stop offset=".05" stop-color="#5c5c5c"/><stop offset=".109" stop-color="#555555"/><stop offset=".192" stop-color="#6a6a6a"/><stop offset=".237" stop-color="#6a6a6a"/><stop offset=".293" stop-color="#878787"/><stop offset=".305" stop-color="#868686"/><stop offset=".332" stop-color="#777777"/><stop offset=".346" stop-color="#757575"/><stop offset=".402" stop-color="#7c7c7c"/><stop offset=".443" stop-color="#8e8e8e"/><stop offset=".46" stop-color="#878787"/><stop offset=".513" stop-color="#535353"/><stop offset=".544" stop-color="#404040"/><stop offset=".658" stop-color="#303030"/><stop offset=".711" stop-color="#333333"/><stop offset=".757" stop-color="#202020"/><stop offset=".775" stop-color="#252525"/><stop offset=".816" stop-color="#434343"/><stop offset=".843" stop-color="#4d4d4d"/><stop offset=".868" stop-color="#4e4e4e"/><stop offset=".924" stop-color="#404040"/><stop offset="1" stop-color="#4b4b4b"/></linearGradient><linearGradient id="b62" x2="0" y2="1"><stop offset="0" stop-color="#464646"/><stop offset=".105" stop-color="#4c4c4c"/><stop offset=".196" stop-color="#616161"/><stop offset=".243" stop-color="#5d5d5d"/><stop offset=".26" stop-color="#676767"/><stop offset=".293" stop-color="#8d8d8d"/><stop offset=".309" stop-color="#959595"/><stop offset=".35" stop-color="#8f8f8f"/><stop offset=".417" stop-color="#909090"/><stop offset=".456" stop-color="#989898"/><stop offset=".466" stop-color="#969696"/><stop offset=".478" stop-color="#8e8e8e"/><stop offset=".515" stop-color="#646464"/><stop offset=".534" stop-color="#525252"/><stop offset=".592" stop-color="#343434"/><stop offset=".637" stop-color="#282828"/><stop offset=".705" stop-color="#282828"/><stop offset=".748" stop-color="#131313"/><stop offset=".763" stop-color="#171717"/><stop offset=".802" stop-color="#3d3d3d"/><stop offset=".831" stop-color="#4a4a4a"/><stop offset=".852" stop-color="#4b4b4b"/><stop offset=".895" stop-color="#424242"/><stop offset=".959" stop-color="#3c3c3c"/><stop offset="1" stop-color="#3e3e3e"/></linearGradient><linearGradient id="b63" x2="0" y2="1"><stop offset="0" stop-color="#494949"/><stop offset=".049" stop-color="#4b4b4b"/><stop offset=".103" stop-color="#616161"/><stop offset=".157" stop-color="#5b5b5b"/><stop offset=".221" stop-color="#626262"/><stop offset=".245" stop-color="#727272"/><stop offset=".282" stop-color="#a0a0a0"/><stop offset=".299" stop-color="#a8a8a8"/><stop offset=".317" stop-color="#a1a1a1"/><stop offset=".351" stop-color="#838383"/><stop offset=".369" stop-color="#797979"/><stop offset=".388" stop-color="#777777"/><stop offset=".429" stop-color="#838383"/><stop offset=".445" stop-color="#828282"/><stop offset=".522" stop-color="#535353"/><stop offset=".598" stop-color="#393939"/><stop offset=".676" stop-color="#252525"/><stop offset=".753" stop-color="#272727"/><stop offset=".806" stop-color="#4b4b4b"/><stop offset=".833" stop-color="#555555"/><stop offset=".854" stop-color="#535353"/><stop offset=".893" stop-color="#434343"/><stop offset=".95" stop-color="#3a3a3a"/><stop offset=".965" stop-color="#3c3c3c"/><stop offset="1" stop-color="#484848"/></linearGradient><linearGradient id="b64" x2="0" y2="1"><stop offset="0" stop-color="#3d3d3d"/><stop offset=".049" stop-color="#464646"/><stop offset=".095" stop-color="#555555"/><stop offset=".15" stop-color="#4e4e4e"/><stop offset=".175" stop-color="#505050"/><stop offset=".276" stop-color="#727272"/><stop offset=".313" stop-color="#8a8a8a"/><stop offset=".326" stop-color="#8f8f8f"/><stop offset=".363" stop-color="#838383"/><stop offset=".406" stop-color="#7c7c7c"/><stop offset=".454" stop-color="#7c7c7c"/><stop offset=".472" stop-color="#727272"/><stop offset=".524" stop-color="#474747"/><stop offset=".553" stop-color="#3a3a3a"/><stop offset=".575" stop-color="#373737"/><stop offset=".617" stop-color="#3a3a3a"/><stop offset=".66" stop-color="#2a2a2a"/><stop offset=".709" stop-color="#292929"/><stop offset=".746" stop-color="#1a1a1a"/><stop offset=".761" stop-color="#1f1f1f"/><stop offset=".802" stop-color="#3c3c3c"/><stop offset=".837" stop-color="#494949"/><stop offset=".897" stop-color="#3f3f3f"/><stop offset="1" stop-color="#3f3f3f"/></linearGradient><linearGradient id="b65" x2="0" y2="1"><stop offset="0" stop-color="#414141"/><stop offset=".076" stop-color="#575757"/><stop offset=".155" stop-color="#4b4b4b"/><stop offset=".231" stop-color="#555555"/><stop offset=".256" stop-color="#666666"/><stop offset=".299" stop-color="#a0a0a0"/><stop offset=".318" stop-color="#aaaaaa"/><stop offset=".334" stop-color="#a5a5a5"/><stop offset=".377" stop-color="#8c8c8c"/><stop offset=".431" stop-color="#797979"/><stop offset=".48" stop-color="#767676"/><stop offset=".491" stop-color="#6e6e6e"/><stop offset=".522" stop-color="#4f4f4f"/><stop offset=".542" stop-color="#424242"/><stop offset=".633" stop-color="#262626"/><stop offset=".65" stop-color="#272727"/><stop offset=".693" stop-color="#343434"/><stop offset=".707" stop-color="#303030"/><stop offset=".73" stop-color="#232323"/><stop offset=".742" stop-color="#222222"/><stop offset=".798" stop-color="#414141"/><stop offset=".868" stop-color="#545454"/><stop offset=".883" stop-color="#525252"/><stop offset=".917" stop-color="#434343"/><stop offset=".938" stop-color="#3f3f3f"/><stop offset=".967" stop-color="#414141"/><stop offset="1" stop-color="#4b4b4b"/></linearGradient><linearGradient id="b66" x2="0" y2="1"><stop offset="0" stop-color="#424242"/><stop offset=".07" stop-color="#4f4f4f"/><stop offset=".138" stop-color="#4d4d4d"/><stop offset=".192" stop-color="#5e5e5e"/><stop offset=".241" stop-color="#626262"/><stop offset=".264" stop-color="#6f6f6f"/><stop offset=".309" stop-color="#9a9a9a"/><stop offset=".328" stop-color="#a1a1a1"/><stop offset=".377" stop-color="#8f8f8f"/><stop offset=".412" stop-color="#939393"/><stop offset=".423" stop-color="#909090"/><stop offset=".441" stop-color="#818181"/><stop offset=".491" stop-color="#4a4a4a"/><stop offset=".513" stop-color="#3d3d3d"/><stop offset=".604" stop-color="#333333"/><stop offset=".652" stop-color="#383838"/><stop offset=".693" stop-color="#2d2d2d"/><stop offset=".736" stop-color="#191919"/><stop offset=".755" stop-color="#1d1d1d"/><stop offset=".814" stop-color="#474747"/><stop offset=".843" stop-color="#535353"/><stop offset=".868" stop-color="#515151"/><stop offset=".924" stop-color="#3b3b3b"/><stop offset="1" stop-color="#414141"/></linearGradient><linearGradient id="b67" x2="0" y2="1"><stop offset="0" stop-color="#424242"/><stop offset=".027" stop-color="#424242"/><stop offset=".089" stop-color="#575757"/><stop offset=".144" stop-color="#545454"/><stop offset=".184" stop-color="#646464"/><stop offset=".229" stop-color="#595959"/><stop offset=".249" stop-color="#5a5a5a"/><stop offset=".278" stop-color="#6c6c6c"/><stop offset=".291" stop-color="#7a7a7a"/><stop offset=".317" stop-color="#9c9c9c"/><stop offset=".332" stop-color="#a5a5a5"/><stop offset=".344" stop-color="#a2a2a2"/><stop offset=".417" stop-color="#7d7d7d"/><stop offset=".497" stop-color="#606060"/><stop offset=".551" stop-color="#454545"/><stop offset=".579" stop-color="#3e3e3e"/><stop offset=".645" stop-color="#393939"/><stop offset=".713" stop-color="#272727"/><stop offset=".734" stop-color="#282828"/><stop offset=".773" stop-color="#3b3b3b"/><stop offset=".845" stop-color="#505050"/><stop offset=".92" stop-color="#434343"/><stop offset=".953" stop-color="#444444"/><stop offset="1" stop-color="#4b4b4b"/></linearGradient><linearGradient id="b68" x2="0" y2="1"><stop offset="0" stop-color="#3d3d3d"/><stop offset=".037" stop-color="#434343"/><stop offset=".083" stop-color="#515151"/><stop offset=".13" stop-color="#4e4e4e"/><stop offset=".231" stop-color="#525252"/><stop offset=".252" stop-color="#5e5e5e"/><stop offset=".317" stop-color="#959595"/><stop offset=".344" stop-color="#9e9e9e"/><stop offset=".386" stop-color="#929292"/><stop offset=".52" stop-color="#4b4b4b"/><stop offset=".569" stop-color="#3a3a3a"/><stop offset=".625" stop-color="#3a3a3a"/><stop offset=".678" stop-color="#2d2d2d"/><stop offset=".726" stop-color="#282828"/><stop offset=".746" stop-color="#2d2d2d"/><stop offset=".798" stop-color="#4b4b4b"/><stop offset=".825" stop-color="#535353"/><stop offset=".843" stop-color="#535353"/><stop offset=".885" stop-color="#454545"/><stop offset=".922" stop-color="#404040"/><stop offset="1" stop-color="#474747"/></linearGradient><linearGradient id="b69" x2="0" y2="1"><stop offset="0" stop-color="#404040"/><stop offset=".111" stop-color="#5b5b5b"/><stop offset=".148" stop-color="#595959"/><stop offset=".188" stop-color="#5f5f5f"/><stop offset=".247" stop-color="#585858"/><stop offset=".266" stop-color="#616161"/><stop offset=".299" stop-color="#7c7c7c"/><stop offset=".315" stop-color="#818181"/><stop offset=".383" stop-color="#707070"/><stop offset=".433" stop-color="#757575"/><stop offset=".447" stop-color="#6e6e6e"/><stop offset=".48" stop-color="#535353"/><stop offset=".509" stop-color="#454545"/><stop offset=".567" stop-color="#363636"/><stop offset=".617" stop-color="#303030"/><stop offset=".66" stop-color="#242424"/><stop offset=".701" stop-color="#2b2b2b"/><stop offset=".74" stop-color="#2b2b2b"/><stop offset=".792" stop-color="#494949"/><stop offset=".825" stop-color="#555555"/><stop offset=".845" stop-color="#545454"/><stop offset=".922" stop-color="#404040"/><stop offset="1" stop-color="#464646"/></linearGradient><linearGradient id="b70" x2="0" y2="1"><stop offset="0" stop-color="#494949"/><stop offset=".054" stop-color="#525252"/><stop offset=".109" stop-color="#525252"/><stop offset=".128" stop-color="#595959"/><stop offset=".173" stop-color="#777777"/><stop offset=".186" stop-color="#787878"/><stop offset=".219" stop-color="#6e6e6e"/><stop offset=".237" stop-color="#6e6e6e"/><stop offset=".311" stop-color="#868686"/><stop offset=".326" stop-color="#828282"/><stop offset=".365" stop-color="#6c6c6c"/><stop offset=".421" stop-color="#6f6f6f"/><stop offset=".482" stop-color="#5f5f5f"/><stop offset=".553" stop-color="#3e3e3e"/><stop offset=".616" stop-color="#353535"/><stop offset=".683" stop-color="#383838"/><stop offset=".738" stop-color="#353535"/><stop offset=".773" stop-color="#3f3f3f"/><stop offset=".819" stop-color="#565656"/><stop offset=".837" stop-color="#5a5a5a"/><stop offset=".897" stop-color="#4d4d4d"/><stop offset="1" stop-color="#4b4b4b"/></linearGradient><linearGradient id="b71" x2="0" y2="1"><stop offset="0" stop-color="#3f3f3f"/><stop offset=".054" stop-color="#484848"/><stop offset=".117" stop-color="#474747"/><stop offset=".163" stop-color="#5d5d5d"/><stop offset=".202" stop-color="#5e5e5e"/><stop offset=".25" stop-color="#676767"/><stop offset=".295" stop-color="#7c7c7c"/><stop offset=".315" stop-color="#808080"/><stop offset=".375" stop-color="#747474"/><stop offset=".431" stop-color="#5b5b5b"/><stop offset=".517" stop-color="#494949"/><stop offset=".571" stop-color="#343434"/><stop offset=".612" stop-color="#2c2c2c"/><stop offset=".633" stop-color="#2d2d2d"/><stop offset=".68" stop-color="#383838"/><stop offset=".722" stop-color="#313131"/><stop offset=".746" stop-color="#313131"/><stop offset=".831" stop-color="#454545"/><stop offset=".885" stop-color="#414141"/><stop offset=".963" stop-color="#444444"/><stop offset="1" stop-color="#494949"/></linearGradient><linearGradient id="b72" x2="0" y2="1"><stop offset="0" stop-color="#3b3b3b"/><stop offset=".099" stop-color="#494949"/><stop offset=".159" stop-color="#5e5e5e"/><stop offset=".217" stop-color="#4c4c4c"/><stop offset=".245" stop-color="#4a4a4a"/><stop offset=".26" stop-color="#505050"/><stop offset=".299" stop-color="#6f6f6f"/><stop offset=".33" stop-color="#787878"/><stop offset=".371" stop-color="#6b6b6b"/><stop offset=".417" stop-color="#646464"/><stop offset=".483" stop-color="#404040"/><stop offset=".567" stop-color="#353535"/><stop offset=".616" stop-color="#373737"/><stop offset=".718" stop-color="#292929"/><stop offset=".817" stop-color="#4a4a4a"/><stop offset=".882" stop-color="#3d3d3d"/><stop offset=".93" stop-color="#3f3f3f"/><stop offset=".973" stop-color="#3d3d3d"/><stop offset="1" stop-color="#414141"/></linearGradient><linearGradient id="b73" x2="0" y2="1"><stop offset="0" stop-color="#474747"/><stop offset=".072" stop-color="#4a4a4a"/><stop offset=".118" stop-color="#525252"/><stop offset=".198" stop-color="#484848"/><stop offset=".217" stop-color="#494949"/><stop offset=".245" stop-color="#565656"/><stop offset=".313" stop-color="#8d8d8d"/><stop offset=".332" stop-color="#949494"/><stop offset=".348" stop-color="#8e8e8e"/><stop offset=".383" stop-color="#737373"/><stop offset=".423" stop-color="#686868"/><stop offset=".468" stop-color="#494949"/><stop offset=".495" stop-color="#414141"/><stop offset=".588" stop-color="#3b3b3b"/><stop offset=".649" stop-color="#3f3f3f"/><stop offset=".744" stop-color="#373737"/><stop offset=".783" stop-color="#3f3f3f"/><stop offset=".821" stop-color="#525252"/><stop offset=".837" stop-color="#565656"/><stop offset=".885" stop-color="#4a4a4a"/><stop offset=".918" stop-color="#454545"/><stop offset=".973" stop-color="#434343"/><stop offset="1" stop-color="#464646"/></linearGradient><linearGradient id="b74" x2="0" y2="1"><stop offset="0" stop-color="#4c4c4c"/><stop offset=".043" stop-color="#454545"/><stop offset=".093" stop-color="#525252"/><stop offset=".142" stop-color="#444444"/><stop offset=".206" stop-color="#494949"/><stop offset=".227" stop-color="#525252"/><stop offset=".278" stop-color="#787878"/><stop offset=".303" stop-color="#808080"/><stop offset=".322" stop-color="#797979"/><stop offset=".361" stop-color="#575757"/><stop offset=".377" stop-color="#4f4f4f"/><stop offset=".41" stop-color="#4d4d4d"/><stop offset=".445" stop-color="#454545"/><stop offset=".487" stop-color="#484848"/><stop offset=".528" stop-color="#3d3d3d"/><stop offset=".602" stop-color="#313131"/><stop offset=".647" stop-color="#373737"/><stop offset=".72" stop-color="#373737"/><stop offset=".788" stop-color="#474747"/><stop offset=".829" stop-color="#4c4c4c"/><stop offset=".854" stop-color="#4b4b4b"/><stop offset=".924" stop-color="#3b3b3b"/><stop offset="1" stop-color="#4a4a4a"/></linearGradient><linearGradient id="b75" x2="0" y2="1"><stop offset="0" stop-color="#373737"/><stop offset=".072" stop-color="#4a4a4a"/><stop offset=".118" stop-color="#454545"/><stop offset=".198" stop-color="#4c4c4c"/><stop offset=".249" stop-color="#484848"/><stop offset=".27" stop-color="#4f4f4f"/><stop offset=".313" stop-color="#696969"/><stop offset=".332" stop-color="#6e6e6e"/><stop offset=".348" stop-color="#6a6a6a"/><stop offset=".386" stop-color="#575757"/><stop offset=".437" stop-color="#585858"/><stop offset=".518" stop-color="#3f3f3f"/><stop offset=".666" stop-color="#313131"/><stop offset=".783" stop-color="#3c3c3c"/><stop offset=".831" stop-color="#464646"/><stop offset=".905" stop-color="#3b3b3b"/><stop offset="1" stop-color="#434343"/></linearGradient><linearGradient id="b76" x2="0" y2="1"><stop offset="0" stop-color="#505050"/><stop offset=".049" stop-color="#464646"/><stop offset=".097" stop-color="#525252"/><stop offset=".151" stop-color="#4b4b4b"/><stop offset=".243" stop-color="#535353"/><stop offset=".309" stop-color="#646464"/><stop offset=".384" stop-color="#5f5f5f"/><stop offset=".443" stop-color="#474747"/><stop offset=".532" stop-color="#363636"/><stop offset=".577" stop-color="#3e3e3e"/><stop offset=".621" stop-color="#3c3c3c"/><stop offset=".709" stop-color="#454545"/><stop offset=".765" stop-color="#3e3e3e"/><stop offset=".821" stop-color="#4e4e4e"/><stop offset=".868" stop-color="#454545"/><stop offset=".926" stop-color="#414141"/><stop offset=".959" stop-color="#434343"/><stop offset="1" stop-color="#4c4c4c"/></linearGradient><linearGradient id="b77" x2="0" y2="1"><stop offset="0" stop-color="#434343"/><stop offset=".027" stop-color="#434343"/><stop offset=".097" stop-color="#4e4e4e"/><stop offset=".287" stop-color="#505050"/><stop offset=".359" stop-color="#575757"/><stop offset=".462" stop-color="#474747"/><stop offset=".52" stop-color="#474747"/><stop offset=".596" stop-color="#393939"/><stop offset=".652" stop-color="#424242"/><stop offset=".701" stop-color="#414141"/><stop offset=".746" stop-color="#4b4b4b"/><stop offset=".788" stop-color="#484848"/><stop offset=".831" stop-color="#4f4f4f"/><stop offset=".899" stop-color="#434343"/><stop offset=".969" stop-color="#4b4b4b"/><stop offset="1" stop-color="#474747"/></linearGradient><linearGradient id="b78" x2="0" y2="1"><stop offset="0" stop-color="#444444"/><stop offset=".066" stop-color="#424242"/><stop offset=".12" stop-color="#4f4f4f"/><stop offset=".21" stop-color="#4e4e4e"/><stop offset=".266" stop-color="#464646"/><stop offset=".317" stop-color="#575757"/><stop offset=".379" stop-color="#434343"/><stop offset=".517" stop-color="#414141"/><stop offset=".592" stop-color="#3b3b3b"/><stop offset=".627" stop-color="#3c3c3c"/><stop offset=".672" stop-color="#434343"/><stop offset=".717" stop-color="#3e3e3e"/><stop offset=".794" stop-color="#4c4c4c"/><stop offset=".887" stop-color="#3c3c3c"/><stop offset=".963" stop-color="#3b3b3b"/><stop offset="1" stop-color="#414141"/></linearGradient><linearGradient id="b79" x2="0" y2="1"><stop offset="0" stop-color="#3f3f3f"/><stop offset=".045" stop-color="#434343"/><stop offset=".093" stop-color="#4e4e4e"/><stop offset=".173" stop-color="#4d4d4d"/><stop offset=".245" stop-color="#434343"/><stop offset=".301" stop-color="#505050"/><stop offset=".394" stop-color="#444444"/><stop offset=".501" stop-color="#424242"/><stop offset=".55" stop-color="#3a3a3a"/><stop offset=".596" stop-color="#3f3f3f"/><stop offset=".682" stop-color="#3d3d3d"/><stop offset=".728" stop-color="#464646"/><stop offset=".804" stop-color="#4a4a4a"/><stop offset=".874" stop-color="#3e3e3e"/><stop offset=".95" stop-color="#454545"/><stop offset="1" stop-color="#3f3f3f"/></linearGradient><linearGradient id="b80" x2="0" y2="1"><stop offset="0" stop-color="#4d4d4d"/><stop offset=".07" stop-color="#474747"/><stop offset=".181" stop-color="#4d4d4d"/><stop offset=".278" stop-color="#494949"/><stop offset=".35" stop-color="#4f4f4f"/><stop offset=".373" stop-color="#4c4c4c"/><stop offset=".421" stop-color="#3d3d3d"/><stop offset=".474" stop-color="#3f3f3f"/><stop offset=".54" stop-color="#373737"/><stop offset=".608" stop-color="#444444"/><stop offset=".68" stop-color="#3b3b3b"/><stop offset=".726" stop-color="#414141"/><stop offset=".767" stop-color="#3f3f3f"/><stop offset=".814" stop-color="#434343"/><stop offset=".905" stop-color="#3f3f3f"/><stop offset=".963" stop-color="#454545"/><stop offset="1" stop-color="#454545"/></linearGradient><linearGradient id="b81" x2="0" y2="1"><stop offset="0" stop-color="#404040"/><stop offset=".117" stop-color="#494949"/><stop offset=".202" stop-color="#434343"/><stop offset=".243" stop-color="#3d3d3d"/><stop offset=".301" stop-color="#454545"/><stop offset=".359" stop-color="#3a3a3a"/><stop offset=".417" stop-color="#3d3d3d"/><stop offset=".48" stop-color="#383838"/><stop offset=".68" stop-color="#3d3d3d"/><stop offset=".736" stop-color="#363636"/><stop offset=".821" stop-color="#454545"/><stop offset=".907" stop-color="#383838"/><stop offset="1" stop-color="#3b3b3b"/></linearGradient><linearGradient id="b82" x2="0" y2="1"><stop offset="0" stop-color="#484848"/><stop offset=".027" stop-color="#4b4b4b"/><stop offset=".118" stop-color="#464646"/><stop offset=".198" stop-color="#4d4d4d"/><stop offset=".26" stop-color="#474747"/><stop offset=".404" stop-color="#474747"/><stop offset=".468" stop-color="#3e3e3e"/><stop offset=".559" stop-color="#424242"/><stop offset=".633" stop-color="#3c3c3c"/><stop offset=".761" stop-color="#3e3e3e"/><stop offset=".872" stop-color="#484848"/><stop offset=".967" stop-color="#3f3f3f"/><stop offset="1" stop-color="#434343"/></linearGradient><linearGradient id="b83" x2="0" y2="1"><stop offset="0" stop-color="#434343"/><stop offset=".041" stop-color="#414141"/><stop offset=".085" stop-color="#4e4e4e"/><stop offset=".111" stop-color="#505050"/><stop offset=".243" stop-color="#484848"/><stop offset=".293" stop-color="#4d4d4d"/><stop offset=".355" stop-color="#3d3d3d"/><stop offset=".441" stop-color="#434343"/><stop offset=".495" stop-color="#3e3e3e"/><stop offset=".561" stop-color="#464646"/><stop offset=".612" stop-color="#3e3e3e"/><stop offset=".664" stop-color="#404040"/><stop offset=".709" stop-color="#3c3c3c"/><stop offset=".765" stop-color="#474747"/><stop offset=".915" stop-color="#3f3f3f"/><stop offset=".979" stop-color="#484848"/><stop offset="1" stop-color="#474747"/></linearGradient><linearGradient id="b84" x2="0" y2="1"><stop offset="0" stop-color="#3b3b3b"/><stop offset=".064" stop-color="#424242"/><stop offset=".117" stop-color="#3e3e3e"/><stop offset=".177" stop-color="#414141"/><stop offset=".237" stop-color="#3f3f3f"/><stop offset=".285" stop-color="#474747"/><stop offset=".336" stop-color="#494949"/><stop offset=".406" stop-color="#3f3f3f"/><stop offset=".524" stop-color="#3e3e3e"/><stop offset=".586" stop-color="#373737"/><stop offset=".742" stop-color="#3f3f3f"/><stop offset=".829" stop-color="#3b3b3b"/><stop offset=".882" stop-color="#424242"/><stop offset=".928" stop-color="#3d3d3d"/><stop offset=".973" stop-color="#424242"/><stop offset="1" stop-color="#3d3d3d"/></linearGradient><filter id="hbb" x="-2%" y="0" width="104%" height="100%"><feGaussianBlur stdDeviation="2.3 0"/></filter><clipPath id="icb"><rect x="1044.00" y="605.10" width="588.60" height="515.90"/></clipPath></defs><g clip-path="url(#icb)"><g filter="url(#hbb)"><rect x="1033.00" y="605.1" width="12" height="515.9" fill="url(#b0)"/><rect x="1043.70" y="605.1" width="7.52" height="515.9" fill="url(#b0)"/><rect x="1050.62" y="605.1" width="7.52" height="515.9" fill="url(#b1)"/><rect x="1057.55" y="605.1" width="7.52" height="515.9" fill="url(#b2)"/><rect x="1064.47" y="605.1" width="7.52" height="515.9" fill="url(#b3)"/><rect x="1071.40" y="605.1" width="7.52" height="515.9" fill="url(#b4)"/><rect x="1078.32" y="605.1" width="7.52" height="515.9" fill="url(#b5)"/><rect x="1085.25" y="605.1" width="7.52" height="515.9" fill="url(#b6)"/><rect x="1092.17" y="605.1" width="7.52" height="515.9" fill="url(#b7)"/><rect x="1099.10" y="605.1" width="7.52" height="515.9" fill="url(#b8)"/><rect x="1106.02" y="605.1" width="7.52" height="515.9" fill="url(#b9)"/><rect x="1112.95" y="605.1" width="7.52" height="515.9" fill="url(#b10)"/><rect x="1119.87" y="605.1" width="7.52" height="515.9" fill="url(#b11)"/><rect x="1126.80" y="605.1" width="7.52" height="515.9" fill="url(#b12)"/><rect x="1133.72" y="605.1" width="7.52" height="515.9" fill="url(#b13)"/><rect x="1140.65" y="605.1" width="7.52" height="515.9" fill="url(#b14)"/><rect x="1147.57" y="605.1" width="7.52" height="515.9" fill="url(#b15)"/><rect x="1154.50" y="605.1" width="7.52" height="515.9" fill="url(#b16)"/><rect x="1161.42" y="605.1" width="7.52" height="515.9" fill="url(#b17)"/><rect x="1168.34" y="605.1" width="7.52" height="515.9" fill="url(#b18)"/><rect x="1175.27" y="605.1" width="7.52" height="515.9" fill="url(#b19)"/><rect x="1182.19" y="605.1" width="7.52" height="515.9" fill="url(#b20)"/><rect x="1189.12" y="605.1" width="7.52" height="515.9" fill="url(#b21)"/><rect x="1196.04" y="605.1" width="7.52" height="515.9" fill="url(#b22)"/><rect x="1202.97" y="605.1" width="7.52" height="515.9" fill="url(#b23)"/><rect x="1209.89" y="605.1" width="7.52" height="515.9" fill="url(#b24)"/><rect x="1216.82" y="605.1" width="7.52" height="515.9" fill="url(#b25)"/><rect x="1223.74" y="605.1" width="7.52" height="515.9" fill="url(#b26)"/><rect x="1230.67" y="605.1" width="7.52" height="515.9" fill="url(#b27)"/><rect x="1237.59" y="605.1" width="7.52" height="515.9" fill="url(#b28)"/><rect x="1244.52" y="605.1" width="7.52" height="515.9" fill="url(#b29)"/><rect x="1251.44" y="605.1" width="7.52" height="515.9" fill="url(#b30)"/><rect x="1258.37" y="605.1" width="7.52" height="515.9" fill="url(#b31)"/><rect x="1265.29" y="605.1" width="7.52" height="515.9" fill="url(#b32)"/><rect x="1272.22" y="605.1" width="7.52" height="515.9" fill="url(#b33)"/><rect x="1279.14" y="605.1" width="7.52" height="515.9" fill="url(#b34)"/><rect x="1286.06" y="605.1" width="7.52" height="515.9" fill="url(#b35)"/><rect x="1292.99" y="605.1" width="7.52" height="515.9" fill="url(#b36)"/><rect x="1299.91" y="605.1" width="7.52" height="515.9" fill="url(#b37)"/><rect x="1306.84" y="605.1" width="7.52" height="515.9" fill="url(#b38)"/><rect x="1313.76" y="605.1" width="7.52" height="515.9" fill="url(#b39)"/><rect x="1320.69" y="605.1" width="7.52" height="515.9" fill="url(#b40)"/><rect x="1327.61" y="605.1" width="7.52" height="515.9" fill="url(#b41)"/><rect x="1334.54" y="605.1" width="7.52" height="515.9" fill="url(#b42)"/><rect x="1341.46" y="605.1" width="7.52" height="515.9" fill="url(#b43)"/><rect x="1348.39" y="605.1" width="7.52" height="515.9" fill="url(#b44)"/><rect x="1355.31" y="605.1" width="7.52" height="515.9" fill="url(#b45)"/><rect x="1362.24" y="605.1" width="7.52" height="515.9" fill="url(#b46)"/><rect x="1369.16" y="605.1" width="7.52" height="515.9" fill="url(#b47)"/><rect x="1376.09" y="605.1" width="7.52" height="515.9" fill="url(#b48)"/><rect x="1383.01" y="605.1" width="7.52" height="515.9" fill="url(#b49)"/><rect x="1389.94" y="605.1" width="7.52" height="515.9" fill="url(#b50)"/><rect x="1396.86" y="605.1" width="7.52" height="515.9" fill="url(#b51)"/><rect x="1403.78" y="605.1" width="7.52" height="515.9" fill="url(#b52)"/><rect x="1410.71" y="605.1" width="7.52" height="515.9" fill="url(#b53)"/><rect x="1417.63" y="605.1" width="7.52" height="515.9" fill="url(#b54)"/><rect x="1424.56" y="605.1" width="7.52" height="515.9" fill="url(#b55)"/><rect x="1431.48" y="605.1" width="7.52" height="515.9" fill="url(#b56)"/><rect x="1438.41" y="605.1" width="7.52" height="515.9" fill="url(#b57)"/><rect x="1445.33" y="605.1" width="7.52" height="515.9" fill="url(#b58)"/><rect x="1452.26" y="605.1" width="7.52" height="515.9" fill="url(#b59)"/><rect x="1459.18" y="605.1" width="7.52" height="515.9" fill="url(#b60)"/><rect x="1466.11" y="605.1" width="7.52" height="515.9" fill="url(#b61)"/><rect x="1473.03" y="605.1" width="7.52" height="515.9" fill="url(#b62)"/><rect x="1479.96" y="605.1" width="7.52" height="515.9" fill="url(#b63)"/><rect x="1486.88" y="605.1" width="7.52" height="515.9" fill="url(#b64)"/><rect x="1493.81" y="605.1" width="7.52" height="515.9" fill="url(#b65)"/><rect x="1500.73" y="605.1" width="7.52" height="515.9" fill="url(#b66)"/><rect x="1507.66" y="605.1" width="7.52" height="515.9" fill="url(#b67)"/><rect x="1514.58" y="605.1" width="7.52" height="515.9" fill="url(#b68)"/><rect x="1521.50" y="605.1" width="7.52" height="515.9" fill="url(#b69)"/><rect x="1528.43" y="605.1" width="7.52" height="515.9" fill="url(#b70)"/><rect x="1535.35" y="605.1" width="7.52" height="515.9" fill="url(#b71)"/><rect x="1542.28" y="605.1" width="7.52" height="515.9" fill="url(#b72)"/><rect x="1549.20" y="605.1" width="7.52" height="515.9" fill="url(#b73)"/><rect x="1556.13" y="605.1" width="7.52" height="515.9" fill="url(#b74)"/><rect x="1563.05" y="605.1" width="7.52" height="515.9" fill="url(#b75)"/><rect x="1569.98" y="605.1" width="7.52" height="515.9" fill="url(#b76)"/><rect x="1576.90" y="605.1" width="7.52" height="515.9" fill="url(#b77)"/><rect x="1583.83" y="605.1" width="7.52" height="515.9" fill="url(#b78)"/><rect x="1590.75" y="605.1" width="7.52" height="515.9" fill="url(#b79)"/><rect x="1597.68" y="605.1" width="7.52" height="515.9" fill="url(#b80)"/><rect x="1604.60" y="605.1" width="7.52" height="515.9" fill="url(#b81)"/><rect x="1611.53" y="605.1" width="7.52" height="515.9" fill="url(#b82)"/><rect x="1618.45" y="605.1" width="7.52" height="515.9" fill="url(#b83)"/><rect x="1625.38" y="605.1" width="7.52" height="515.9" fill="url(#b84)"/><rect x="1631.60" y="605.1" width="12" height="515.9" fill="url(#b84)"/></g></g>
<path d="M1044.00 610.91h9M1632.60 610.91h-9M1044.00 695.14h9M1632.60 695.14h-9M1044.00 779.37h9M1632.60 779.37h-9M1044.00 863.60h9M1632.60 863.60h-9M1044.00 947.83h9M1632.60 947.83h-9M1044.00 1032.06h9M1632.60 1032.06h-9M1044.00 1116.29h9M1632.60 1116.29h-9" stroke="#000" stroke-width="1.3" fill="none"/>
<path d="M1078.62 1121.00v-9M1078.62 605.10v9M1147.87 1121.00v-9M1147.87 605.10v9M1217.12 1121.00v-9M1217.12 605.10v9M1286.36 1121.00v-9M1286.36 605.10v9M1355.61 1121.00v-9M1355.61 605.10v9M1424.86 1121.00v-9M1424.86 605.10v9M1494.11 1121.00v-9M1494.11 605.10v9M1563.35 1121.00v-9M1563.35 605.10v9" stroke="#000" stroke-width="1.3" fill="none"/>
<rect x="1044.00" y="605.10" width="588.60" height="515.90" fill="none" stroke="#000" stroke-width="3.0"/>
<text x="1019.90" y="620.71" font-size="36.5" text-anchor="end" textLength="47.2" lengthAdjust="spacingAndGlyphs">0.6</text><text x="1019.90" y="704.94" font-size="36.5" text-anchor="end" textLength="47.2" lengthAdjust="spacingAndGlyphs">0.4</text><text x="1019.90" y="789.17" font-size="36.5" text-anchor="end" textLength="47.2" lengthAdjust="spacingAndGlyphs">0.2</text><text x="1019.90" y="873.40" font-size="36.5" text-anchor="end" textLength="47.2" lengthAdjust="spacingAndGlyphs">0.0</text><text x="1019.90" y="957.63" font-size="36.5" text-anchor="end" textLength="47.2" lengthAdjust="spacingAndGlyphs">0.2</text><text x="943.50" y="957.63" font-size="36.5" textLength="25.5" lengthAdjust="spacingAndGlyphs">−</text><text x="1019.90" y="1041.86" font-size="36.5" text-anchor="end" textLength="47.2" lengthAdjust="spacingAndGlyphs">0.4</text><text x="943.50" y="1041.86" font-size="36.5" textLength="25.5" lengthAdjust="spacingAndGlyphs">−</text><text x="1019.90" y="1126.09" font-size="36.5" text-anchor="end" textLength="47.2" lengthAdjust="spacingAndGlyphs">0.6</text><text x="943.50" y="1126.09" font-size="36.5" textLength="25.5" lengthAdjust="spacingAndGlyphs">−</text>
<text x="1078.62" y="1171.60" font-size="36.5" text-anchor="middle" textLength="19.1" lengthAdjust="spacingAndGlyphs">2</text><text x="1147.87" y="1171.60" font-size="36.5" text-anchor="middle" textLength="19.1" lengthAdjust="spacingAndGlyphs">3</text><text x="1217.12" y="1171.60" font-size="36.5" text-anchor="middle" textLength="19.1" lengthAdjust="spacingAndGlyphs">4</text><text x="1286.36" y="1171.60" font-size="36.5" text-anchor="middle" textLength="19.1" lengthAdjust="spacingAndGlyphs">5</text><text x="1355.61" y="1171.60" font-size="36.5" text-anchor="middle" textLength="19.1" lengthAdjust="spacingAndGlyphs">6</text><text x="1424.86" y="1171.60" font-size="36.5" text-anchor="middle" textLength="19.1" lengthAdjust="spacingAndGlyphs">7</text><text x="1494.11" y="1171.60" font-size="36.5" text-anchor="middle" textLength="19.1" lengthAdjust="spacingAndGlyphs">8</text><text x="1563.35" y="1171.60" font-size="36.5" text-anchor="middle" textLength="19.1" lengthAdjust="spacingAndGlyphs">9</text><text x="1633.10" y="1171.60" font-size="36.5" text-anchor="middle" textLength="37.8" lengthAdjust="spacingAndGlyphs">10</text><text x="1062.60" y="1220.60" font-size="37" textLength="29" lengthAdjust="spacingAndGlyphs">b)</text><text x="1263.70" y="1220.60" font-size="37" textLength="79" lengthAdjust="spacingAndGlyphs">Time</text><text x="1355.60" y="1221.30" font-size="40.5">[</text><text class="mu" x="1368.00" y="1220.60" font-size="38">μ</text><text x="1389.30" y="1220.60" font-size="37" textLength="14.5" lengthAdjust="spacingAndGlyphs">s</text><text x="1403.00" y="1221.30" font-size="40.5">]</text>
<text transform="translate(911.80 925.5) rotate(-90)" font-size="37" textLength="101.4" lengthAdjust="spacingAndGlyphs">Y [cm]</text>
</g>
<g id="plot-c">
<clipPath id="clip-c"><rect x="161.00" y="1287.90" width="588.60" height="515.50"/></clipPath>
<polyline points="164.9,1790.0 171.8,1803.4 178.8,1771.4 185.7,1806.0 192.6,1824.0 199.5,1824.0 206.4,1773.0 213.4,1780.7 220.3,1757.0 227.2,1739.0 234.2,1804.4 241.1,1762.2 248.0,1757.0 254.9,1752.4 261.9,1610.6 268.8,1690.5 275.7,1773.0 282.6,1482.2 289.6,1634.3 296.5,1385.8 303.4,1594.1 310.3,1336.9 317.2,1512.1 324.2,1416.8 331.1,1287.9 338.0,1326.0 344.9,1391.0 351.9,1336.4 358.8,1345.6 365.7,1366.8 372.6,1348.2 379.6,1351.3 386.5,1340.5 393.4,1330.2 400.4,1373.0 407.3,1414.7 414.2,1427.1 421.1,1441.0 428.0,1430.7 435.0,1393.6 441.9,1444.6 448.8,1398.7 455.8,1416.8 462.7,1423.0 469.6,1465.2 476.5,1423.5 483.5,1428.1 490.4,1445.1 497.3,1419.4 504.2,1548.7 511.1,1382.2 518.1,1455.4 525.0,1465.2 531.9,1473.5 538.9,1476.6 545.8,1458.0 552.7,1523.5 559.6,1485.3 566.5,1434.3 573.5,1538.4 580.4,1511.6 587.3,1554.4 594.2,1582.8 601.2,1594.6 608.1,1634.8 615.0,1608.5 622.0,1562.7 628.9,1622.5 635.8,1682.3 642.7,1654.4 649.6,1662.2 656.6,1724.0 663.5,1695.7 670.4,1741.5 677.3,1657.0 684.3,1753.4 691.2,1727.1 698.1,1728.7 705.0,1796.2 712.0,1771.4 718.9,1721.4 725.8,1749.8 732.8,1793.1 739.7,1723.0 746.6,1753.4" fill="none" stroke="#0000ff" stroke-width="2.8" stroke-linejoin="round" clip-path="url(#clip-c)"/>
<path d="M161.00 1391.00h9M749.60 1391.00h-9M161.00 1494.10h9M749.60 1494.10h-9M161.00 1597.20h9M749.60 1597.20h-9M161.00 1700.30h9M749.60 1700.30h-9" stroke="#000" stroke-width="1.3" fill="none"/>
<path d="M195.62 1803.40v-9M195.62 1287.90v9M264.87 1803.40v-9M264.87 1287.90v9M334.12 1803.40v-9M334.12 1287.90v9M403.36 1803.40v-9M403.36 1287.90v9M472.61 1803.40v-9M472.61 1287.90v9M541.86 1803.40v-9M541.86 1287.90v9M611.11 1803.40v-9M611.11 1287.90v9M680.35 1803.40v-9M680.35 1287.90v9" stroke="#000" stroke-width="1.3" fill="none"/>
<rect x="161.00" y="1287.90" width="588.60" height="515.50" fill="none" stroke="#000" stroke-width="3.0"/>
<text x="136.90" y="1298.10" font-size="36.5" text-anchor="end" textLength="47.2" lengthAdjust="spacingAndGlyphs">1.0</text><text x="136.90" y="1401.20" font-size="36.5" text-anchor="end" textLength="47.2" lengthAdjust="spacingAndGlyphs">0.8</text><text x="136.90" y="1504.30" font-size="36.5" text-anchor="end" textLength="47.2" lengthAdjust="spacingAndGlyphs">0.6</text><text x="136.90" y="1607.40" font-size="36.5" text-anchor="end" textLength="47.2" lengthAdjust="spacingAndGlyphs">0.4</text><text x="136.90" y="1710.50" font-size="36.5" text-anchor="end" textLength="47.2" lengthAdjust="spacingAndGlyphs">0.2</text><text x="136.90" y="1813.60" font-size="36.5" text-anchor="end" textLength="47.2" lengthAdjust="spacingAndGlyphs">0.0</text>
<text x="195.62" y="1854.00" font-size="36.5" text-anchor="middle" textLength="19.1" lengthAdjust="spacingAndGlyphs">2</text><text x="264.87" y="1854.00" font-size="36.5" text-anchor="middle" textLength="19.1" lengthAdjust="spacingAndGlyphs">3</text><text x="334.12" y="1854.00" font-size="36.5" text-anchor="middle" textLength="19.1" lengthAdjust="spacingAndGlyphs">4</text><text x="403.36" y="1854.00" font-size="36.5" text-anchor="middle" textLength="19.1" lengthAdjust="spacingAndGlyphs">5</text><text x="472.61" y="1854.00" font-size="36.5" text-anchor="middle" textLength="19.1" lengthAdjust="spacingAndGlyphs">6</text><text x="541.86" y="1854.00" font-size="36.5" text-anchor="middle" textLength="19.1" lengthAdjust="spacingAndGlyphs">7</text><text x="611.11" y="1854.00" font-size="36.5" text-anchor="middle" textLength="19.1" lengthAdjust="spacingAndGlyphs">8</text><text x="680.35" y="1854.00" font-size="36.5" text-anchor="middle" textLength="19.1" lengthAdjust="spacingAndGlyphs">9</text><text x="750.10" y="1854.00" font-size="36.5" text-anchor="middle" textLength="37.8" lengthAdjust="spacingAndGlyphs">10</text><text x="179.60" y="1903.00" font-size="37" textLength="29" lengthAdjust="spacingAndGlyphs">c)</text><text x="380.70" y="1903.00" font-size="37" textLength="79" lengthAdjust="spacingAndGlyphs">Time</text><text x="472.60" y="1903.70" font-size="40.5">[</text><text class="mu" x="485.00" y="1903.00" font-size="38">μ</text><text x="506.30" y="1903.00" font-size="37" textLength="14.5" lengthAdjust="spacingAndGlyphs">s</text><text x="520.00" y="1903.70" font-size="40.5">]</text>
<text transform="translate(58.80 1752.3) rotate(-90)" font-size="37" textLength="389.8" lengthAdjust="spacingAndGlyphs">Integrated Intensity [a.u.]</text>
</g>
<g id="plot-d">
<clipPath id="clip-d"><rect x="1044.00" y="1287.90" width="588.60" height="515.50"/></clipPath>
<polyline points="1047.9,1803.4 1054.8,1797.7 1061.8,1789.5 1068.7,1793.1 1075.6,1804.4 1082.5,1786.4 1089.5,1794.1 1096.4,1803.4 1103.3,1790.0 1110.2,1776.1 1117.2,1777.1 1124.1,1785.4 1131.0,1745.7 1137.9,1745.1 1144.8,1771.4 1151.8,1712.7 1158.7,1671.4 1165.6,1672.5 1172.5,1708.5 1179.5,1576.6 1186.4,1642.0 1193.3,1413.2 1200.2,1537.9 1207.2,1482.2 1214.1,1287.9 1221.0,1473.5 1228.0,1402.3 1234.9,1346.7 1241.8,1477.1 1248.7,1477.1 1255.7,1402.3 1262.6,1360.6 1269.5,1334.8 1276.4,1400.8 1283.3,1429.1 1290.3,1417.8 1297.2,1386.9 1304.1,1475.0 1311.0,1440.0 1318.0,1447.7 1324.9,1421.4 1331.8,1368.8 1338.8,1461.6 1345.7,1439.5 1352.6,1467.3 1359.5,1401.3 1366.5,1466.3 1373.4,1491.5 1380.3,1450.3 1387.2,1447.7 1394.2,1420.9 1401.1,1498.7 1408.0,1463.7 1414.9,1525.5 1421.8,1470.4 1428.8,1479.7 1435.7,1515.8 1442.6,1492.0 1449.5,1541.5 1456.5,1518.3 1463.4,1491.5 1470.3,1494.1 1477.2,1518.3 1484.2,1560.6 1491.1,1514.2 1498.0,1541.0 1505.0,1535.3 1511.9,1554.4 1518.8,1541.5 1525.7,1562.1 1532.7,1660.1 1539.6,1574.5 1546.5,1664.2 1553.4,1666.3 1560.3,1730.7 1567.3,1691.0 1574.2,1727.1 1581.1,1730.2 1588.0,1736.4 1595.0,1779.7 1601.9,1765.8 1608.8,1752.4 1615.8,1785.4 1622.7,1770.9 1629.6,1791.5" fill="none" stroke="#0000ff" stroke-width="2.8" stroke-linejoin="round" clip-path="url(#clip-d)"/>
<path d="M1044.00 1391.00h9M1632.60 1391.00h-9M1044.00 1494.10h9M1632.60 1494.10h-9M1044.00 1597.20h9M1632.60 1597.20h-9M1044.00 1700.30h9M1632.60 1700.30h-9" stroke="#000" stroke-width="1.3" fill="none"/>
<path d="M1078.62 1803.40v-9M1078.62 1287.90v9M1147.87 1803.40v-9M1147.87 1287.90v9M1217.12 1803.40v-9M1217.12 1287.90v9M1286.36 1803.40v-9M1286.36 1287.90v9M1355.61 1803.40v-9M1355.61 1287.90v9M1424.86 1803.40v-9M1424.86 1287.90v9M1494.11 1803.40v-9M1494.11 1287.90v9M1563.35 1803.40v-9M1563.35 1287.90v9" stroke="#000" stroke-width="1.3" fill="none"/>
<rect x="1044.00" y="1287.90" width="588.60" height="515.50" fill="none" stroke="#000" stroke-width="3.0"/>
<text x="1019.90" y="1298.10" font-size="36.5" text-anchor="end" textLength="47.2" lengthAdjust="spacingAndGlyphs">1.0</text><text x="1019.90" y="1401.20" font-size="36.5" text-anchor="end" textLength="47.2" lengthAdjust="spacingAndGlyphs">0.8</text><text x="1019.90" y="1504.30" font-size="36.5" text-anchor="end" textLength="47.2" lengthAdjust="spacingAndGlyphs">0.6</text><text x="1019.90" y="1607.40" font-size="36.5" text-anchor="end" textLength="47.2" lengthAdjust="spacingAndGlyphs">0.4</text><text x="1019.90" y="1710.50" font-size="36.5" text-anchor="end" textLength="47.2" lengthAdjust="spacingAndGlyphs">0.2</text><text x="1019.90" y="1813.60" font-size="36.5" text-anchor="end" textLength="47.2" lengthAdjust="spacingAndGlyphs">0.0</text>
<text x="1078.62" y="1854.00" font-size="36.5" text-anchor="middle" textLength="19.1" lengthAdjust="spacingAndGlyphs">2</text><text x="1147.87" y="1854.00" font-size="36.5" text-anchor="middle" textLength="19.1" lengthAdjust="spacingAndGlyphs">3</text><text x="1217.12" y="1854.00" font-size="36.5" text-anchor="middle" textLength="19.1" lengthAdjust="spacingAndGlyphs">4</text><text x="1286.36" y="1854.00" font-size="36.5" text-anchor="middle" textLength="19.1" lengthAdjust="spacingAndGlyphs">5</text><text x="1355.61" y="1854.00" font-size="36.5" text-anchor="middle" textLength="19.1" lengthAdjust="spacingAndGlyphs">6</text><text x="1424.86" y="1854.00" font-size="36.5" text-anchor="middle" textLength="19.1" lengthAdjust="spacingAndGlyphs">7</text><text x="1494.11" y="1854.00" font-size="36.5" text-anchor="middle" textLength="19.1" lengthAdjust="spacingAndGlyphs">8</text><text x="1563.35" y="1854.00" font-size="36.5" text-anchor="middle" textLength="19.1" lengthAdjust="spacingAndGlyphs">9</text><text x="1633.10" y="1854.00" font-size="36.5" text-anchor="middle" textLength="37.8" lengthAdjust="spacingAndGlyphs">10</text><text x="1062.60" y="1903.00" font-size="37" textLength="29" lengthAdjust="spacingAndGlyphs">d)</text><text x="1263.70" y="1903.00" font-size="37" textLength="79" lengthAdjust="spacingAndGlyphs">Time</text><text x="1355.60" y="1903.70" font-size="40.5">[</text><text class="mu" x="1368.00" y="1903.00" font-size="38">μ</text><text x="1389.30" y="1903.00" font-size="37" textLength="14.5" lengthAdjust="spacingAndGlyphs">s</text><text x="1403.00" y="1903.70" font-size="40.5">]</text>
<text transform="translate(941.80 1752.3) rotate(-90)" font-size="37" textLength="389.8" lengthAdjust="spacingAndGlyphs">Integrated Intensity [a.u.]</text>
</g>
<g id="annotations">
<text x="197.5" y="632.1" font-size="31" textLength="271" lengthAdjust="spacingAndGlyphs" style="fill:#fff">Coherent Structures</text>
<path d="M300.1 656.4V716" stroke="#fff" stroke-width="2.5" fill="none"/><path d="M300.1 731.4l-9.3-17.3h18.6z" fill="#fff"/>
<text x="321.6" y="1777.3" font-size="31" textLength="289.6" lengthAdjust="spacingAndGlyphs">Strong Flow Features</text>
<path d="M403.6 1722.1V1619.5Q403.6 1597.4 381.5 1597.4H339" stroke="#000" stroke-width="2.5" fill="none" stroke-linecap="round"/><path d="M323.3 1597.4l17.5-8.7v17.4z" fill="#000" stroke="#000" stroke-width="1" stroke-linejoin="round"/>
<text x="1236.7" y="1777.7" font-size="31" textLength="239" lengthAdjust="spacingAndGlyphs">Flow Stabilization</text>
<path d="M1356 1722.1V1594" stroke="#000" stroke-width="2.5" fill="none" stroke-linecap="round"/><path d="M1356 1578.2l8.9 16.9h-17.8z" fill="#000" stroke="#000" stroke-width="1" stroke-linejoin="round"/>
</g>
</svg></body></html>
